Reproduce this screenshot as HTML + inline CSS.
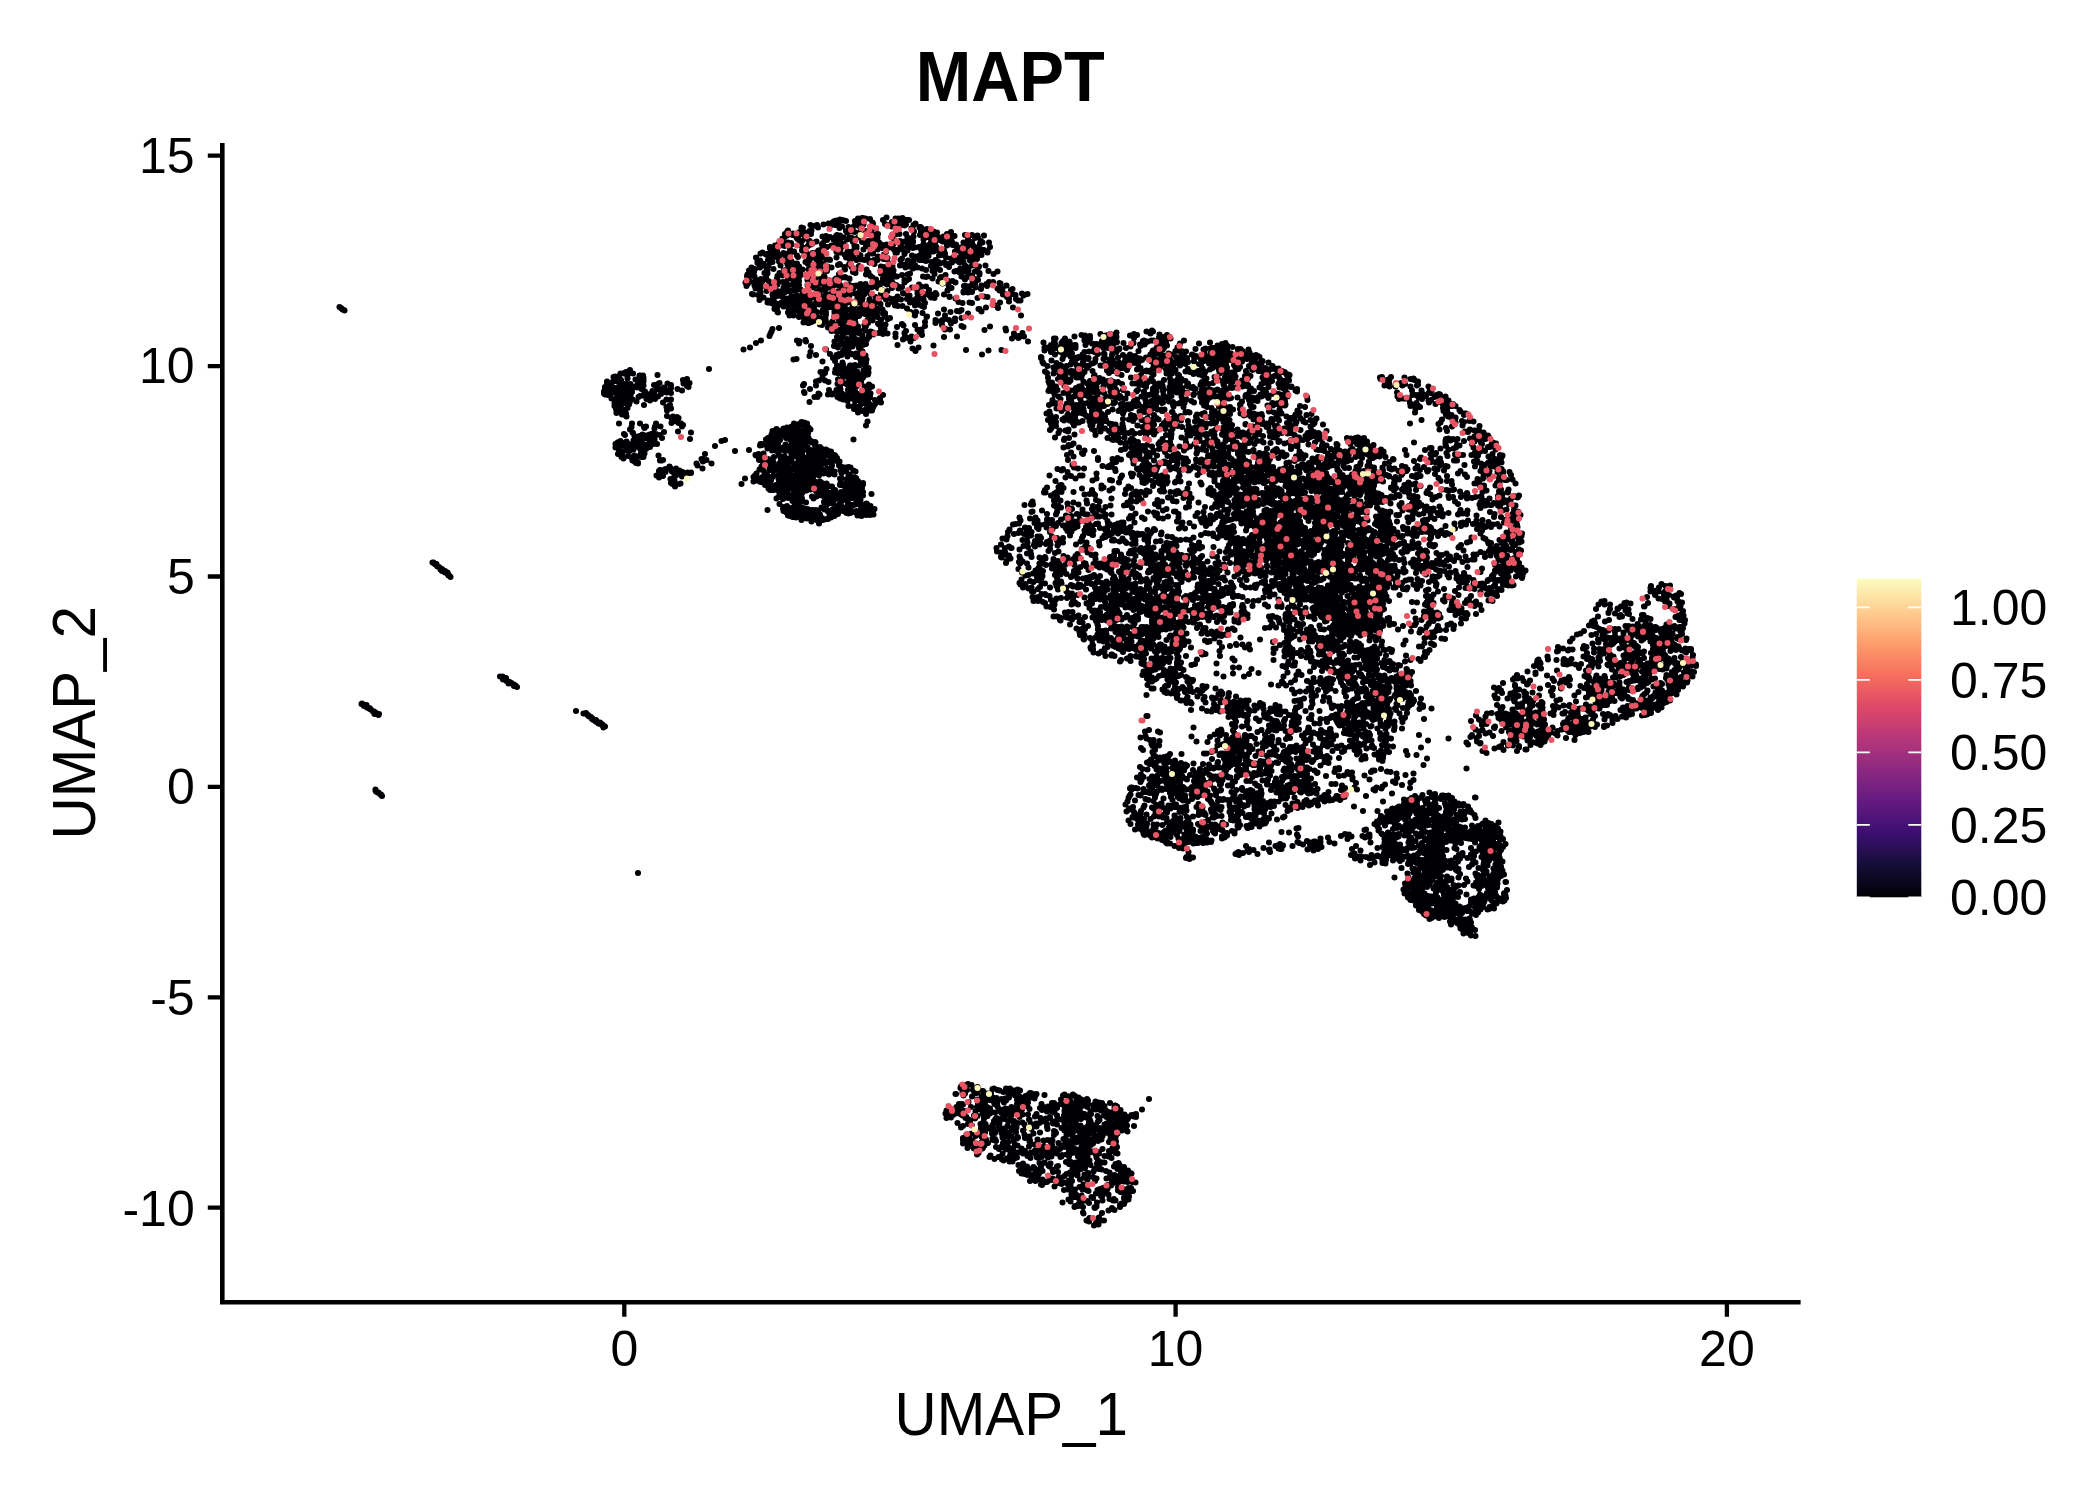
<!DOCTYPE html>
<html><head><meta charset="utf-8"><title>MAPT</title>
<style>
html,body{margin:0;padding:0;background:#fff}
body{width:2100px;height:1500px;overflow:hidden}
svg{display:block}
text{font-family:"Liberation Sans",sans-serif;fill:#000}
</style></head><body>
<svg width="2100" height="1500" viewBox="0 0 2100 1500">
<defs><linearGradient id="mg" x1="0" y1="1" x2="0" y2="0">
<stop offset="0" stop-color="#000004"/><stop offset=".1" stop-color="#140e36"/><stop offset=".2" stop-color="#3b0f70"/><stop offset=".3" stop-color="#641a80"/><stop offset=".4" stop-color="#8c2981"/><stop offset=".5" stop-color="#b73779"/><stop offset=".6" stop-color="#de4968"/><stop offset=".7" stop-color="#f7705c"/><stop offset=".8" stop-color="#fe9f6d"/><stop offset=".9" stop-color="#fecf92"/><stop offset="1" stop-color="#fcfdbf"/>
</linearGradient></defs>
<rect width="2100" height="1500" fill="#fff"/>
<text transform="translate(1010.2,101) scale(1,1.065)" font-size="66.67" font-weight="bold" text-anchor="middle">MAPT</text>
<g stroke="#000" stroke-width="4.6" fill="none">
<path d="M222.3 143V1304.6M220 1302.3H1800.6"/>
<path stroke-width="4.3" d="M207.8 155.7H222M207.8 366.1H222M207.8 576.5H222M207.8 786.9H222M207.8 997.3H222M207.8 1207.7H222"/>
<path stroke-width="4.3" d="M624.3 1302V1316.8M1175.6 1302V1316.8M1726.9 1302V1316.8"/>
</g>
<g font-size="50" text-anchor="end">
<text x="194.7" y="173">15</text><text x="194.7" y="383.4">10</text><text x="194.7" y="593.8">5</text><text x="194.7" y="804.2">0</text><text x="194.7" y="1014.6">-5</text><text x="194.7" y="1225.5">-10</text>
</g>
<g font-size="50" text-anchor="middle">
<text x="624.3" y="1366">0</text><text x="1175.6" y="1366">10</text><text x="1726.9" y="1366">20</text>
</g>
<text transform="translate(1011.3,1434.7) scale(1,1.06)" font-size="58.33" text-anchor="middle">UMAP_1</text>
<text transform="translate(95.3,722.7) rotate(-90) scale(1,1.06)" font-size="58.33" text-anchor="middle">UMAP_2</text>
<g fill="none" stroke-width="6.1" stroke-linecap="round">
<path d="M801.5 227.5h0m1.5 .5h0m7.5-3h0m2.5 1h0m4-1h0m1 2.5h0m5.5-3h0m5-1h0m2 1h0m0 1h0m1.5-1h0m1-2.5h0m1.5-1h0m.5 4h0m1.5-4.5h0m.5 4.5h0m1.5-2.5h0m0 1h0m1 4.5h0m.5-8.5h0m2 .5h0m0 6.5h0m2-6h0m0 0h0m2 .5h0m2.5 6h0m4.5 0h0m2-6h0m0 4h0m3-6.5h0m0 2.5h0m.5 .5h0m.5 4.5h0m1 1h0m1-1.5h0m1-7.5h0m1 0h0m.5 6.5h0m0-1.5h0m2-4.5h0m4.5 .5h0m2.5 3.5h0m.5 1h0m10-3.5h0m2 4h0m1.5-6.5h0m0 7.5h0m4.5-1h0m.5 1h0m.5-3h0m0 4.5h0m3-4h0m.5-4h0m2 9h0m.5-.5h0m.5-1.5h0m0-7h0m1 6.5h0m.5 .5h0m.5-1h0m.5-2.5h0m.5-3.5h0m1-.5h0m1 2h0m.5 2.5h0m.5 3h0m.5-.5h0m1-.5h0m0-4.5h0m1.5 0h0m1.5 0h0m3.5 8h0m1-3h0m2-1.5h0m4 4h0m.5-.5h0m.5 0h0m-138 11.5h0m1 .5h0m1.5-5h0m1 2h0m.5-2.5h0m.5-1.5h0m0 3.5h0m1-5h0m4.5 4.5h0m.5-1.5h0m3.5 4h0m.5-4h0m.5 5.5h0m1-6h0m0 3h0m0-1h0m1-3h0m2 .5h0m.5 1h0m0 .5h0m1.5-1.5h0m1.5 6h0m.5-2.5h0m.5-3h0m3 1h0m.5-3h0m1.5 3h0m.5-3.5h0m11 6h0m2.5 0h0m0 2h0m1-2.5h0m1 1.5h0m.5-.5h0m2.5 0h0m3.5 2.5h0m2-2.5h0m1 2.5h0m0-4h0m0 1.5h0m.5 2h0m0-4h0m.5 3.5h0m0 0h0m.5-2h0m2-1h0m0 1.5h0m3.5 .5h0m2.5-6.5h0m1 8.5h0m0-7h0m2.5 5h0m2.5 2.5h0m0-8.5h0m0 6.5h0m2.5-6h0m.5 8h0m.5-1h0m2.5-1.5h0m1.5-5h0m.5 1h0m0 1h0m1-6h0m5 2.5h0m1 1.5h0m.5 1.5h0m1-3.5h0m3-1.5h0m.5 5h0m1 5.5h0m0-2.5h0m.5 2.5h0m.5-5h0m2-6h0m1.5 9.5h0m.5-4h0m14 3.5h0m.5-3h0m3 0h0m1-1h0m0-4h0m3 4.5h0m6.5 0h0m1.5 4.5h0m0-1h0m1 1h0m.5 1h0m2.5-11h0m2 8h0m.5-5h0m6 3.5h0m1-2.5h0m0-1.5h0m.5-3h0m1 6.5h0m1 2h0m0 3h0m0-6.5h0m0-2.5h0m2 7h0m1-.5h0m.5-8h0m2.5 3h0m.5 5.5h0m.5-1h0m0-7h0m2 9.5h0m1-6h0m0-1.5h0m1.5 6.5h0m.5-4h0m1.5-1.5h0m1 4.5h0m1.5 3h0m4-3.5h0m1.5 2h0m2-4.5h0m.5 5h0m2 .5h0m1.5-1h0m0-6.5h0m.5 4.5h0m.5 1h0m2.5-1.5h0m10.5-1h0m3 3h0m4-3h0m3 3h0m2-.5h0m0-.5h0m.5-1.5h0m0 1.5h0m.5 .5h0m6-2h0m-214 13h0m0-1.5h0m4 1h0m1 3.5h0m0-6h0m.5 3.5h0m1.5 2h0m0-4h0m1.5-3h0m.5 2h0m2-2.5h0m2.5-1h0m1 3.5h0m1.5-3h0m2-.5h0m2 7h0m1-6.5h0m.5 1.5h0m.5 7.5h0m2-.5h0m6-9.5h0m1 3.5h0m1-4.5h0m0 9.5h0m.5-3h0m1.5 1.5h0m1.5 0h0m1-1.5h0m1-1h0m1-1h0m.5-5h0m0 3.5h0m2 .5h0m1-2h0m.5 1h0m4-2h0m2 9h0m1.5-.5h0m2-5.5h0m1-1.5h0m1.5 5.5h0m2.5-1.5h0m0-7h0m4.5 5.5h0m4-2.5h0m2.5 1.5h0m1 5.5h0m.5-7h0m0 1h0m.5-2.5h0m.5 7.5h0m.5-1.5h0m2.5-3.5h0m2 2h0m2 5.5h0m.5 0h0m5-9.5h0m1.5 4h0m0 3h0m1 .5h0m1 2.5h0m0-5.5h0m0 1.5h0m5.5-6h0m1.5 7.5h0m2.5-3.5h0m.5-.5h0m1-2.5h0m.5-2h0m1.5 3.5h0m.5-3.5h0m0 6.5h0m.5-2h0m2.5-4h0m3 .5h0m1.5 7.5h0m0-3h0m1-2.5h0m.5-1.5h0m1 1.5h0m1.5 .5h0m0 .5h0m.5 3h0m0-2h0m2.5-.5h0m.5 1.5h0m1.5-2.5h0m.5 2h0m2.5 1h0m4-3.5h0m.5 5.5h0m.5-8.5h0m.5 1h0m2 8h0m2-.5h0m1-8.5h0m.5 5h0m.5 0h0m1.5 3.5h0m1-7.5h0m1-.5h0m.5 7h0m1-.5h0m1.5 2.5h0m0-1h0m.5-4h0m2-4.5h0m.5 1.5h0m2 2h0m.5 3.5h0m0-6h0m0-1h0m.5 6.5h0m1.5 0h0m4-.5h0m1 0h0m0 1h0m1.5 2.5h0m2-6.5h0m1.5 3h0m.5 1h0m.5-2h0m2.5 1h0m0 2.5h0m1-5h0m.5 3h0m.5 4h0m0 0h0m0-1h0m.5-.5h0m0-8h0m1 9.5h0m1-10h0m.5 10h0m1.5-8h0m0-.5h0m1 3.5h0m1.5 3.5h0m5-8.5h0m1.5 9h0m1.5-8.5h0m1.5 3.5h0m2-5h0m3 1.5h0m.5 3h0m1 0h0m1.5 6.5h0m1-7h0m0 1.5h0m.5-.5h0m2 4.5h0m2 0h0m.5-2h0m1.5-1h0m.5 3.5h0m.5-8h0m2 8h0m1-2.5h0m.5 3h0m.5-10h0m0 10.5h0m0-5h0m4.5-4h0m0-.5h0m1 3.5h0m1 5.5h0m0-3.5h0m1-.5h0m2.5 2.5h0m2-.5h0m.5-5.5h0m1-2.5h0m.5 8.5h0m1-7h0m1.5 7.5h0m3.5 1h0m1.5-8.5h0m1 4.5h0m-234 10.5h0m1.5 4h0m0 1.5h0m2.5-2.5h0m0 2.5h0m.5-9.5h0m2-1h0m.5 11h0m3-9h0m.5-.5h0m1.5 6h0m0-6h0m1 1.5h0m2.5-2.5h0m0-.5h0m.5 5.5h0m.5 4h0m1.5-9h0m.5-1h0m3 5.5h0m.5-3.5h0m0 .5h0m1 2.5h0m0 4.5h0m1-1.5h0m3.5-7h0m1.5 .5h0m0 2h0m.5-1h0m.5 5.5h0m0 1.5h0m1.5 1.5h0m2.5-10.5h0m1.5 9h0m2.5 2h0m3 0h0m0-8h0m1 1.5h0m6.5-2h0m.5 0h0m.5 7h0m1-9h0m.5 1h0m1 10h0m.5-9h0m.5 3.5h0m.5 3.5h0m.5-7.5h0m0 4.5h0m.5-4.5h0m2-1.5h0m.5 2.5h0m.5 2h0m2.5-1.5h0m.5 3h0m.5-7h0m0 9h0m3-1.5h0m1-7h0m0 5.5h0m.5-2.5h0m.5 2h0m1-4h0m0 10h0m4-4h0m2.5 0h0m.5 .5h0m6.5-8h0m0 5.5h0m3.5-5h0m4.5 2h0m1.5 3h0m2.5-3.5h0m1.5 6h0m0-7.5h0m.5-.5h0m.5 1h0m1 1.5h0m1.5-1h0m0 4.5h0m3 2h0m2.5-5.5h0m0 5h0m1.5-1.5h0m0-2.5h0m1.5 4h0m2.5 .5h0m3-4h0m2 6.5h0m.5-1.5h0m.5-8.5h0m2.5 1h0m1 6.5h0m.5 4h0m0-3.5h0m3-.5h0m.5-3.5h0m5.5 2.5h0m.5-4.5h0m1.5 4h0m.5-6.5h0m1 7.5h0m.5-1.5h0m4.5 5.5h0m3.5-10.5h0m1.5-.5h0m3.5 7.5h0m1.5-1.5h0m2.5-4.5h0m3.5 6.5h0m4-5h0m1.5 5h0m2-4h0m4-1h0m0 4.5h0m1-5h0m1 3h0m.5 2h0m1.5-6.5h0m1 7h0m.5-3h0m1 3.5h0m.5-.5h0m1-7.5h0m1 3h0m3 6h0m4-1.5h0m0-.5h0m3 2h0m.5-6.5h0m1 8h0m.5-8.5h0m1 0h0m1-1h0m1.5 8.5h0m1-9h0m1 4h0m1.5 6.5h0m3.5-5.5h0m.5 1h0m.5 3h0m1.5-3h0m.5-1h0m.5-2.5h0m1 1.5h0m2 3.5h0m0-3h0m2 4.5h0m1.5-9.5h0m.5 7.5h0m.5-4.5h0m.5 4.5h0m1 1.5h0m1-9.5h0m2 3h0m.5 1h0m.5-1h0m1-1.5h0m1.5 0h0m0 6.5h0m1.5-7.5h0m0 5h0m.5-3.5h0m.5 3h0m1 6.5h0m0-5.5h0m.5 4.5h0m.5 1h0m2.5-5h0m.5-5.5h0m1.5 1.5h0m.5-.5h0m1.5 0h0m.5 .5h0m6-2.5h0m-240.5 23.5h0m.5-1.5h0m1.5-4h0m2.5 5h0m0-8h0m2 4.5h0m.5 0h0m1-3h0m5-1.5h0m2-2h0m2 0h0m.5 7.5h0m2-5.5h0m0 3.5h0m1 2.5h0m0-3.5h0m1-4.5h0m5 3.5h0m4 7h0m2-3h0m1-7.5h0m2 10h0m1.5-5h0m2-.5h0m1.5-5.5h0m.5 6.5h0m1-6.5h0m1 3h0m1 4.5h0m1 3h0m.5-8h0m0 8h0m0-6h0m.5-2.5h0m0 1h0m.5-1h0m0 6h0m0-5.5h0m2.5 2h0m1.5 2.5h0m.5 2h0m1-7h0m1.5 8.5h0m.5 0h0m1.5-5.5h0m6 0h0m2 4.5h0m.5-4.5h0m0-.5h0m0 .5h0m.5 2.5h0m0 2.5h0m0-1.5h0m1.5 0h0m1.5-2h0m.5 3.5h0m0-2.5h0m0-.5h0m.5-1h0m.5 1.5h0m.5-3.5h0m.5-4h0m.5 4.5h0m0 3h0m.5 3h0m.5-4h0m.5 4h0m1-1.5h0m1.5-9h0m.5 2h0m0 3.5h0m0 5h0m3-7h0m2 3h0m.5-4.5h0m4 1h0m6.5-2.5h0m1 9h0m.5-10h0m.5 12h0m0-11.5h0m0 10.5h0m4.5-5.5h0m0-2.5h0m.5 2.5h0m4-5h0m2.5 2.5h0m1.5 5h0m1.5-3.5h0m1 4.5h0m3.5-7h0m0 2h0m7 6.5h0m.5-5h0m2 3h0m12.5-4.5h0m0-1.5h0m0 7h0m.5-3h0m.5 3h0m1.5 1h0m.5-7.5h0m1 6h0m3-2h0m0 2h0m1-7h0m1 1.5h0m.5-3.5h0m1 2.5h0m0 8.5h0m1-8.5h0m.5 7h0m.5-3h0m.5 5h0m6-10h0m2 9.5h0m.5-10h0m2.5-.5h0m.5 3h0m1-3h0m.5 1.5h0m.5 8.5h0m2.5-8h0m0 7h0m0-9h0m3 4h0m.5-4.5h0m1.5 1h0m2.5 2.5h0m4.5 1h0m4 1.5h0m5-4h0m1.5 5h0m2-4.5h0m0 7.5h0m0-4h0m.5-3.5h0m1.5 0h0m3.5 3.5h0m5.5 5h0m.5-10h0m3 2h0m5.5 4.5h0m1.5-.5h0m3-1h0m.5 2.5h0m1-4h0m4-1h0m.5 4h0m0-6h0m3 2h0m.5 3h0m0 4h0m3.5 1h0m0-10h0m2-.5h0m1 6.5h0m2.5-2.5h0m1.5-2.5h0m.5 6.5h0m0 1.5h0m6-9h0m3 5.5h0m5 3h0m4-2.5h0m-252 11h0m1 3.5h0m.5-4.5h0m1 2h0m1-6.5h0m1 4.5h0m4.5 4h0m0-9h0m1 4h0m1-.5h0m.5 0h0m.5 4h0m0-2h0m.5 1h0m1 3.5h0m.5 1h0m.5-7.5h0m1-1h0m1 7h0m.5-5h0m3.5-4h0m.5 2h0m2.5 2.5h0m1.5 4.5h0m5-2h0m1.5-5.5h0m.5 6h0m.5-3.5h0m5 1h0m1 1h0m.5 2.5h0m.5 .5h0m0-4h0m1.5-.5h0m.5-5.5h0m.5 .5h0m1 8.5h0m3-6.5h0m1 6.5h0m1-3.5h0m1 5h0m1.5-7.5h0m1.5 3.5h0m.5 5h0m.5-6h0m.5 3.5h0m0-7.5h0m0 3.5h0m8.5-1h0m0 5h0m1 1.5h0m1.5-7h0m0 6h0m1-3h0m.5 4.5h0m.5-5h0m.5 1h0m.5 4.5h0m2-8h0m0 2h0m0 3.5h0m0 0h0m2.5 1h0m0-9.5h0m1 7h0m3-3h0m1.5 3h0m1-1.5h0m.5-5.5h0m1.5 7.5h0m0-3h0m1.5-.5h0m1 1h0m1 6h0m.5-1.5h0m2-3h0m1.5 2.5h0m1.5-6h0m1-1h0m2-.5h0m0 2h0m.5 5.5h0m.5-2.5h0m0-4h0m.5-2h0m1.5 9h0m1 2h0m0-1h0m0-9.5h0m3-.5h0m.5 .5h0m2 10h0m.5-2.5h0m.5 3h0m1-3h0m0-6h0m0-.5h0m.5 7h0m1.5 1h0m.5-.5h0m1.5 0h0m2.5-.5h0m3.5 2h0m1-2h0m0-1.5h0m1.5 4h0m1.5-1.5h0m1-1h0m1-1.5h0m.5 2.5h0m1.5 .5h0m3-11h0m.5 11.5h0m1.5-.5h0m0-9.5h0m3.5 2h0m0 5h0m1 1.5h0m1-1h0m0-2h0m1.5 4h0m3-5.5h0m.5-3h0m1 4.5h0m0-2h0m2-4h0m1 2.5h0m0 5h0m1-3h0m0 2.5h0m1-2h0m2.5-3.5h0m.5 3.5h0m.5 4h0m.5-2.5h0m2-7h0m1 8.5h0m1-8.5h0m1 10h0m4 .5h0m2.5-4.5h0m0-2.5h0m2 .5h0m2.5-1.5h0m3 8.5h0m7-3h0m2 2h0m2-10h0m3 10h0m0-9.5h0m1.5-.5h0m5 2h0m6 3h0m1.5-3.5h0m.5 3h0m.5-4h0m1.5 4.5h0m0 2h0m5-3h0m1 5h0m4-4.5h0m3 1.5h0m6-6h0m2.5 9.5h0m.5-7.5h0m.5-.5h0m0 1.5h0m1 6.5h0m1.5-9h0m1-.5h0m1.5 0h0m1 9h0m1.5-7h0m0 2h0m2.5-1.5h0m0 4.5h0m.5 4h0m2.5-7.5h0m3.5 5.5h0m5-1.5h0m.5 2h0m2-4h0m4 0h0m6.5 1h0m1 .5h0m6 2h0m-254.5 8.5h0m0 0h0m1 .5h0m2.5-6h0m2.5 6.5h0m1.5 5h0m.5-9.5h0m.5 2h0m3 5h0m3-6.5h0m.5-2.5h0m4 .5h0m1.5 11h0m0-5.5h0m.5 2.5h0m1.5-6h0m0 5h0m.5-3.5h0m.5 4h0m0-7.5h0m.5 4.5h0m1.5 2.5h0m.5-4h0m2-.5h0m0 3.5h0m2 1.5h0m1-3h0m.5-5.5h0m1 4.5h0m.5 6h0m2.5-10h0m0 10h0m2-7h0m.5 0h0m1 8.5h0m.5-3.5h0m.5 3h0m.5-9h0m2.5 9.5h0m0-10h0m0 1h0m0 6h0m1-1h0m1 3.5h0m0-4h0m.5-6h0m3 10.5h0m0-10.5h0m1 7.5h0m1 2.5h0m0-7h0m0 4h0m1 0h0m.5 2h0m1-5h0m1 5.5h0m1-3h0m0 2h0m.5-.5h0m3 1h0m.5-3.5h0m1 2h0m1-1h0m1 .5h0m.5-2h0m0 2.5h0m1.5-3.5h0m.5 6h0m0-6.5h0m.5-1h0m2.5 0h0m0 .5h0m1-2.5h0m0 8.5h0m.5-9h0m1.5 7h0m1 1.5h0m1-10h0m0 10.5h0m.5-8.5h0m1 4h0m0-5.5h0m3.5 7h0m1-1.5h0m1.5-6h0m1.5 11h0m2-7h0m1 2h0m1-2.5h0m0 4.5h0m.5 .5h0m0 .5h0m.5 0h0m2-5h0m1.5 2h0m0 4.5h0m.5-1.5h0m.5-7.5h0m0 3h0m.5 7h0m.5-1h0m.5-4.5h0m0 1h0m.5-3h0m1 8h0m0-10h0m1 5.5h0m0 1.5h0m1.5-.5h0m0-5h0m1 2h0m0 2h0m4-7.5h0m1.5 5.5h0m2.5 4.5h0m0-3h0m1.5-2.5h0m0 .5h0m1-5h0m1.5 7h0m1 3.5h0m0-3h0m1-3.5h0m.5 2.5h0m.5-.5h0m2.5-4h0m2.5 9.5h0m1-5.5h0m5 3h0m1 3h0m1-1h0m.5-11h0m3 6h0m.5-4.5h0m.5 7h0m.5 0h0m1-2h0m1.5 2h0m1 3h0m0 0h0m.5-7h0m1 5h0m0-6.5h0m2.5 7.5h0m2-10.5h0m2 11h0m3.5-2.5h0m1-8h0m2.5 11h0m2-6.5h0m.5 .5h0m3.5 5.5h0m1-3h0m1 .5h0m.5-1h0m4.5 4.5h0m2-1h0m.5 0h0m.5-9.5h0m.5-1h0m0 11.5h0m0-9.5h0m0 3h0m.5 3.5h0m0 2.5h0m1.5-11h0m1.5 3.5h0m.5 6.5h0m2 1h0m0-.5h0m2-5h0m3.5-4h0m.5 5.5h0m0-1.5h0m1.5 3.5h0m0-3h0m3.5 3.5h0m1-5h0m1 1.5h0m7.5 0h0m3.5-4h0m2 6h0m0 .5h0m2-9h0m4 10.5h0m8-6h0m0-1h0m3-3h0m1.5 4h0m1-4.5h0m3 4h0m5.5 6h0m3.5-9h0m3 7.5h0m3.5 .5h0m10-8.5h0m2 2h0m1.5-1h0m1.5-1h0m.5 6h0m0-1h0m1 0h0m3 3.5h0m2 1.5h0m2-8.5h0m1 4h0m.5-5h0m3 6h0m.5 4h0m6-5.5h0m1.5 2h0m4-1.5h0m-688 13h0m1.5 1h0m.5 .5h0m1 1h0m1.5 .5h0m.5 .5h0m423-8h0m.5-2h0m1 2h0m.5-.5h0m1.5 1h0m3 1.5h0m0-3h0m.5 7.5h0m2-5.5h0m0 .5h0m.5 5.5h0m.5 2.5h0m.5-6.5h0m3.5-3h0m2 4h0m2.5-5.5h0m1 2h0m1.5 2.5h0m0 2.5h0m.5 1.5h0m1-3h0m3-1.5h0m0 1h0m.5-6h0m0 5.5h0m1 4.5h0m0-7h0m0 6.5h0m.5-8h0m.5 4h0m1-4h0m1-1h0m0 0h0m.5-.5h0m.5 11h0m1-7.5h0m0-1h0m.5 8.5h0m.5-4h0m.5-2h0m3.5 1.5h0m.5 0h0m0 3.5h0m0-3h0m.5 2h0m.5-8h0m2 10.5h0m0-8h0m.5 3h0m.5 5h0m0-5.5h0m.5-4.5h0m.5 2.5h0m0 3h0m.5 4.5h0m.5-1h0m1-5h0m1.5 5.5h0m.5-4h0m.5 3h0m1-6.5h0m1 .5h0m.5 8h0m2-7.5h0m0-3h0m0 2.5h0m2 0h0m1.5 7.5h0m.5-7h0m0-1h0m0 6h0m2-8h0m1 5.5h0m1-4.5h0m1 5h0m1-6h0m1.5 .5h0m1 2h0m1 3.5h0m1.5-4.5h0m.5 8h0m0-1.5h0m2-5.5h0m0 5h0m0-6.5h0m.5-1h0m.5 4.5h0m0-4h0m.5 6.5h0m.5-.5h0m0-2h0m1-4h0m1 5h0m1 1h0m0 1h0m1 2h0m0-7h0m.5 5h0m0-6.5h0m.5 7h0m.5-1h0m0-3h0m.5-5.5h0m.5 .5h0m0 7.5h0m0-4.5h0m.5 0h0m.5 7.5h0m1.5-1h0m.5-7.5h0m1-1.5h0m1.5 9h0m.5-1h0m1.5 2h0m0-2.5h0m.5 1.5h0m0-4h0m.5-3h0m.5 8h0m.5-5.5h0m0 5.5h0m4-8.5h0m1 6.5h0m1.5 .5h0m.5-7.5h0m.5-1h0m0 1h0m.5 4.5h0m3 3h0m.5-1.5h0m1 3.5h0m1.5-8h0m.5 7h0m1-8.5h0m0 5.5h0m1.5 0h0m0 2h0m.5-2h0m0-5.5h0m.5 5h0m1 4.5h0m1-8h0m0 3.5h0m1.5-6.5h0m.5 8h0m2-7.5h0m2 3h0m1 5h0m1 .5h0m5.5-5h0m4.5-2.5h0m2.5 3.5h0m1-5h0m2 5.5h0m4.5 0h0m4.5 2.5h0m3-6h0m1.5-1h0m3.5 4h0m1 6.5h0m1.5-10.5h0m.5 2h0m2 1.5h0m2 1h0m2 1h0m1-4h0m19 6.5h0m6.5 2.5h0m6.5-1h0m1.5-9h0m1 9.5h0m2-1.5h0m1-7h0m7-.5h0m2.5 .5h0m6.5 6h0m1 0h0m2 2.5h0m4.5-4h0m8.5-2.5h0m3.5 3h0m2-5.5h0m9-1h0m4 6h0m5-7h0m2.5 0h0m-242.5 12h0m10 0h0m1.5 3h0m3-2.5h0m1 1.5h0m0 1h0m5.5 1.5h0m.5-4h0m3 3h0m1 6.5h0m.5-4.5h0m0-3.5h0m.5 7.5h0m.5-8.5h0m0 5.5h0m0-6.5h0m0-.5h0m.5 8.5h0m1-.5h0m1-3.5h0m0-1h0m.5 7.5h0m1 0h0m.5-8.5h0m0 2.5h0m0 5.5h0m.5-3.5h0m0 .5h0m.5 .5h0m0-5.5h0m1 7.5h0m0-5h0m.5 3.5h0m.5-6h0m0 4h0m1 2.5h0m.5-5.5h0m1.5 4h0m0-.5h0m0 1h0m0-8h0m1 1h0m1 5h0m.5 1.5h0m0-1.5h0m2 0h0m2-5.5h0m0 6.5h0m1.5 1.5h0m0 .5h0m2-3.5h0m0 2h0m.5-5h0m0 7.5h0m0-9.5h0m5.5 10.5h0m.5-1h0m.5-.5h0m1.5-4.5h0m.5-4h0m1 3.5h0m1 .5h0m0-3h0m2-1h0m.5 7.5h0m.5-2.5h0m.5 5.5h0m1-2.5h0m1-8.5h0m1.5 2h0m1.5-.5h0m0 3h0m0 3.5h0m.5-3.5h0m1.5-1.5h0m1.5 1h0m1 1.5h0m.5 3.5h0m2-9.5h0m1.5 2.5h0m0 3.5h0m.5-3h0m1-.5h0m0 4.5h0m0-5.5h0m.5 9.5h0m0-9.5h0m.5-1.5h0m3 4h0m.5-1h0m0-1.5h0m5.5 .5h0m0 9.5h0m2.5-3.5h0m.5 3h0m0-8h0m1 5.5h0m.5-6.5h0m.5 6h0m2.5 .5h0m1-4.5h0m1-1h0m2.5-2h0m.5 4h0m.5 6.5h0m3-3.5h0m2-6.5h0m1.5 3h0m.5-3.5h0m0 2h0m2.5 3.5h0m.5 .5h0m2-1h0m12 6h0m8.5-12h0m3 2h0m1.5 1.5h0m7.5-2.5h0m2.5 9h0m1.5-5h0m.5-.5h0m8.5 6.5h0m0-3h0m2.5-6.5h0m3 7.5h0m1.5-.5h0m0-.5h0m2-1h0m.5-3.5h0m4 4.5h0m2 3.5h0m4-5h0m0 2.5h0m6.5-3h0m6.5-4.5h0m53 2h0m-250.5 18h0m1-2h0m1-2.5h0m6.5-1h0m41-3.5h0m2 .5h0m6 2.5h0m0-.5h0m1-1h0m2.5 5h0m.5-6h0m.5 0h0m3 0h0m0 6h0m2.5 1h0m1-2h0m2 1h0m1.5-2.5h0m1-4h0m1.5 8.5h0m0-2.5h0m.5-3.5h0m1.5 1.5h0m0 4h0m2-5.5h0m1 5h0m1.5 2h0m1.5-3h0m1-4.5h0m1.5 6h0m2.5-6h0m0 4h0m.5 2.5h0m1 .5h0m0-2.5h0m3 4.5h0m2-10.5h0m0 4h0m1 1.5h0m0 0h0m.5-4.5h0m3 9.5h0m1-2.5h0m.5-1.5h0m2.5 1h0m.5 2h0m5-1.5h0m.5-8.5h0m2 4h0m1-3h0m1 8.5h0m1.5-5.5h0m1-4h0m.5 8.5h0m1.5 .5h0m8 0h0m1.5-6.5h0m6.5-1.5h0m1 7.5h0m.5 3h0m1-5h0m9-6h0m2.5 4.5h0m2 2.5h0m2 0h0m0-2.5h0m.5 5.5h0m3-9h0m17-1h0m3 4.5h0m0-1h0m5 1h0m11.5-3.5h0m2 1h0m21 3h0m5.5-3.5h0m15.5 2h0m.5 2h0m8 3h0m8.5-.5h0m59 2h0m3.5 .5h0m15.5-1.5h0m5 1.5h0m2.5-.5h0m2.5-1h0m1 1h0m.5 0h0m3 .5h0m1.5-3h0m13.5 3h0m4 0h0m0-1.5h0m3 1h0m9.5-3.5h0m4 2h0m1.5-3h0m1 1h0m6.5 3h0m7.5 .5h0m-417 12.5h0m6-4.5h0m5-2.5h0m8.5-4.5h0m27.5 4.5h0m2 .5h0m0 2.5h0m.5-2h0m6-1.5h0m.5 1.5h0m5 4.5h0m23 0h0m.5-4.5h0m2.5-4.5h0m1 10.5h0m.5-2h0m.5-6h0m1 5h0m1-4h0m1 2.5h0m.5-6.5h0m0 0h0m1 7.5h0m1.5 2.5h0m2-7.5h0m1.5 5h0m.5 3.5h0m1.5-8.5h0m1.5 4.5h0m0 1.5h0m.5 1.5h0m.5-7h0m.5-2.5h0m1 7h0m2-4.5h0m.5 2h0m1 2h0m2-2h0m.5 6h0m.5-4h0m.5-4h0m1-3h0m.5 8.5h0m.5-3h0m.5-.5h0m2 2.5h0m1-4.5h0m2-2.5h0m26.5 0h0m2 8h0m5.5-5.5h0m.5-.5h0m4.5-1h0m2.5 3.5h0m1-5h0m2.5 1.5h0m4.5 9.5h0m15-2h0m10.5-8.5h0m13-.5h0m55 2h0m2-2h0m4.5-.5h0m0 2h0m1.5-1.5h0m4 0h0m4 5h0m15.5 1h0m1 5h0m3 0h0m3.5-2.5h0m.5 1.5h0m1-1h0m1.5-3.5h0m0-3.5h0m1 5h0m.5-5h0m.5 9.5h0m.5-.5h0m4.5-1.5h0m.5-3h0m1.5-2h0m1 1h0m0 5h0m1-8.5h0m3.5 7.5h0m1-4.5h0m0 .5h0m0 0h0m2 5.5h0m3-11h0m0 8.5h0m1 3h0m0-3h0m0 2h0m9-7.5h0m0 .5h0m0 .5h0m1 4.5h0m1-2.5h0m.5-1.5h0m.5-4h0m2.5 1.5h0m0-2.5h0m2 7.5h0m3 .5h0m1 3.5h0m1-3.5h0m.5 1h0m1 0h0m1.5 .5h0m2-4.5h0m1-1h0m2 3.5h0m.5-3.5h0m0 1.5h0m1 4.5h0m.5-3.5h0m.5 5h0m0-7h0m1.5-1h0m1 6.5h0m.5 .5h0m.5-3h0m1.5-4h0m0-2.5h0m.5 7.5h0m3.5-7.5h0m0 5.5h0m.5-.5h0m6.5 1h0m7 3.5h0m3-3.5h0m.5-5h0m6 6.5h0m.5 1.5h0m2.5-5h0m1-.5h0m.5 4h0m1-1.5h0m2.5-1.5h0m3.5-1h0m2 0h0m5.5-3h0m.5 6h0m1.5-4h0m1.5 2h0m.5 2.5h0m.5-7h0m2.5 5.5h0m1 3h0m1-8.5h0m1 0h0m1.5 1.5h0m7 9h0m2-2.5h0m.5-1.5h0m4-3h0m15 3h0m11-1h0m2.5 5.5h0m5-2.5h0m3.5 .5h0m1-2h0m3 3.5h0m.5-4.5h0m2 3h0m5 1h0m-489 2.5h0m50 10h0m3-.5h0m13-3h0m1-4h0m5.5 3h0m10-5.5h0m4 4.5h0m3 4h0m3.5-3h0m1.5 1.5h0m1-2.5h0m2.5 1h0m1.5-3.5h0m.5 1h0m0 0h0m.5-3h0m1 2h0m0-3h0m2.5 8h0m1-7.5h0m2 4.5h0m2.5 1h0m3 2.5h0m0-3.5h0m1.5 2h0m1-1h0m.5-6.5h0m1 5h0m1.5 6h0m.5-5h0m.5-2.5h0m2 4h0m1 0h0m1 4h0m46-11h0m3 2.5h0m50.5-1h0m16 4.5h0m6.5-4h0m13-.5h0m39.5 8h0m0-1h0m.5 .5h0m3-7h0m.5-1h0m5.5 0h0m.5 0h0m0 2.5h0m1-.5h0m.5-3.5h0m0 2.5h0m2.5 4h0m5-3h0m.5 .5h0m.5-1.5h0m.5 1h0m1 7.5h0m0-9.5h0m1 6.5h0m.5-5h0m1 3.5h0m1-2h0m0 0h0m2-4.5h0m2.5 4h0m0 4.5h0m1-1h0m.5-2h0m1.5 6h0m3.5-2h0m0 1h0m1.5-1.5h0m3 .5h0m1-3h0m2-2.5h0m.5 5.5h0m3 1.5h0m.5-1h0m.5-6.5h0m4 0h0m1.5-2.5h0m0 3h0m1 7h0m.5-8h0m1.5 3h0m.5 0h0m5.5-6h0m0 0h0m0 11h0m.5-5.5h0m.5 .5h0m0 2h0m3-8h0m2 11.5h0m2.5-4.5h0m.5-3h0m0 8h0m0-11h0m0 2.5h0m2.5-1h0m1-1h0m.5 2.5h0m1-2h0m.5 7.5h0m1-8h0m.5-1h0m3.5 6.5h0m2.5 3h0m.5-10h0m2.5 8.5h0m1.5-2h0m2 5h0m3-3.5h0m2.5 2h0m1-7h0m1.5 7.5h0m2 1.5h0m4-2.5h0m4-1.5h0m.5-1.5h0m2-2.5h0m0-.5h0m.5-1h0m.5 7h0m.5-2h0m0 3h0m1.5-5.5h0m1-5h0m0 2.5h0m.5 2.5h0m1-4h0m1 5h0m1.5 6h0m0-5h0m1.5-6.5h0m.5 1.5h0m.5 6h0m1-8h0m0 8h0m2.5 4h0m0-2h0m0-.5h0m1-.5h0m.5 1.5h0m0 1.5h0m.5-6.5h0m1.5 6h0m1.5-5h0m4-3.5h0m.5 6h0m3-6h0m2 0h0m0 7h0m.5-7h0m0 4.5h0m.5-3.5h0m2 4h0m.5-3.5h0m1.5-1h0m1 6.5h0m5-3.5h0m2 2.5h0m.5-1.5h0m1-6.5h0m2 7.5h0m3 2h0m3-9h0m.5 9.5h0m.5-4h0m0 3h0m0-6h0m1-3.5h0m2 9h0m3-3h0m0-6h0m.5 4h0m0 6.5h0m1.5 .5h0m1-11.5h0m2 5.5h0m0-1.5h0m0-3h0m.5 6.5h0m1 2.5h0m1.5-2h0m.5 3.5h0m.5-5h0m.5-5h0m.5-.5h0m2 0h0m.5 9.5h0m.5-5h0m2 1h0m0 0h0m1 4.5h0m.5-9.5h0m3.5 4h0m0 3h0m.5-3h0m.5 5.5h0m0-1.5h0m1 2.5h0m.5 0h0m1.5-3h0m2.5 1.5h0m0 1h0m1-8h0m0-2.5h0m2.5 0h0m0 5.5h0m.5 2.5h0m1.5 1h0m0-7h0m.5 1.5h0m3 5.5h0m.5-2h0m.5 3h0m.5-5.5h0m1-4h0m1 3h0m2.5 3h0m.5 4.5h0m2-4h0m.5 3.5h0m1-4.5h0m.5 2h0m1.5-1h0m1.5 1h0m-630 13.5h0m.5-.5h0m79-1h0m113.5-7.5h0m1.5 10.5h0m2.5-3h0m8.5-8h0m.5 8.5h0m1.5-4h0m1.5 1h0m2 5h0m.5-2h0m1.5-7h0m.5 2h0m1 4h0m.5 3h0m.5-2.5h0m2-.5h0m1.5 1.5h0m1-3h0m.5-1.5h0m1 0h0m1.5 1h0m1.5 4.5h0m.5-3.5h0m.5-2.5h0m2 6.5h0m2.5-6h0m1-5.5h0m.5 1.5h0m.5 2h0m1-1h0m1 8h0m2-3.5h0m.5-4h0m2.5 5.5h0m0-.5h0m174-6h0m1 1.5h0m1.5 8h0m2.5-5.5h0m4-5.5h0m2 7h0m1 2.5h0m2-7h0m.5 1.5h0m1.5 2.5h0m1-1.5h0m1-.5h0m1.5 7h0m1.5-4h0m1.5 0h0m0-1.5h0m1.5-.5h0m.5 5.5h0m3.5-7h0m.5 6.5h0m1 0h0m0-9.5h0m3-1h0m1.5 4.5h0m1 3.5h0m2 1.5h0m1-3h0m.5-1.5h0m2-3.5h0m2 3.5h0m2 2.5h0m2-2.5h0m3-2h0m.5 7.5h0m1-8h0m1.5-1h0m5.5 3.5h0m2.5 0h0m3-1.5h0m1 6.5h0m.5 0h0m.5 .5h0m1-2.5h0m.5-5h0m.5 4.5h0m1 2h0m1-9h0m1 4h0m0 6h0m1-7h0m.5-1h0m3 3.5h0m.5-.5h0m1-3.5h0m.5 4h0m.5 2h0m1.5-4.5h0m2 4h0m1.5-7h0m1.5 2.5h0m.5 6.5h0m1-2.5h0m.5-6h0m.5 1.5h0m4 0h0m3-.5h0m.5 .5h0m.5 6.5h0m1.5-2.5h0m0-4.5h0m2 5.5h0m2 3.5h0m4-1h0m.5 1h0m3.5-1h0m1-9h0m1.5 7h0m.5-4.5h0m2 2.5h0m0 1.5h0m1-5.5h0m.5 7h0m0-9.5h0m3 7.5h0m0-4.5h0m.5-1h0m.5 2h0m0 .5h0m1.5-.5h0m2.5-3.5h0m.5 1.5h0m0 2.5h0m0-.5h0m0 .5h0m.5 4.5h0m0-5h0m.5 7h0m.5-1.5h0m.5-.5h0m1.5 1.5h0m1-5h0m0 1.5h0m.5-4.5h0m.5 3h0m0-1h0m0 4h0m.5-4.5h0m.5-2h0m.5 9h0m1-3h0m0-5h0m0 6.5h0m2 .5h0m1.5-7h0m.5-3h0m2.5 5.5h0m2-3h0m2-.5h0m0-1.5h0m1.5 11h0m0-7.5h0m2 6.5h0m.5-1.5h0m0-7h0m1 9.5h0m2-.5h0m3-9.5h0m0-.5h0m1 10h0m3.5 0h0m.5-7h0m2 1h0m1 4h0m.5-.5h0m1.5-7.5h0m1.5 10.5h0m3.5-10.5h0m0 2.5h0m1 6h0m2-4.5h0m.5 3h0m1.5-2.5h0m1.5-3h0m1 4h0m.5 0h0m.5-3h0m1-1h0m0 4h0m.5 3.5h0m1.5-6.5h0m0 2h0m.5-2.5h0m1 8.5h0m1.5-4.5h0m1 1h0m1.5-5.5h0m0 2.5h0m1 2.5h0m1 4.5h0m3-12h0m3 0h0m0 5h0m.5 7h0m.5-5.5h0m1-4.5h0m0 6h0m.5-4h0m1 1.5h0m.5-4.5h0m.5 8h0m1-5h0m.5-3h0m0 6h0m2-5.5h0m4 9.5h0m3-5h0m2.5-2.5h0m.5 5.5h0m.5 .5h0m0 .5h0m1.5-2.5h0m1.5-4h0m1 0h0m0 5.5h0m.5-1h0m.5 .5h0m1 2.5h0m1-4h0m1.5-5h0m.5 1.5h0m.5 8h0m.5-10.5h0m1 9h0m2-2h0m1 3.5h0m.5-1h0m1.5-8h0m0 8.5h0m2-2h0m1 0h0m1-3h0m1.5 2h0m1 1h0m3.5-.5h0m3.5 2.5h0m2.5 1h0m-677.5 9.5h0m0 1.5h0m6-1.5h0m.5-4.5h0m1.5-.5h0m.5 4.5h0m.5-1.5h0m.5 .5h0m1.5 1.5h0m1-.5h0m0-5h0m1 5h0m.5-7.5h0m.5 6.5h0m2 3.5h0m1-10.5h0m0 .5h0m1.5 .5h0m.5-2h0m1.5 6.5h0m0-3.5h0m.5-1h0m5-.5h0m2.5 6h0m2.5 4.5h0m1.5-8.5h0m0 3.5h0m.5-3h0m.5 3h0m0-3.5h0m.5 5h0m1.5-4h0m.5-1h0m.5 2h0m0 4h0m0-1.5h0m14-5h0m2 8h0m8 .5h0m15.5-3.5h0m.5 3.5h0m3.5-2h0m0-2.5h0m2.5 4h0m114.5 1h0m12-2.5h0m3-1h0m1.5-8.5h0m2 2.5h0m0 3h0m2.5 3h0m0-7.5h0m3.5 9h0m6.5-9.5h0m3 7h0m.5-6h0m.5 9.5h0m0-11h0m2.5 .5h0m1.5 4.5h0m.5 6h0m0-6h0m1-3h0m.5 0h0m.5-1.5h0m2 4.5h0m1-3.5h0m0 8.5h0m.5 .5h0m.5-5h0m1.5-1.5h0m0 3.5h0m1 1h0m0 1h0m.5-6h0m.5 .5h0m1.5 6h0m.5 0h0m2.5-8.5h0m0 4.5h0m2 0h0m0-2.5h0m.5-.5h0m1 7h0m.5-2.5h0m0-5h0m1.5 3h0m.5-1h0m1.5-1.5h0m3-.5h0m.5-2h0m178.5 .5h0m1 4.5h0m.5 4h0m1 2.5h0m0-1.5h0m2.5 0h0m1.5-9h0m4.5 5.5h0m1.5-5h0m.5-1.5h0m.5 8h0m2.5-8.5h0m0 4.5h0m1 3.5h0m1.5 2h0m0-6h0m1.5 5.5h0m.5-9.5h0m1.5 10h0m.5-2h0m1 .5h0m1-7.5h0m1 2.5h0m3-3h0m0 1.5h0m1 3.5h0m1 0h0m1-.5h0m0-2h0m1 0h0m1 2.5h0m1-1h0m1-2.5h0m1 7.5h0m.5-9.5h0m.5 0h0m3 11.5h0m2.5-2.5h0m.5 1h0m2.5 1h0m1-7h0m.5-1h0m2 4.5h0m1 1h0m1 1.5h0m.5-2.5h0m.5-1.5h0m3.5 3.5h0m0-2h0m5 1.5h0m.5 3h0m.5-1.5h0m0-9.5h0m2 7.5h0m2.5 1.5h0m.5 0h0m1 2h0m2.5-10.5h0m.5 8.5h0m3.5-7h0m.5 9h0m9-6.5h0m1.5 6h0m3 0h0m1-6.5h0m3 4.5h0m0-1h0m.5 .5h0m1-6h0m5.5 6.5h0m0-.5h0m1 .5h0m0 1h0m4-9.5h0m0 7h0m0-1.5h0m1.5 3h0m.5-7h0m5 9h0m2 0h0m3.5-3.5h0m2.5-6.5h0m2 0h0m1.5 5h0m.5 4h0m0-9.5h0m1.5 .5h0m0 7.5h0m5.5-1.5h0m.5-5h0m1 1h0m1 8h0m1.5-4.5h0m4 2h0m2.5 2.5h0m2-11.5h0m3.5 2h0m0-1h0m4-1h0m1.5 2.5h0m3 7.5h0m1-6h0m.5 8h0m.5-8h0m0 .5h0m.5-3h0m.5 5.5h0m1.5-.5h0m2 5.5h0m4.5-1h0m1.5-6h0m1 1h0m2.5 1h0m1.5-5.5h0m2.5 7.5h0m3-9h0m0 5h0m0 5h0m1.5-8.5h0m1 3h0m.5 3h0m1-6h0m1 3.5h0m.5 2.5h0m0 2.5h0m1-4h0m0 4.5h0m.5-10h0m3.5 4h0m.5 5h0m6-1h0m3-4.5h0m0 5h0m.5-2.5h0m1 4.5h0m.5-9.5h0m.5 2h0m.5 3h0m0-.5h0m2.5-2h0m12 1.5h0m1 5.5h0m0-4h0m1-4.5h0m.5 4.5h0m1 2h0m1.5-2h0m.5-5.5h0m4 3.5h0m0 4h0m2.5-5h0m3-1.5h0m0-1h0m1 10h0m0-7.5h0m.5 1h0m.5 1.5h0m1 1h0m2.5-7.5h0m0 0h0m2 .5h0m.5 8h0m1-6h0m1 6.5h0m1-3h0m0-3.5h0m.5 6h0m.5-5.5h0m90.5 2.5h0m.5 1.5h0m0 0h0m1.5-2h0m5 3h0m0 0h0m2 2.5h0m.5-3.5h0m1.5-2h0m8.5 7h0m1.5-1h0m3.5-5.5h0m0 5h0m.5 1.5h0m5.5-5h0m2.5 .5h0m.5-1h0m1 1.5h0m3.5 1.5h0m-814 12h0m0-2h0m1-3h0m0 6h0m0-7.5h0m0 3h0m1.5-1h0m1 3h0m0-7.5h0m.5 10.5h0m0-2h0m0-8h0m1 5.5h0m2 2.5h0m0 1h0m.5-1.5h0m0-7h0m1 5.5h0m1-1h0m.5 1h0m1 1h0m.5-4h0m1.5 2h0m.5 .5h0m0 2h0m.5 3.5h0m1-7h0m.5-3.5h0m.5 3h0m1 4.5h0m.5-3.5h0m0 3h0m1 0h0m1.5 1h0m0-9.5h0m0 9h0m.5-4h0m1-4h0m.5 5h0m.5-6h0m1.5 9.5h0m0 .5h0m.5-3.5h0m1.5-.5h0m.5-6h0m0 3h0m0 8.5h0m.5-5h0m1-1.5h0m0 3h0m1.5-5h0m1.5-.5h0m2 1h0m1.5-3h0m1 2h0m.5-1.5h0m0 2h0m0 9h0m1-9h0m.5 2h0m1.5-4h0m.5 .5h0m0 10h0m.5-4.5h0m.5 1h0m.5-.5h0m.5 2h0m4.5 .5h0m0 2h0m2.5-5h0m1.5-6h0m0 8.5h0m3-4h0m1-2h0m0-3.5h0m3 10h0m1.5-4.5h0m0 1h0m1.5-3h0m1 1.5h0m1 1h0m.5 2.5h0m4.5-7.5h0m0 8h0m0-5h0m6.5 1h0m4.5 1.5h0m5-4.5h0m1.5 1h0m114.5-1.5h0m1 6.5h0m.5 1h0m5.5-4h0m6-3.5h0m2.5 8h0m1 1h0m8.5 0h0m1-4.5h0m3 4.5h0m.5-1h0m4-3.5h0m1-6h0m.5 8h0m2-4.5h0m.5 7h0m0-5h0m1.5 4h0m3 2h0m.5 .5h0m1.5-11.5h0m1 5.5h0m.5-5h0m0 7.5h0m2 0h0m0-8.5h0m.5 1h0m0 2h0m2 0h0m0 6h0m1 1h0m.5-8.5h0m.5-1h0m0 6.5h0m0 .5h0m2-5.5h0m2 9.5h0m0-1.5h0m2 2h0m3.5-9.5h0m.5 5.5h0m1.5 0h0m1.5 .5h0m.5-7h0m.5-1h0m.5 9h0m.5-6h0m.5 6h0m1.5-7h0m11 8.5h0m165.5-4h0m1-2h0m0 0h0m.5 .5h0m1.5 1.5h0m.5-1.5h0m.5-4h0m1 .5h0m1 8.5h0m1-6.5h0m.5-1.5h0m1.5 3.5h0m6 3h0m1-7h0m2 5h0m1-1.5h0m1 6h0m2-5h0m4-.5h0m1.5 4h0m0-6h0m1.5 6h0m0-2h0m1.5-5.5h0m1.5 9h0m1-9.5h0m0 7h0m0 1h0m.5 .5h0m0-6h0m0 1.5h0m1.5 1.5h0m1.5 3.5h0m1-.5h0m.5-4h0m2.5 3.5h0m0-6.5h0m.5 .5h0m0 7.5h0m.5-3h0m0-2h0m2.5-4h0m.5 4h0m0-1h0m0 1.5h0m2 1.5h0m1.5-5.5h0m3 5h0m4-5.5h0m.5 6.5h0m6-6h0m.5 4.5h0m.5-5h0m0 1.5h0m1 7.5h0m2.5-8.5h0m0 2h0m0 1.5h0m0 .5h0m1.5-1.5h0m1 2h0m3 4.5h0m3-6h0m4.5 3.5h0m9-2h0m0-.5h0m1.5-1h0m1.5-5h0m3.5 0h0m.5 11h0m.5-4.5h0m0 1h0m2-5.5h0m0-1.5h0m2.5 9.5h0m2-.5h0m2.5-4h0m0-2h0m.5 5.5h0m.5 1.5h0m0-6h0m1-3h0m1.5 5h0m3.5-5h0m2.5 1h0m0-2h0m.5 5.5h0m0-3h0m.5 2h0m0 5h0m6-8h0m0 2.5h0m.5 3h0m4.5-5.5h0m.5-3h0m0 7h0m1-.5h0m.5-2.5h0m.5 4.5h0m1-4h0m4-.5h0m.5 4h0m.5 0h0m4 .5h0m0-6.5h0m.5 7.5h0m1-7.5h0m2.5 1.5h0m1 .5h0m1-1h0m.5 8h0m.5-1h0m1.5-5h0m4.5 4.5h0m.5-8.5h0m.5-1h0m.5 9.5h0m.5-4h0m3 4.5h0m.5-4.5h0m3 2.5h0m0 4h0m1.5-6.5h0m0 4h0m1 0h0m2.5-3h0m0 2.5h0m4-3.5h0m.5 .5h0m2.5 4.5h0m.5-3h0m0 2h0m2-1.5h0m0-1.5h0m.5-6h0m.5 5h0m.5-2.5h0m.5 7.5h0m2-5.5h0m3.5-1.5h0m.5-1.5h0m1 2h0m4-.5h0m6.5-1h0m1.5-.5h0m0-.5h0m2 9.5h0m2-8.5h0m0-1.5h0m1.5 7h0m1.5-2.5h0m0-1h0m3 2.5h0m5.5-3.5h0m1 7h0m1-10.5h0m1.5 5.5h0m2 3.5h0m.5 1h0m.5-2h0m1 4h0m1.5-11.5h0m0 2.5h0m.5 8.5h0m4.5-1.5h0m1-1h0m.5 0h0m4 1h0m.5-6.5h0m1-.5h0m1 8h0m.5-10h0m0-1h0m1.5 4.5h0m2 3h0m0 3.5h0m.5-9h0m1 7h0m1.5-6.5h0m2.5 .5h0m.5-.5h0m4 4h0m1.5 1h0m0-2.5h0m87.5-3.5h0m5-1h0m0 2h0m6 0h0m1.5 6h0m5-8h0m.5 1h0m8 1h0m1.5 4h0m.5 4.5h0m3.5 0h0m1-9.5h0m1-1h0m0 0h0m.5 10.5h0m3-4.5h0m1.5 3.5h0m1.5 1.5h0m0-.5h0m4-8.5h0m.5 6h0m1-2h0m.5 2.5h0m1-2h0m5 4h0m2.5-1h0m1 .5h0m-828.5 4h0m3 5h0m0 2.5h0m.5-6h0m1.5 2.5h0m.5-5.5h0m0 8.5h0m.5-2.5h0m0-7h0m1 3.5h0m.5 5.5h0m1 2h0m.5-5h0m.5 6h0m.5-4h0m.5-8h0m.5 6.5h0m.5 1h0m1-5.5h0m.5 5h0m0-7h0m.5 4.5h0m1-3.5h0m1.5-1h0m1.5 8.5h0m.5-1.5h0m0-2.5h0m3-1h0m4 2h0m2-4.5h0m5.5 8h0m2.5-6h0m0 0h0m3.5 1.5h0m5-1.5h0m3-2.5h0m5 6h0m3.5 4.5h0m0-7.5h0m3.5 5.5h0m1-5.5h0m138.5 2.5h0m5-5h0m3 0h0m20 0h0m2.5 1.5h0m3 1h0m1.5-1h0m1 1h0m0-3h0m1.5 .5h0m.5 4h0m1 5h0m2.5-8h0m1 .5h0m1 8h0m1-.5h0m1-5h0m.5-4.5h0m.5 10h0m1 1h0m1-7.5h0m0-1.5h0m1.5 8.5h0m1.5-3h0m1-2h0m.5-1.5h0m0-3.5h0m3 6.5h0m1-7.5h0m.5 3.5h0m1 0h0m0 1.5h0m.5-2.5h0m0-2h0m1 7.5h0m.5-7h0m0 .5h0m3 10h0m.5-1.5h0m.5-.5h0m1-5.5h0m.5 3.5h0m4.5-5.5h0m0 1h0m0 2h0m1 1.5h0m168 2.5h0m3-2h0m.5 .5h0m0-3.5h0m1 2.5h0m2 .5h0m2.5 2h0m.5 2h0m0-10.5h0m2 2.5h0m5.5 7h0m1-2.5h0m0 .5h0m.5 3h0m1.5-8.5h0m1 4.5h0m.5 1h0m.5-3h0m0 3.5h0m0-5.5h0m.5 3.5h0m2 4.5h0m0-1.5h0m.5-9h0m2.5 8.5h0m2.5-8.5h0m1 2h0m0 0h0m.5 0h0m.5 4h0m0 .5h0m.5 1.5h0m.5 2h0m1.5-3h0m.5 .5h0m3.5-1h0m1-6h0m1.5 9.5h0m1-4h0m.5 1.5h0m0 1h0m1-3h0m.5-3.5h0m0 6.5h0m0-3h0m3 1h0m0-1.5h0m1.5-5h0m0 10.5h0m2-5h0m0 2h0m.5 3.5h0m2.5-8h0m.5 4h0m1 2.5h0m0-3.5h0m1.5-2h0m0 2.5h0m1-6.5h0m1 7.5h0m0-2.5h0m1-3h0m2 4h0m3 1h0m.5-6.5h0m1 5.5h0m1-5h0m2 0h0m1.5 .5h0m.5-1.5h0m1 7.5h0m.5 3.5h0m1-2.5h0m0-1.5h0m2-5h0m1 0h0m1 7h0m1.5-1h0m.5 1h0m3-1.5h0m0 4h0m2.5-4h0m0-3h0m1-.5h0m1 5.5h0m.5 0h0m.5-6.5h0m.5 4h0m1 .5h0m3-7.5h0m.5 10.5h0m3.5-7h0m.5 3.5h0m5.5-2.5h0m0 1.5h0m3 1.5h0m0-4.5h0m1.5 6.5h0m.5-3.5h0m0-5.5h0m.5 0h0m0 3h0m0 1h0m.5-1.5h0m2-.5h0m2.5 4h0m1-.5h0m0-5h0m0 0h0m3.5 0h0m1.5 .5h0m1 3.5h0m.5-5h0m2-.5h0m1.5 6h0m0 2h0m0 .5h0m.5 2h0m5-3h0m1.5-.5h0m1.5-6.5h0m.5 4.5h0m1.5 6h0m1-4h0m0-.5h0m.5-2.5h0m1.5-.5h0m5 1.5h0m2.5 1.5h0m6.5-5.5h0m1.5 2.5h0m0 3h0m.5-6.5h0m1.5 9.5h0m1.5-1.5h0m0 .5h0m.5-5h0m0 4.5h0m1-3.5h0m0 6.5h0m2-9h0m2.5 10h0m.5-11.5h0m3.5 0h0m2.5 3h0m.5 1h0m.5 6h0m.5 .5h0m2.5-4h0m0-6.5h0m1 5.5h0m1 5.5h0m.5-1.5h0m.5-9.5h0m.5 10.5h0m1.5-9.5h0m1-.5h0m.5 1.5h0m1 0h0m.5 8.5h0m1-9h0m6.5-.5h0m2.5 7h0m.5 0h0m1.5-3h0m3.5-5h0m0 0h0m0-.5h0m3.5 1h0m0 3h0m1-1h0m0 5h0m1 2h0m0-6.5h0m1.5-2h0m1 9.5h0m0-6.5h0m3.5-1.5h0m.5 2h0m.5-4h0m3.5-.5h0m6 9h0m1-7.5h0m3 6.5h0m1-1.5h0m.5 2.5h0m2.5-1.5h0m2 0h0m.5-1.5h0m.5-6.5h0m.5 3h0m1.5-1h0m0 5h0m0-1h0m1 3.5h0m.5-6h0m.5 1.5h0m.5-3.5h0m2 4.5h0m0-.5h0m0 4h0m.5-1h0m2-8h0m12.5 9.5h0m5 1h0m2-10h0m.5 3h0m90-3.5h0m1.5 2.5h0m1.5-1h0m2.5 .5h0m2.5 0h0m1.5-.5h0m2 1.5h0m1 3.5h0m.5 3h0m2-1.5h0m2 1.5h0m2-3h0m1.5 2.5h0m.5-8h0m1.5 9.5h0m2-8h0m4-3h0m2.5 4.5h0m.5 2h0m2-2.5h0m3.5-3h0m1 7h0m4.5-6h0m0 4h0m1-1h0m1-2h0m0-1.5h0m.5 .5h0m0 1h0m.5 5.5h0m0-3h0m1.5 3.5h0m1-8.5h0m0 2h0m1.5 5h0m1.5-3h0m0 1h0m2 4.5h0m2 0h0m.5-2h0m2.5 2h0m-839.5 3h0m.5 4h0m0-.5h0m2-1h0m1-3h0m.5 3h0m.5 0h0m0-2h0m1.5 5h0m.5-5h0m1 1.5h0m1.5 4h0m1-1.5h0m.5 3h0m1-8.5h0m39.5 2.5h0m0 5.5h0m4-7.5h0m.5 10h0m1.5-2h0m4 .5h0m1.5 1h0m175.5-9h0m1-1h0m3 4.5h0m1.5-2.5h0m0 1h0m3 0h0m3.5 3h0m0-5h0m.5 .5h0m3-1h0m0 2h0m0-1.5h0m1.5 1h0m1 .5h0m174.5 3h0m1.5 6.5h0m1.5-8.5h0m.5 4h0m.5-.5h0m1 3.5h0m1.5 1h0m3-2.5h0m.5-8.5h0m5 2.5h0m1 8.5h0m2-1.5h0m1-9.5h0m2 .5h0m0 10h0m0-4h0m.5-.5h0m.5 2.5h0m2 0h0m2.5-2h0m1-6.5h0m0 4h0m1 4h0m0 1.5h0m1-6.5h0m2 1.5h0m0-3h0m1.5 0h0m2.5 2.5h0m.5 1h0m1-4.5h0m.5 3h0m2 3.5h0m.5 .5h0m1 1h0m3-1h0m1.5 3h0m0-10h0m0 4h0m0-1.5h0m.5 .5h0m0 6.5h0m1 .5h0m3-1h0m0-.5h0m1-6h0m0 1.5h0m1.5 6h0m0-8.5h0m.5 1h0m0 1.5h0m1 1h0m1.5 0h0m1 2.5h0m2 0h0m3-4.5h0m4.5-2.5h0m6 1.5h0m.5-.5h0m2-2h0m2 10.5h0m0-5.5h0m1-2.5h0m5 8.5h0m0-10.5h0m2 6h0m.5 2.5h0m2.5-1.5h0m1 2h0m4.5-6.5h0m1 2.5h0m2.5 6h0m2-8h0m1.5-3.5h0m1-.5h0m0 10h0m2-5.5h0m0-4h0m0-.5h0m2.5 1h0m1.5 10h0m.5-4h0m2.5 3h0m1-8.5h0m1 10h0m3-10h0m.5 1.5h0m1 0h0m1.5-1.5h0m6 9.5h0m1.5-7h0m.5 0h0m2 7h0m0-3.5h0m1.5 1.5h0m4.5-1h0m5-3.5h0m0-.5h0m2.5 0h0m1.5 .5h0m6.5 4h0m1-2h0m0 4.5h0m5-5h0m1 1h0m1.5-2h0m1.5 4h0m4 0h0m2 1.5h0m0-6h0m1-.5h0m0 4h0m1.5-5h0m.5 2.5h0m3 3.5h0m1 1.5h0m0-1.5h0m.5-4h0m3.5 5h0m1.5-2.5h0m.5 0h0m.5 2h0m1.5 2h0m.5-9.5h0m2 10h0m0-11h0m.5 .5h0m0 4.5h0m1.5-4.5h0m1.5 0h0m7-.5h0m.5 4.5h0m2 .5h0m0-.5h0m1.5 2h0m3-1h0m2.5 0h0m0-3h0m1.5 5h0m.5-2h0m2 5h0m0-6h0m1.5 1h0m.5 2h0m1 .5h0m0-2.5h0m1.5 2.5h0m2-2.5h0m0 5h0m1.5-5.5h0m.5 2h0m7-4.5h0m.5-1h0m2 8.5h0m1.5 .5h0m1-7h0m2 5.5h0m.5 .5h0m1.5 .5h0m1-5h0m.5-4.5h0m.5 1.5h0m1.5 2.5h0m5 3h0m4 1.5h0m1 0h0m2.5 1h0m1-3h0m.5-1.5h0m2-4h0m2 2h0m1 5.5h0m6-3h0m5-1h0m4 5.5h0m1-1h0m98.5-6h0m.5-3.5h0m26.5 10.5h0m1-11.5h0m.5 3h0m1.5-1.5h0m.5 3.5h0m.5-4h0m0 6h0m.5-2.5h0m.5-4h0m0 2h0m1 4.5h0m0 1.5h0m0-3h0m3 4h0m.5-2.5h0m4 2.5h0m0 .5h0m4-8h0m1 1.5h0m3.5 3.5h0m.5-1.5h0m1.5 0h0m-847 10h0m11 6h0m1.5-2.5h0m.5-3.5h0m8 0h0m4 3.5h0m.5 1h0m1.5-1.5h0m8.5 2h0m.5-2h0m1-3h0m4.5 3h0m3.5 5.5h0m7.5-9h0m5-1.5h0m1.5 10h0m.5-8.5h0m2.5 .5h0m1 3h0m.5-1.5h0m.5 0h0m89.5 6h0m4-2h0m.5 .5h0m.5 .5h0m3 2h0m2-1.5h0m1-2h0m3.5-1h0m2 1.5h0m2.5-2.5h0m1 3h0m1 .5h0m.5-6.5h0m.5 5.5h0m.5-4.5h0m0 3.5h0m2.5 4h0m.5-.5h0m.5-5h0m.5-2.5h0m2.5-2h0m.5 9h0m.5-8.5h0m.5 2.5h0m.5-2h0m.5-.5h0m.5 7.5h0m.5 1h0m.5-3.5h0m1-3h0m0 .5h0m.5-1.5h0m1 7.5h0m0-4h0m1 1h0m1.5 1.5h0m55.5-4h0m1.5-4h0m182.5 8.5h0m1-6.5h0m.5 4.5h0m3-5.5h0m1.5-.5h0m0 4h0m3.5 4.5h0m4.5-10h0m1.5 10h0m2.5 1h0m.5-2h0m1-9h0m1.5 .5h0m2 2h0m1 2.5h0m2-2.5h0m0-2h0m3 1.5h0m3.5-1.5h0m7 .5h0m1 4h0m0-1.5h0m1.5 0h0m0 5h0m.5-4h0m2 5.5h0m.5-9.5h0m4.5 6h0m0-5.5h0m.5 3.5h0m.5 6.5h0m.5-7h0m1-2.5h0m2-1.5h0m1 8h0m.5-7.5h0m.5-1h0m3 11h0m.5-7.5h0m2.5 4h0m0-3.5h0m0 0h0m.5 .5h0m.5 .5h0m.5 2.5h0m0 0h0m1 0h0m1 2h0m0-5h0m.5 6.5h0m2.5-2.5h0m4-4.5h0m0 5.5h0m.5-3h0m.5 2.5h0m8.5 2h0m1-10h0m4.5 4.5h0m4-5.5h0m1 7h0m1 .5h0m.5 2.5h0m1.5-5.5h0m1-3h0m0 .5h0m2.5 1h0m0 4.5h0m1 0h0m0 .5h0m.5 1h0m2-2h0m.5-5.5h0m.5 3.5h0m.5-.5h0m2.5 6.5h0m3.5-2h0m2-3.5h0m1.5-1h0m.5-1.5h0m0 2.5h0m1.5 3.5h0m1-8.5h0m2.5 4h0m1 0h0m1 7h0m1.5-2.5h0m2.5-8h0m2.5 5h0m3.5-5.5h0m1 6.5h0m5 3.5h0m1-9.5h0m.5 4.5h0m.5 3h0m2 3h0m1.5 .5h0m.5-3.5h0m2-7h0m.5 6h0m3 2.5h0m.5 1.5h0m0-5h0m1-5h0m0 4.5h0m2-4h0m.5 6h0m2-2.5h0m1 2h0m1-3.5h0m0-.5h0m4.5 0h0m.5 8h0m1-9.5h0m0 1h0m.5 0h0m2 .5h0m0 6.5h0m1-8h0m1.5 6h0m5.5 2h0m.5-8h0m0 5.5h0m.5 0h0m3.5-1h0m1-4.5h0m1 5h0m0 1.5h0m2.5 1.5h0m0-5h0m5.5 4.5h0m.5 2h0m7.5-7.5h0m0 .5h0m4.5 6.5h0m1.5-2h0m1.5-2.5h0m2 2.5h0m2.5-3.5h0m.5-3.5h0m0-2h0m1.5 10.5h0m2.5-8.5h0m0-1.5h0m.5 3.5h0m4-.5h0m0 3.5h0m2-.5h0m1 5h0m1-9h0m2-1.5h0m2.5 9.5h0m0-4.5h0m2 0h0m.5 6h0m.5-5h0m1-6.5h0m5 8h0m2.5 .5h0m.5-6h0m.5 8h0m.5-1.5h0m1-5h0m0 4.5h0m.5-7.5h0m2 6.5h0m1-2h0m3-2h0m1-2h0m4 8h0m2.5-10h0m.5 1.5h0m2 1h0m5-2.5h0m0 6.5h0m0 5.5h0m1-1.5h0m1.5-6h0m1 7.5h0m0-11.5h0m.5 2.5h0m8.5 1.5h0m3.5 6.5h0m83.5-7.5h0m11.5-3.5h0m17 4h0m1 5.5h0m1-7h0m5.5 5.5h0m1 3h0m5-4.5h0m3.5-4h0m6.5-1.5h0m.5 4.5h0m1.5-3.5h0m1 9.5h0m3 .5h0m1.5-11h0m0 9h0m.5-10h0m0 9.5h0m3.5-8h0m1 9h0m.5 0h0m2 1h0m2-1.5h0m.5-4h0m-864 18h0m1.5-1h0m1.5-1h0m2-1h0m2 2h0m1.5-9h0m1 1h0m1.5 6.5h0m.5 2.5h0m.5-.5h0m1 .5h0m4-11.5h0m.5 .5h0m.5 7.5h0m1-4.5h0m1 4.5h0m.5 2.5h0m.5-.5h0m0-3h0m1 2.5h0m1-2.5h0m1-3.5h0m.5 2h0m.5 3h0m0 1h0m0-5.5h0m1.5 4h0m.5-6h0m3.5 1h0m.5 1.5h0m.5 1.5h0m2 5.5h0m.5-9.5h0m.5 7h0m0 .5h0m1.5-2.5h0m.5 2.5h0m0-5h0m.5-3.5h0m.5 7h0m.5 3.5h0m0-1.5h0m1-6h0m0 3h0m1.5 4h0m0-9.5h0m1 10h0m2.5-9h0m2.5 3h0m28 1h0m1-6.5h0m30.5 8.5h0m3.5-1h0m41-.5h0m1.5-1h0m.5-.5h0m1 3h0m.5 1h0m0 .5h0m1-2.5h0m.5-1h0m.5-4.5h0m.5 2h0m0 4.5h0m.5-6.5h0m.5 .5h0m.5 7h0m.5 1h0m.5-3.5h0m0-6.5h0m.5 3.5h0m0-3.5h0m3 10.5h0m2-3.5h0m0-3.5h0m1.5-2h0m3 .5h0m1.5-2h0m0 5h0m1.5-1h0m0 1.5h0m1-1.5h0m2 3h0m0-7.5h0m.5 1h0m0-1h0m.5 8.5h0m.5-5h0m1.5 1.5h0m.5-2h0m1 5.5h0m.5 2h0m.5-5.5h0m2 0h0m0 5h0m.5-6h0m.5 6.5h0m.5-3.5h0m.5 3.5h0m1.5 0h0m0-7h0m1 6.5h0m.5 0h0m0 1h0m.5-2.5h0m1.5 2.5h0m0-2.5h0m0-7.5h0m.5 3h0m1 .5h0m0 4.5h0m0-2.5h0m0 1h0m1-.5h0m.5-6h0m.5 4.5h0m1 3h0m1.5 0h0m1 1.5h0m3-.5h0m.5 .5h0m38-3h0m201.5-2h0m3.5-4.5h0m5.5 7h0m.5-1.5h0m4.5-.5h0m4.5 5.5h0m1-9h0m21 .5h0m12 3h0m3.5-5h0m1 6.5h0m1 .5h0m1-3.5h0m0 1h0m1.5-1h0m2 3.5h0m.5-6h0m.5 4h0m2 4.5h0m2.5-10h0m1.5 5h0m1.5-4.5h0m0 10h0m3-10h0m1.5 7h0m.5 2.5h0m1-3.5h0m0-.5h0m2 2h0m.5-7h0m0 0h0m3.5 8.5h0m2-9h0m5.5 .5h0m.5 3h0m2.5-4h0m5.5 2h0m.5-1.5h0m5.5 9h0m.5 .5h0m2-3.5h0m3.5-4h0m0 8h0m4-1h0m.5-5.5h0m.5 0h0m0 1.5h0m.5-4h0m10 3.5h0m4 1.5h0m.5 3.5h0m0 .5h0m1.5-8.5h0m3-1.5h0m0 2.5h0m3-2.5h0m1 11h0m1.5-10.5h0m.5-1.5h0m0 7h0m2.5-4h0m.5 6h0m0-2.5h0m4.5 4.5h0m.5-8.5h0m2-.5h0m0 2h0m1 4.5h0m1.5-6.5h0m.5 10h0m.5-2h0m1.5-8.5h0m2 5.5h0m1-4h0m0 6h0m.5-1.5h0m.5 0h0m2 2h0m4.5-7h0m2-1.5h0m0 2.5h0m1.5 5.5h0m0-7h0m.5 2h0m0 3h0m0-7h0m1 5h0m.5-2.5h0m.5 4.5h0m1 0h0m3-5.5h0m1 9.5h0m0-4h0m3.5 3.5h0m1.5-10h0m0 3.5h0m2.5-3.5h0m1.5 4.5h0m1-4.5h0m1 6h0m1 4h0m1.5-6h0m1.5-3.5h0m1 10h0m0-9.5h0m2 5.5h0m3.5 5h0m.5-10h0m.5 2.5h0m0-2h0m1.5 6.5h0m1-7h0m1 0h0m2.5 7h0m1.5-5h0m.5 6.5h0m6.5-6h0m.5 0h0m0-3.5h0m0 2h0m0 8h0m1.5-10h0m0 4h0m3 .5h0m1-4.5h0m0 3.5h0m1.5-1.5h0m1 7h0m1-1h0m2.5-8h0m2.5 10.5h0m3-10h0m1 9h0m2.5-2.5h0m0-7h0m3.5 2h0m2 9h0m.5-2.5h0m1-4h0m1 0h0m1 2.5h0m3 0h0m2.5-4h0m.5 3h0m1.5 0h0m0-5.5h0m.5-.5h0m0 5h0m2.5-1h0m1-3h0m2 2h0m1.5 6.5h0m1.5-6h0m1 3h0m1-6.5h0m.5 .5h0m.5 3.5h0m2 1h0m1 5.5h0m7-4.5h0m7 5h0m10.5-6h0m.5 2h0m3 4h0m.5-5.5h0m.5 1.5h0m.5 0h0m0 1.5h0m1-.5h0m2-.5h0m.5-2.5h0m1.5 6h0m.5-6.5h0m.5 .5h0m0-.5h0m1.5 4h0m1.5 1.5h0m1.5-4.5h0m1.5-.5h0m1 5h0m2-1.5h0m47 1h0m31.5 1h0m0-2.5h0m.5-2h0m2.5-.5h0m.5 .5h0m1.5 1.5h0m2.5-1.5h0m3 1h0m1.5-1h0m6.5 2h0m6-2.5h0m2 5.5h0m1-5h0m1.5 2.5h0m0-5h0m2-4h0m0 5h0m.5-.5h0m.5 2h0m1-6.5h0m2.5 10h0m1 1.5h0m1-5.5h0m.5-6h0m.5 1.5h0m1.5 5h0m2.5-3.5h0m1 2h0m3 6h0m1-1h0m.5 1.5h0m2.5-.5h0m-880.5 4h0m2-2h0m.5 8.5h0m1-9h0m0 5h0m0 .5h0m.5-3h0m1 4.5h0m.5-8h0m1 10h0m.5-9.5h0m1.5 1h0m1 5h0m2-6h0m1 11.5h0m1.5-5h0m0-3h0m.5-2h0m0 1.5h0m2.5-2.5h0m.5 3h0m0-1.5h0m.5 3h0m1 6h0m3-9h0m2.5 2h0m1-3.5h0m0 7.5h0m.5-5.5h0m1 1h0m1-3.5h0m1 9h0m0-8h0m1.5 3.5h0m1-4.5h0m.5 3h0m0-2.5h0m.5 2h0m2 0h0m8.5 8.5h0m46.5-1.5h0m10-8h0m20 5h0m14-1h0m6.5 5h0m.5 .5h0m2.5-1.5h0m1.5-8.5h0m.5-1.5h0m1.5 1h0m0-1h0m1.5 9.5h0m0 1h0m3-9.5h0m1 3.5h0m0 0h0m4-3.5h0m.5 5.5h0m1.5-.5h0m.5-5.5h0m.5 2.5h0m1.5 1h0m.5 3h0m.5-5.5h0m1 2h0m1 7.5h0m1.5-5h0m1.5-.5h0m1-2h0m0 0h0m0 1h0m1 1.5h0m.5 .5h0m1-1h0m0-5h0m.5 4h0m1.5 2h0m0-4h0m1.5 3.5h0m1.5-4h0m.5 4h0m.5 4.5h0m1-4h0m0 1h0m1 4h0m.5-10h0m.5 5h0m.5-3.5h0m.5 .5h0m.5 1.5h0m.5-2.5h0m0 5h0m.5 2.5h0m0-10h0m0 9h0m1 1h0m.5-5h0m.5 1.5h0m.5 2.5h0m1-7.5h0m.5 6h0m.5-6h0m0 2.5h0m.5 5.5h0m.5 2h0m0-8h0m.5 2h0m0-2.5h0m.5-2h0m.5 3.5h0m.5-1h0m0-.5h0m.5-3h0m0 4h0m0 1.5h0m2.5-2.5h0m1.5 6.5h0m1-3.5h0m2 .5h0m3 4h0m0-9h0m0 9.5h0m2-6.5h0m0 4h0m.5 1h0m1-4.5h0m1 1h0m.5-1.5h0m0-1.5h0m1 2.5h0m1-.5h0m0 3.5h0m1 1.5h0m.5-3.5h0m1.5 .5h0m0 .5h0m1-2h0m0 .5h0m.5 2.5h0m1-2h0m0 2.5h0m.5 2h0m.5-1.5h0m1.5 2.5h0m.5-2.5h0m.5-2h0m3.5 3.5h0m1 1h0m228-8.5h0m3.5 7.5h0m1-8.5h0m.5-1.5h0m2.5 7.5h0m.5-7.5h0m7.5 2.5h0m3 5.5h0m1 1h0m1.5-3.5h0m9.5 .5h0m27-1h0m4-1h0m.5-2.5h0m3.5 8.5h0m2-2h0m0-5.5h0m.5 7h0m1.5-7h0m1 5h0m.5-3h0m0 3h0m0 1h0m1.5 0h0m0-1h0m.5-7h0m0 5h0m0 2h0m1.5-6h0m1 1h0m0 3h0m0 0h0m.5 4h0m1-7.5h0m0 1h0m2-2h0m.5 1.5h0m.5 2.5h0m.5-1h0m1-1.5h0m1 4h0m0 .5h0m.5 0h0m.5-7h0m1 7.5h0m.5 2.5h0m3.5-8.5h0m.5 6h0m1-2h0m3.5 5h0m1.5-11.5h0m.5 5h0m2-.5h0m4 3.5h0m1.5-6.5h0m1 10.5h0m0-8h0m1 .5h0m1.5 1h0m1.5-3.5h0m2 9h0m3.5-1.5h0m1 1h0m1.5-8h0m4.5 4h0m2.5-2.5h0m3.5-1.5h0m6.5 7h0m.5-1.5h0m0-4h0m5 1.5h0m1-1.5h0m.5-1.5h0m2.5 4h0m3 5h0m.5-10h0m0 10h0m1-10h0m2 3.5h0m.5 3.5h0m2.5 3.5h0m1.5-2h0m.5-8.5h0m0 7h0m.5 2h0m.5-2.5h0m0-5.5h0m.5 9.5h0m0-11h0m1.5 1h0m0 5h0m1 .5h0m.5-4.5h0m1-2.5h0m.5 7.5h0m1 3h0m.5-8h0m3 6h0m1-5.5h0m1 1h0m2-2h0m.5-.5h0m.5 3h0m.5-3h0m4.5 6h0m0 2h0m2-8.5h0m.5 3h0m1 4h0m3-5h0m.5-3h0m.5 7h0m3 .5h0m4-1h0m1-1h0m1.5 4.5h0m4.5-.5h0m0-1h0m5 .5h0m2.5 1h0m0-6h0m6 7h0m0 0h0m0-4h0m2 1h0m0-2.5h0m1.5-1h0m.5 1h0m3.5 2.5h0m2 0h0m0 2.5h0m4 0h0m4.5-6h0m0-2.5h0m5-.5h0m1.5 .5h0m0-2h0m1.5 10.5h0m.5-3.5h0m2 2.5h0m3.5 1.5h0m.5 0h0m3-11h0m8 5h0m2 .5h0m3 0h0m.5-4h0m1 4h0m.5-1h0m.5-2.5h0m.5 4.5h0m2-5.5h0m1.5 9h0m0-.5h0m1.5 1.5h0m1.5-6.5h0m3.5 3h0m2.5-4h0m.5-3h0m1 11h0m1-5.5h0m3 2h0m.5-.5h0m2-.5h0m1 1.5h0m3 1h0m1.5-4h0m2-1h0m4 4h0m1.5-2h0m1.5 5h0m.5-7h0m2-4h0m1 2h0m0 6.5h0m4-6.5h0m.5 7.5h0m0-9.5h0m1 1.5h0m2 5.5h0m.5-4h0m2 7.5h0m0-9h0m.5-1.5h0m0 5.5h0m1.5 4h0m3-3h0m1.5 .5h0m1.5-2.5h0m2 4.5h0m.5-.5h0m0-2h0m21.5-1.5h0m1.5 5h0m18.5-5h0m5-2h0m.5 6h0m1-6h0m1 5h0m0 1h0m2.5 .5h0m1-1.5h0m4.5-4.5h0m5-4.5h0m.5 2h0m.5 7h0m2-3.5h0m5-1h0m1.5 6h0m1-7h0m.5 8h0m.5-10.5h0m2.5 .5h0m.5 9.5h0m3 0h0m8.5 0h0m2-7.5h0m1.5 5h0m2-3h0m1 6h0m.5-3.5h0m1.5-2h0m.5-2.5h0m0 4h0m4-1h0m.5 .5h0m0 0h0m3-4h0m2 0h0m1.5-2.5h0m1 9.5h0m3-4.5h0m4.5 5.5h0m2.5 .5h0m-881 1.5h0m1 0h0m1 1.5h0m8.5 0h0m.5-1.5h0m0 3.5h0m2 1h0m1.5 1.5h0m2-6.5h0m0 6h0m0 1h0m3.5-6.5h0m2 0h0m16.5 3.5h0m0-.5h0m2 .5h0m1-.5h0m6.5 6.5h0m.5 1h0m26.5-4h0m1 2h0m4-6.5h0m1.5 2.5h0m1.5-1.5h0m2 0h0m5 3.5h0m47.5-3.5h0m0-.5h0m.5-2.5h0m1.5 .5h0m0 10.5h0m.5-1.5h0m1-6.5h0m.5 2.5h0m.5-6h0m2.5 6h0m0-2h0m2-.5h0m0-1h0m.5 5.5h0m1.5-2h0m.5 1.5h0m0 2.5h0m.5-2.5h0m.5-2h0m.5 3.5h0m1.5-8h0m0 5h0m.5-5.5h0m1 11h0m2.5-1.5h0m1 .5h0m0 .5h0m1-1.5h0m0-2.5h0m0 0h0m1-6h0m0 4.5h0m1 6h0m0-10.5h0m.5 8.5h0m0-5h0m.5 3h0m0-1h0m.5 .5h0m0 .5h0m1.5-8h0m.5 6h0m2-1h0m.5 4h0m0-2.5h0m.5 1.5h0m1.5-5.5h0m1 3h0m1-1h0m2-4h0m.5 9.5h0m1.5-2h0m.5 0h0m2.5-3.5h0m0-3.5h0m.5 1.5h0m0 7h0m.5-1.5h0m0 1h0m2-2h0m.5 3h0m0-1h0m1-6.5h0m0 6h0m2 2.5h0m0-3.5h0m1-5.5h0m.5 5.5h0m.5 1.5h0m1-2h0m.5 2.5h0m0-3.5h0m.5 1h0m0-5.5h0m1 10h0m0-9h0m.5 6.5h0m0-4h0m.5 5.5h0m1.5-1h0m0-4.5h0m.5 7h0m.5-3.5h0m0-4h0m0 2h0m0 2h0m.5-8h0m0 9h0m0-.5h0m1-4.5h0m2 .5h0m0 .5h0m1 0h0m.5 6h0m0-2h0m.5-.5h0m0-6.5h0m.5 2h0m.5-1.5h0m0-1h0m0 1h0m.5 0h0m0 9h0m.5-5.5h0m1-6h0m1.5 2h0m.5-1.5h0m0 5.5h0m1 1h0m.5 0h0m.5-2h0m.5 1h0m1.5-.5h0m2-1.5h0m1-2h0m1-1.5h0m0 8.5h0m1-5.5h0m.5 1h0m.5-1.5h0m3 1.5h0m0-3h0m1.5 4h0m.5 3.5h0m.5-4h0m1.5 5h0m3 1h0m2 0h0m2.5-.5h0m2 .5h0m217.5-7.5h0m4.5 5h0m1-8.5h0m.5 11h0m24-9.5h0m0 2h0m4.5 6h0m5 1h0m1.5-1h0m1 1h0m2-3h0m.5-5h0m3.5 3h0m1.5-4h0m3.5 1.5h0m11.5-1.5h0m.5 1.5h0m.5 4h0m1.5-7h0m1.5 1.5h0m2.5 .5h0m2.5 8.5h0m1-1.5h0m0-6h0m1 5h0m2.5 2h0m0-5h0m.5-4.5h0m.5 6.5h0m2 1.5h0m.5-8.5h0m4.5 4h0m0 7h0m4.5-2.5h0m1.5-2h0m4-1.5h0m0 1.5h0m3 .5h0m0-1h0m2 1h0m.5 4h0m2.5-7.5h0m.5-4h0m1.5 11.5h0m0-8.5h0m.5 1h0m.5-2h0m1.5 8.5h0m0-10.5h0m.5 9h0m0-7h0m.5 4h0m1-4.5h0m2.5 0h0m2.5 6.5h0m.5-3.5h0m0-2h0m1.5 3h0m.5-3h0m1 9h0m1-6h0m5.5 5h0m2.5-7h0m0 8h0m.5-6h0m4 1h0m1-3h0m3 1h0m0 6h0m3.5-10.5h0m1 10.5h0m0-3h0m2-7h0m1.5 6h0m.5 2h0m0-8h0m.5 4.5h0m.5-1.5h0m0 2h0m0 5h0m2.5-6.5h0m0-2h0m2.5-1.5h0m.5 9h0m1-7.5h0m0 3.5h0m1-2h0m.5 4.5h0m0-4h0m.5-.5h0m1-2.5h0m.5 .5h0m0 4h0m.5 3h0m3 1h0m.5-1h0m1-7.5h0m1 1.5h0m.5 7h0m1-6.5h0m2 2h0m0 1.5h0m2 4h0m1-4h0m.5-1h0m0 5.5h0m1 .5h0m1.5-9.5h0m.5 4h0m0-5h0m.5 6h0m0 5h0m2.5-11h0m1 8.5h0m1.5-4.5h0m0-.5h0m.5 1.5h0m3 3h0m0-3h0m2 5h0m4-10.5h0m1 10.5h0m1 1h0m1-5h0m.5 2h0m0-4h0m.5-4.5h0m.5 10h0m0 1h0m0-1.5h0m1 .5h0m1-5h0m.5 3.5h0m.5 0h0m.5 0h0m1 0h0m.5-.5h0m0 2.5h0m.5-4h0m0-6h0m1 1h0m0 5.5h0m1 4.5h0m1.5-6h0m0 3.5h0m1.5-6.5h0m3 8h0m5.5-9h0m6-1.5h0m1.5 11.5h0m.5-5h0m2.5-.5h0m2.5 5h0m3-6.5h0m0-.5h0m1.5-4h0m1 2.5h0m1 7.5h0m1.5-8h0m.5 9h0m2-3h0m1-6h0m.5 6h0m0 1.5h0m5.5 0h0m0-3h0m1.5-.5h0m1 4.5h0m1-8.5h0m.5 3h0m2.5 .5h0m2.5-5h0m0 .5h0m.5 6h0m.5 3.5h0m.5-8h0m1-.5h0m1 8h0m3-2.5h0m1.5-1.5h0m.5-3.5h0m.5 1.5h0m1 2h0m0 4.5h0m0-2h0m0 1h0m1-3.5h0m0 2.5h0m.5-7h0m1.5 7.5h0m.5-5.5h0m2-3.5h0m1.5 9h0m1-2h0m1.5 .5h0m1-5h0m1.5 2h0m3.5 .5h0m0 4.5h0m1.5-8h0m2 3.5h0m0-1h0m0 .5h0m0 0h0m1-5h0m.5 0h0m2.5 4h0m4.5-3h0m1 10h0m2 1h0m1.5-3h0m.5-2h0m1.5-5h0m5.5 8h0m1.5-3.5h0m0-1h0m1-5h0m.5 10h0m1-9h0m.5-.5h0m1 1h0m1 9.5h0m1.5-11h0m4 0h0m3 11h0m2.5-4h0m.5-6.5h0m4 5h0m0 5.5h0m3.5-8.5h0m.5 .5h0m8.5 6.5h0m1 1.5h0m2.5-.5h0m8.5-6h0m3.5 5h0m2.5-7h0m1-1.5h0m3 9.5h0m7-5h0m0-3h0m.5 1.5h0m0 .5h0m0 .5h0m4 1h0m3-2.5h0m.5 3.5h0m1-5h0m0 7h0m1-3h0m4.5 3.5h0m2 .5h0m0 0h0m0-10.5h0m6.5 4.5h0m2.5 0h0m.5 0h0m7.5 4.5h0m9.5-3.5h0m1 5h0m1.5-9.5h0m.5 3.5h0m0 1.5h0m4 1.5h0m1 4h0m2.5-2.5h0m3-1.5h0m0 0h0m1-7h0m0 6h0m2 0h0m0-1.5h0m0 0h0m.5 5.5h0m.5-4h0m.5 1.5h0m1.5-.5h0m0-2.5h0m.5-1.5h0m.5 4h0m0 2h0m.5-2h0m0-4.5h0m.5 8h0m0-5.5h0m2-.5h0m.5 2.5h0m2-7.5h0m1.5 1.5h0m0 5h0m-845 13h0m2.5-2h0m0-2.5h0m0 6.5h0m.5-3h0m.5-4.5h0m.5 0h0m2.5 6h0m.5-6h0m.5 .5h0m1.5-1.5h0m0 3h0m5 7h0m.5-9.5h0m1 2h0m1.5 8h0m1-10h0m0 6h0m1.5 0h0m0-7h0m.5 5.5h0m3-3.5h0m1 2.5h0m1.5 3.5h0m.5-4.5h0m5 .5h0m0 1h0m3.5-.5h0m0-.5h0m11.5-4h0m42.5 10h0m8.5-1.5h0m1 .5h0m.5-2h0m1.5 4h0m0-6h0m.5 4h0m2.5-8h0m2-1.5h0m1 9h0m.5-7h0m0 7.5h0m1.5-5h0m.5 7h0m1-2.5h0m0 2.5h0m1-.5h0m0-4.5h0m2.5-5.5h0m1 1h0m2 7h0m0-.5h0m.5-.5h0m0-6.5h0m.5 1.5h0m3.5-1.5h0m.5-1h0m1 6.5h0m0 4h0m.5-3.5h0m1 .5h0m0-1h0m0-4.5h0m1 3h0m.5-2.5h0m2 8.5h0m0-9.5h0m.5-1h0m0 1h0m0 .5h0m0 9.5h0m1.5-10.5h0m.5 7h0m.5-4.5h0m0 2h0m1 3.5h0m1-9.5h0m1.5 9h0m0-.5h0m0-3.5h0m.5-3h0m3.5-.5h0m.5 6h0m.5-6h0m1 6.5h0m.5-7.5h0m.5 3.5h0m.5-1h0m1 8.5h0m.5-8.5h0m0 6.5h0m.5-7h0m1.5 2h0m1 5.5h0m.5-5.5h0m0 7h0m.5-5.5h0m0 2h0m.5-3h0m.5 4h0m1-7.5h0m.5 0h0m0 1h0m.5 5h0m.5-3h0m1 3h0m.5-3.5h0m1 6h0m1 1.5h0m.5-2.5h0m0-6h0m0 4.5h0m.5 4h0m0-1.5h0m0 1.5h0m.5-9h0m.5 9h0m0-3h0m1 1h0m0-3.5h0m0 0h0m1-3.5h0m0 1h0m.5 3h0m2-1.5h0m.5-2h0m.5-1.5h0m1.5 6h0m.5-5.5h0m.5 2h0m1 .5h0m0-4.5h0m2.5 5.5h0m0 0h0m2-1.5h0m.5 1h0m.5-2.5h0m.5-2h0m0 2h0m2 4h0m.5-3.5h0m.5-2.5h0m.5 1h0m.5 0h0m0-.5h0m2 4h0m0 0h0m1 0h0m.5-1.5h0m0 3h0m5.5 4h0m.5-8.5h0m1 8h0m0-5h0m1-1h0m2-2h0m1.5 1h0m.5 8.5h0m2-1h0m0-2.5h0m0-.5h0m1-1h0m2.5 2.5h0m1.5-6.5h0m1 7h0m1-6h0m.5 6.5h0m193.5-2.5h0m8-6.5h0m4 1.5h0m1.5-1.5h0m2.5 8.5h0m2-5.5h0m3.5 4h0m4.5 2.5h0m2.5-10h0m2 7h0m2.5 0h0m1.5-7h0m12.5 10h0m0-5h0m13.5 6.5h0m5-11h0m.5 2h0m5 7h0m1.5-2.5h0m9-2h0m1 3h0m1-2.5h0m4-5.5h0m1.5 1.5h0m1 5h0m1-6h0m1.5 9.5h0m1.5-1h0m1-7h0m.5 7h0m1 1h0m0-6h0m1-2.5h0m0 9h0m1.5-10h0m0 6h0m0 .5h0m.5-4.5h0m.5-1.5h0m.5 2.5h0m2 2h0m2.5 1h0m.5-2h0m.5 3h0m.5-5.5h0m.5 6h0m.5-8.5h0m.5 8h0m1 .5h0m3.5-1h0m1 2.5h0m0-2.5h0m4 1.5h0m3-7.5h0m5.5-1h0m3 9h0m.5-7h0m.5 5h0m3-6h0m5.5 1h0m1 0h0m1.5-1.5h0m7 6h0m1-6.5h0m1.5 4h0m7-3.5h0m2.5 5.5h0m2.5-2h0m.5 3h0m1-1.5h0m1 4.5h0m2.5-5.5h0m2 1.5h0m.5-6h0m1 5h0m2.5 1h0m.5-.5h0m1-1.5h0m.5 3h0m1.5-1h0m.5 4h0m0-2h0m1-3.5h0m0-4h0m0 4.5h0m1-2.5h0m1.5 3h0m3 5.5h0m2-9h0m.5 4.5h0m.5-2h0m0 2.5h0m.5 2h0m0-4.5h0m.5 1.5h0m2 2h0m2-1.5h0m0 1.5h0m.5 .5h0m0-6.5h0m1 .5h0m1 7.5h0m0 1h0m.5-10.5h0m.5 9.5h0m0-10.5h0m1.5 1.5h0m0 2h0m0-1h0m.5 9h0m.5-10h0m0-.5h0m0 8h0m.5-5h0m.5-2h0m.5 5.5h0m1.5-6.5h0m0 2.5h0m0 0h0m0 3h0m.5 5h0m.5-7h0m.5 .5h0m.5 5h0m.5-1.5h0m0-4h0m3 6h0m0-1.5h0m0-2.5h0m.5 0h0m1.5-1h0m1.5-5.5h0m0 8.5h0m1.5 2h0m.5-7.5h0m0-1h0m1 5.5h0m0-6h0m1.5 9.5h0m3-3.5h0m0-5h0m1.5 1.5h0m0 1.5h0m1.5-4h0m0 .5h0m.5-1.5h0m.5 4h0m1 3.5h0m1.5-2.5h0m0-3h0m2 2h0m2 4.5h0m.5-5.5h0m.5 3.5h0m.5 3h0m.5 1h0m0-6h0m.5-3.5h0m1 10.5h0m.5-9h0m1 3h0m.5-4h0m1 1h0m0-2.5h0m.5 0h0m.5 6.5h0m0 2h0m1-3h0m.5-3h0m1 4h0m2.5 5h0m.5-11h0m1 1.5h0m.5 7h0m.5-6h0m0 4.5h0m.5-4.5h0m2 6.5h0m.5-3.5h0m1.5-3h0m.5 0h0m0 1.5h0m.5 6.5h0m1.5-6.5h0m0-4h0m.5 10h0m3-.5h0m2.5-9.5h0m0 10.5h0m1-9h0m2.5 5h0m.5-6.5h0m1 6.5h0m0 1.5h0m.5-2h0m1.5 4.5h0m.5-1.5h0m1-8h0m.5 2.5h0m.5 5.5h0m.5-7h0m1.5 5.5h0m.5-6.5h0m.5 7.5h0m0-1.5h0m.5 3h0m0-3h0m1.5-3h0m0-3h0m0 7h0m0-.5h0m1.5-2h0m.5-6.5h0m0 10.5h0m0-8h0m2 4h0m.5-6.5h0m1 8.5h0m0 1h0m0-2.5h0m.5-2h0m1 3h0m2 3.5h0m.5-1h0m2 1.5h0m5.5-3h0m.5-8h0m0 1h0m2 2h0m1 6.5h0m1 .5h0m1-4h0m2 2.5h0m.5-9.5h0m0 10h0m3.5-.5h0m.5-9.5h0m3 6.5h0m.5 1h0m.5 4h0m1.5-2.5h0m0 2.5h0m0-3.5h0m1-5h0m.5 3h0m0 3.5h0m.5-2.5h0m0 0h0m1 0h0m1 1.5h0m0-8h0m0 6.5h0m1.5-1.5h0m0 2h0m0 1.5h0m.5 2h0m.5-1.5h0m0 1h0m1.5-4h0m0 5.5h0m0-3.5h0m.5-.5h0m.5 2h0m0 1.5h0m.5-8.5h0m1.5 7.5h0m0-4h0m.5 1h0m.5-3h0m0 7h0m1.5-6.5h0m.5 3h0m0 4h0m0-3h0m0 1.5h0m.5 1.5h0m0-1.5h0m0-5h0m.5 2.5h0m.5 3h0m.5 1h0m2.5-.5h0m1-8h0m.5 2h0m.5-2h0m.5 2.5h0m1 4h0m1.5-5h0m1.5 1.5h0m1-.5h0m0 0h0m.5-2h0m1 3h0m.5 1h0m.5-5.5h0m3.5 4.5h0m2.5 1.5h0m0-.5h0m.5-7.5h0m2 1h0m2.5 9h0m.5-10h0m1 8.5h0m0 0h0m3-6h0m.5 8.5h0m2.5-4.5h0m1-1.5h0m.5-1h0m.5-3.5h0m0 2h0m3 0h0m1-1.5h0m4.5 6.5h0m2 .5h0m1.5-8h0m1 6.5h0m0 2.5h0m3.5-7.5h0m.5 6h0m6.5-5.5h0m.5 1h0m1-1.5h0m6-1.5h0m.5 5.5h0m2.5-4.5h0m1 8.5h0m5.5-7.5h0m3 5.5h0m11-2.5h0m2.5-2.5h0m4.5 3.5h0m2 2.5h0m10.5 2h0m3-8h0m2.5 7.5h0m.5-2.5h0m2.5-4h0m0-2h0m3.5 5h0m0-4h0m0 7.5h0m.5 .5h0m7.5-7h0m1.5 8h0m0-2.5h0m.5 1.5h0m0-.5h0m1.5-8.5h0m.5 8.5h0m0-9.5h0m1.5 4h0m0-2h0m2 9h0m2 0h0m2.5-8h0m1.5 3h0m1.5 4.5h0m-841.5 3.5h0m1.5 1h0m0-1.5h0m.5 .5h0m1-1.5h0m.5-1h0m.5 6h0m4.5-2.5h0m1-.5h0m61 .5h0m12-2.5h0m4.5-1h0m.5 .5h0m2 1h0m1.5-.5h0m1 1h0m2 2.5h0m0-.5h0m2-3h0m1 4h0m.5 3h0m0-7.5h0m0 4h0m.5-3h0m.5 5h0m.5 3h0m.5-9h0m.5-.5h0m1.5 9.5h0m.5-4h0m1 4h0m1-.5h0m0-2h0m1-2.5h0m0 .5h0m.5 2h0m2.5-7h0m0 11h0m1-11h0m.5 5.5h0m1.5 5h0m.5 0h0m.5 .5h0m.5-2h0m.5-9h0m0 5.5h0m0 1h0m.5-2.5h0m0 7h0m1.5-7.5h0m1-1.5h0m.5 5.5h0m.5 2h0m1.5-8h0m.5 6h0m3.5-8h0m0 1h0m0 4h0m.5-2h0m0 8.5h0m1-7h0m0 7h0m0-3.5h0m1-3.5h0m.5 .5h0m.5 2.5h0m0 4h0m0-7.5h0m1-2.5h0m0 4.5h0m1 5h0m.5-2.5h0m0-4h0m1-1h0m0 5h0m0-.5h0m1.5 1h0m0-2.5h0m0-1.5h0m0 2h0m.5 2.5h0m1 1h0m1-7.5h0m0 3.5h0m0 2.5h0m.5-8.5h0m1 4h0m0-2.5h0m.5 8.5h0m.5-5h0m2-4h0m1.5 8h0m.5-8h0m0 4.5h0m2.5-2h0m0 1h0m.5 3h0m.5 1h0m.5 0h0m1-7h0m0 0h0m0 4.5h0m0 4.5h0m.5-3h0m0 3.5h0m1 0h0m1-4.5h0m0 .5h0m.5-2.5h0m0 2.5h0m1-6h0m1 4.5h0m1-3h0m0 7h0m.5 .5h0m0 0h0m1-1.5h0m.5 2.5h0m1-4h0m0-3h0m1.5 6.5h0m0-7.5h0m0 8h0m.5 0h0m1.5-5.5h0m3.5 .5h0m1 5h0m1 .5h0m1-2h0m5-5h0m.5-2h0m.5 1h0m0 0h0m0-1h0m1.5 1h0m.5 1.5h0m2.5 4.5h0m2-7.5h0m0 3h0m1-2.5h0m.5 1h0m.5 3.5h0m.5 1.5h0m0 2h0m1-5.5h0m.5-3h0m0 3.5h0m0-6h0m.5 .5h0m.5 4.5h0m.5-4h0m1.5 2h0m0 2.5h0m0 4.5h0m.5-6.5h0m0 7.5h0m0-7.5h0m.5 1h0m0 6.5h0m0-3.5h0m.5 0h0m0-5h0m1 4.5h0m1-6h0m0 8h0m1-2h0m.5 .5h0m1 4.5h0m0-2.5h0m.5-5h0m.5 5h0m0-3h0m.5 1.5h0m1-5h0m0 1.5h0m0 0h0m182 5.5h0m2-2.5h0m8.5-6.5h0m3 6h0m1.5-1.5h0m.5-.5h0m1 0h0m2 3h0m10 4h0m8.5-3.5h0m10 1.5h0m.5-9.5h0m9 8h0m0-3h0m2 2h0m6 3h0m2.5-10h0m.5 8h0m6.5-6h0m7 7h0m2.5-3h0m2.5 1.5h0m5 3.5h0m4.5 .5h0m.5 0h0m1.5-9.5h0m2 .5h0m1.5-1h0m.5 8.5h0m3 1h0m2.5-10.5h0m1 5h0m1.5-3.5h0m4-.5h0m.5-1.5h0m.5 3h0m.5 7h0m1 1h0m0-7.5h0m1 7h0m0-8.5h0m1 4.5h0m0 1.5h0m1 3h0m1-11.5h0m1.5 3.5h0m1-2h0m7.5 1h0m1 9h0m0-10h0m2 9.5h0m2.5-9.5h0m7 7h0m1.5-5h0m11.5-1h0m1 2h0m7 5.5h0m2-2h0m3 3h0m1-9.5h0m3.5 4h0m2.5 2h0m1-1h0m1.5 2.5h0m0-8h0m0 6.5h0m0-4h0m.5-3.5h0m1.5 5h0m1 4h0m1-6h0m.5 2h0m0-1.5h0m0 8h0m.5-10h0m0 5h0m0-.5h0m1-.5h0m.5 3h0m.5-4h0m.5 6.5h0m1 0h0m1-6.5h0m1-1h0m1 2.5h0m1 6h0m.5-10.5h0m1 7h0m1.5-8h0m1.5-.5h0m1 1h0m.5-.5h0m1 2h0m.5 5h0m1.5-4h0m1 8h0m.5-11h0m2 3.5h0m.5 1.5h0m0-2h0m0 6.5h0m1 .5h0m.5 .5h0m0-10.5h0m3 8.5h0m1.5-6.5h0m.5 6.5h0m1 0h0m.5-8h0m0 8.5h0m2.5-8h0m1.5-1h0m3 0h0m0 2.5h0m1.5-2h0m.5 1h0m1.5 6h0m1.5 1h0m2-8h0m1 10h0m.5-7h0m.5 6h0m1.5-3h0m0-6.5h0m1.5 .5h0m2.5 7.5h0m2 1h0m1.5 1.5h0m3.5-10h0m.5 5h0m1-2.5h0m1 .5h0m1 4h0m0-2.5h0m1-1.5h0m1-2h0m0-2h0m.5 7.5h0m0 0h0m2-.5h0m1-6.5h0m.5 10h0m1.5-6.5h0m1.5 2h0m0 3.5h0m1-4.5h0m0 4.5h0m1-8.5h0m.5 4.5h0m.5 5h0m.5-5h0m0 5.5h0m0-1.5h0m1 2.5h0m2.5-5.5h0m1.5-5.5h0m.5 1.5h0m1.5 4.5h0m.5-6h0m3 10h0m0-7h0m.5 3h0m1 2h0m.5-5h0m1.5-3.5h0m1.5 6h0m1.5 1h0m1.5-5.5h0m0 6h0m1 3.5h0m.5-1h0m0-3h0m.5 .5h0m1-1.5h0m1-1h0m0 2h0m1-6h0m.5 9.5h0m1-7.5h0m.5-.5h0m1.5 5h0m.5-5.5h0m1.5-2h0m0 8h0m1 2h0m2-8h0m2.5 6.5h0m0-1.5h0m0-2.5h0m1 3.5h0m1.5 0h0m.5-6h0m.5 8.5h0m0-3.5h0m.5 3h0m0-7.5h0m1 3h0m.5-1h0m0-3.5h0m.5 6.5h0m.5-5h0m0 0h0m0 2h0m1 2.5h0m1-5.5h0m1 2h0m1.5-2.5h0m1-.5h0m0 2.5h0m1 2.5h0m1.5 2.5h0m.5-6.5h0m1 5.5h0m.5-4.5h0m3 1h0m0 7.5h0m1-5.5h0m0 5h0m.5-3.5h0m.5-4h0m2 8h0m0-7h0m0 1.5h0m.5 1h0m0-1h0m2-.5h0m0 3h0m0 1.5h0m.5-7.5h0m1 1.5h0m1.5 5h0m0-2h0m.5-5.5h0m1 6h0m.5 3.5h0m.5-7h0m1.5 3h0m.5-5.5h0m.5-1h0m0 5.5h0m.5-5.5h0m0 2h0m1-1h0m.5-1.5h0m.5 11h0m.5-1h0m1-3.5h0m0 4.5h0m.5-6.5h0m0 1h0m.5-3.5h0m0 0h0m2-1h0m2.5-.5h0m4 1h0m8 6h0m0 .5h0m1.5-.5h0m0 1h0m1.5 2h0m0-7.5h0m.5 .5h0m1.5 4.5h0m6 1.5h0m1.5-1.5h0m1 3.5h0m0-6.5h0m3.5 1.5h0m.5-4h0m.5 7.5h0m2.5-5.5h0m4-1h0m.5 6.5h0m.5-3.5h0m4-.5h0m7 5h0m2.5-3.5h0m10.5-6.5h0m1.5 8.5h0m4.5 .5h0m.5-9h0m2 9.5h0m2.5-9.5h0m.5 3.5h0m1 5.5h0m1-.5h0m6 2h0m14.5-8h0m5-2.5h0m0 4h0m1 1h0m.5 0h0m2 4h0m1-4.5h0m2.5 5h0m9-5h0m.5 0h0m1 0h0m0-2.5h0m2 8.5h0m.5-8.5h0m1.5 6.5h0m6.5 2.5h0m1-2.5h0m7-6h0m-739 15h0m1.5-1h0m1.5-3.5h0m0 10h0m1-9.5h0m2 2h0m.5 2.5h0m1-6.5h0m3.5 .5h0m.5 5h0m.5-3.5h0m1 3h0m2 .5h0m0-.5h0m1 2.5h0m0 1h0m.5-6h0m.5 3h0m1-2h0m0 3h0m.5 4.5h0m0-4h0m1-1h0m0 4h0m0-7.5h0m0-1h0m0 3h0m0 2.5h0m.5-3.5h0m.5 4.5h0m1 .5h0m0-.5h0m.5 2h0m0-2h0m.5 3h0m0-5h0m1-5.5h0m.5 4h0m.5 1h0m.5-1h0m.5 4.5h0m0-9.5h0m0 6.5h0m.5-6h0m3.5 10h0m6-6h0m1.5 2h0m3-2h0m4.5-4h0m0 1h0m.5 2h0m0-3h0m2.5 9.5h0m1-4h0m0-1.5h0m1 3.5h0m.5-5.5h0m1.5-1h0m1 5h0m1-5.5h0m0 10h0m.5-.5h0m1.5-7.5h0m.5 8.5h0m.5 0h0m.5-5.5h0m0-6h0m2 7h0m1-5h0m0 3h0m.5-.5h0m0-1h0m.5-.5h0m.5-.5h0m1.5 3h0m0 6.5h0m1-10h0m.5-2h0m0 3.5h0m0 6.5h0m.5-8.5h0m0 6.5h0m.5 1h0m.5-7.5h0m.5 4h0m.5-1.5h0m1-3.5h0m.5 5h0m1.5 1h0m0-5h0m1-1h0m0 8.5h0m0-3h0m0-3.5h0m1 1h0m1.5-2h0m1.5-.5h0m.5 5h0m1-5h0m0 3h0m1-1.5h0m.5-1h0m.5 2.5h0m1 4h0m0-5h0m1 1.5h0m.5-1.5h0m.5 2.5h0m1 4.5h0m.5-8.5h0m.5 7.5h0m.5-.5h0m0-.5h0m2-7h0m.5-1h0m0 3.5h0m3.5 8h0m5-9.5h0m160 9h0m1-1.5h0m11.5-9h0m1.5 0h0m5.5 3h0m3 5h0m.5-7h0m.5 7.5h0m.5-8h0m1.5 3.5h0m0-4.5h0m3.5 8.5h0m1-8.5h0m6 11.5h0m6-1h0m11-8h0m2 6h0m.5 3h0m0-.5h0m2.5-9h0m3.5-1h0m0 .5h0m2 1.5h0m1 5h0m3.5 1.5h0m12-3h0m13.5-4.5h0m2.5 8.5h0m2 .5h0m1.5-1h0m0-2.5h0m.5-4.5h0m1-1h0m4-2h0m0 9.5h0m.5-5.5h0m2 1h0m2.5 3h0m4-5h0m9.5 9h0m2-1h0m.5-3h0m4.5 1.5h0m6-4h0m2.5-5.5h0m1 6h0m1.5 3h0m3-7h0m.5 7.5h0m3.5-8.5h0m3.5 5h0m2-5.5h0m1.5-.5h0m2 10.5h0m0-5h0m.5-4h0m2 4.5h0m7 4.5h0m10-9h0m2 0h0m1-1h0m.5 2.5h0m2-1.5h0m1.5 10.5h0m.5-6.5h0m1 1.5h0m1 3.5h0m.5-2.5h0m0-5h0m0 1h0m2 4h0m0-5.5h0m0 7.5h0m.5-9h0m.5 10h0m.5-6.5h0m.5 2.5h0m0-1h0m1.5 3.5h0m1-1.5h0m0-6h0m1 4.5h0m.5 1h0m.5-5.5h0m1 8h0m1-8h0m.5 1h0m1-2h0m4 7h0m.5-7h0m0 8h0m1.5 3h0m0-4.5h0m0-3h0m3-2h0m1.5 .5h0m0 7h0m0-6.5h0m0 3.5h0m1.5-4h0m.5 4.5h0m.5 4.5h0m1-3h0m0-3.5h0m1 1h0m.5 4h0m2-7.5h0m0-1.5h0m1.5 5.5h0m0 2h0m.5-8h0m0 10.5h0m.5-8.5h0m0 6h0m0 .5h0m0-2.5h0m2-7h0m1.5 5.5h0m0 3.5h0m.5 0h0m1 1.5h0m0-3.5h0m1-6.5h0m0 11h0m1-10h0m1 6.5h0m3.5-7h0m1.5 10.5h0m0-7.5h0m1 3h0m0 1h0m0-6.5h0m.5-.5h0m.5 6h0m.5 2h0m1-3.5h0m0 2h0m.5 3h0m.5-7.5h0m0 7.5h0m.5-5.5h0m1-.5h0m0 3.5h0m.5 2h0m1-5.5h0m0 7h0m.5-8.5h0m.5-2h0m0 6h0m1 3.5h0m1.5-6.5h0m.5 7h0m.5 .5h0m1-10h0m.5-1.5h0m.5 12h0m2-1h0m1-6.5h0m1.5-2.5h0m1 5h0m1.5 .5h0m.5-3h0m0 3.5h0m0-4.5h0m0 2h0m1 1h0m.5 0h0m.5-1h0m.5 2.5h0m1-4.5h0m.5-3h0m.5 8h0m1 3h0m1.5-10.5h0m.5 10.5h0m2.5-10h0m0 7.5h0m1.5 3h0m1.5-9h0m0 2.5h0m.5 6h0m0-5.5h0m1 5h0m.5-2h0m.5-1.5h0m1 4h0m0-3.5h0m0 1h0m0-8.5h0m.5-.5h0m.5 1h0m0 .5h0m2.5-1h0m.5 10h0m2-4.5h0m1 5h0m1.5-3h0m1-2h0m2 1h0m2 2.5h0m1.5-4h0m.5-4.5h0m.5 9.5h0m1-4h0m1.5 .5h0m1 5h0m1-5.5h0m0 5h0m0-1h0m1-5h0m.5 2.5h0m.5-7h0m.5 9.5h0m1-8.5h0m0 10h0m1-6.5h0m.5-2.5h0m.5 5.5h0m.5 2.5h0m.5-9.5h0m.5 8h0m2 1h0m1-7.5h0m0 4.5h0m1.5-.5h0m0 4.5h0m1-6.5h0m1-5h0m0 11.5h0m1 .5h0m.5-1h0m.5-2.5h0m0-1.5h0m0-6h0m3.5 7.5h0m0 2h0m1-10.5h0m1 10.5h0m.5-2.5h0m.5 3h0m2-5h0m1 5.5h0m0-8h0m.5 7h0m1-8.5h0m.5 6.5h0m.5-6.5h0m1.5-2h0m2 2h0m1 6.5h0m.5-1.5h0m1.5 5h0m1-3.5h0m.5-6.5h0m2.5 1h0m.5 6.5h0m.5 2.5h0m0-11.5h0m6 10.5h0m0-5h0m.5-3.5h0m0 3.5h0m1 2.5h0m0 0h0m.5-.5h0m.5-4h0m.5 5.5h0m1-3.5h0m2-2.5h0m.5 2.5h0m0-4h0m1 2.5h0m.5 5h0m0 1h0m.5-9.5h0m1 2h0m.5 5.5h0m0 0h0m1.5-7h0m.5 8.5h0m.5-6.5h0m.5 2.5h0m1-1.5h0m0-1h0m.5-.5h0m1 7h0m0-.5h0m1-1h0m1 0h0m1-2.5h0m.5 2.5h0m.5-2.5h0m2 .5h0m2 5h0m.5-7h0m1 1h0m2.5 0h0m2-2.5h0m2.5 0h0m.5 1h0m2 7h0m7.5-9h0m.5 3h0m2.5 6.5h0m1-6.5h0m0 3h0m1-4h0m0 0h0m3.5 1h0m.5 5h0m1 .5h0m7.5-9.5h0m4 1.5h0m2 5h0m3.5-2.5h0m3.5-1.5h0m9 .5h0m.5 2h0m4-1h0m2 4.5h0m6-4.5h0m4-2h0m2-2h0m0 5.5h0m.5-4h0m4.5 3.5h0m3.5-1h0m5-.5h0m0 5.5h0m1-5h0m1-5h0m2.5 9h0m2 1h0m2.5-3.5h0m4.5 4.5h0m4-7h0m0 2h0m1.5-4h0m0 8h0m0-5h0m1 2.5h0m0 4.5h0m1.5-7h0m.5-3h0m1 8.5h0m1-1h0m0-1.5h0m0 .5h0m3.5-8h0m.5 8h0m.5 3.5h0m0-.5h0m1.5-3h0m.5-2h0m3-2.5h0m1.5 1h0m2 .5h0m.5-.5h0m1-1.5h0m-751.5 14.5h0m15.5-1.5h0m.5 2.5h0m.5-4h0m.5 3.5h0m.5-1h0m1.5 3h0m0-3h0m.5-3.5h0m.5 7.5h0m.5 2h0m1.5-5.5h0m.5 6h0m.5-6.5h0m.5 1h0m1 0h0m.5 4.5h0m0-7.5h0m0 0h0m.5 .5h0m.5 4h0m0 2h0m1-5h0m0 2h0m.5-6h0m1 3h0m0 3.5h0m1.5-2.5h0m0-3h0m0 5h0m.5-4h0m.5 6h0m.5-.5h0m0 2h0m1-5.5h0m1 7h0m.5-8.5h0m1 8.5h0m.5-1.5h0m0-4.5h0m1-1.5h0m0 7h0m0 0h0m0-4.5h0m0 4.5h0m.5-2h0m0-2.5h0m1.5 4.5h0m0-3h0m1-.5h0m.5-3h0m0 4.5h0m1.5-1h0m.5-2h0m1-.5h0m1 5.5h0m0-2h0m1.5 1.5h0m0-5h0m3 0h0m1 5h0m1.5-4.5h0m1.5 4h0m1.5-7h0m3 2h0m2.5 .5h0m0-5.5h0m1 7h0m1.5 2h0m2 1h0m.5-2.5h0m.5-2.5h0m.5 5.5h0m1.5-.5h0m0 .5h0m.5 0h0m.5-3.5h0m1.5-5h0m.5 5.5h0m.5 2h0m.5-7h0m.5-2.5h0m.5 6h0m1-.5h0m.5-4.5h0m.5 5h0m1.5 .5h0m0-2h0m0 1.5h0m.5-3h0m.5 2h0m0 1h0m.5 .5h0m1.5 1.5h0m.5-5.5h0m0 6h0m.5-.5h0m1-8h0m.5 1h0m0 8h0m1-6.5h0m1-2.5h0m0 4.5h0m0-.5h0m0 4.5h0m0-2.5h0m0-.5h0m2.5-4.5h0m1.5 6.5h0m1-7.5h0m1 8.5h0m0-2h0m1 4.5h0m2.5-3.5h0m0 2.5h0m.5-9.5h0m.5 2h0m0 8.5h0m1-8h0m.5 4.5h0m0-3h0m0 0h0m1 6h0m0-4h0m0 3h0m1-9h0m.5 5.5h0m.5 3h0m0-3h0m0 2h0m.5-2.5h0m.5 5h0m.5-11h0m.5 3h0m.5-1h0m0 2h0m1 6.5h0m1 .5h0m.5-9h0m0 3h0m1 3.5h0m.5-2.5h0m1 1h0m.5 3.5h0m1-5.5h0m150-4h0m6.5-.5h0m.5 7.5h0m1-.5h0m.5-7h0m9 6h0m5 3.5h0m7-8.5h0m2 9h0m.5-7.5h0m.5 5h0m.5-5.5h0m1-.5h0m2.5 1.5h0m5 8h0m2-8h0m2.5 2.5h0m1-1.5h0m0 7.5h0m.5-7h0m5 5h0m1.5-9.5h0m.5 10h0m3.5-5h0m2 4.5h0m3 .5h0m4.5-5.5h0m1-3h0m0 5h0m1.5-4h0m1.5 7h0m2.5-7.5h0m.5 3h0m4 1.5h0m2 4h0m.5-.5h0m0-7.5h0m5-1.5h0m1 9h0m12.5-9h0m3.5-.5h0m3 11h0m1.5-8h0m3.5 5.5h0m12.5-2h0m6 1h0m1.5 3h0m1.5-2h0m1.5-7h0m4.5 4h0m3.5-1.5h0m7.5 2.5h0m1.5 0h0m3 2.5h0m7.5-6.5h0m3-1h0m6.5 9.5h0m2-3h0m6-1h0m1.5-5h0m5.5 8.5h0m1.5-7.5h0m3-2.5h0m2 0h0m0 8.5h0m.5-7h0m.5-2.5h0m2 9h0m.5-1h0m1.5-7.5h0m2.5 4.5h0m3 4.5h0m.5-3.5h0m.5-1h0m3-4h0m2.5 8.5h0m1-6h0m.5 5.5h0m0 1h0m0-9.5h0m2 6h0m.5-1.5h0m0 4h0m1.5-7.5h0m0-1.5h0m.5 1h0m1 7.5h0m1-9h0m.5 11h0m.5-9h0m1.5 7.5h0m1.5 0h0m.5-2h0m1-7h0m2 8h0m0-8.5h0m0 4.5h0m0-1h0m.5 4.5h0m.5-2.5h0m1 1.5h0m1-4h0m.5 4.5h0m.5-4.5h0m0 8.5h0m1-9.5h0m3.5-.5h0m3.5 10.5h0m1.5-12h0m1.5 8h0m0-1.5h0m1 3.5h0m.5 1h0m0-2.5h0m.5-3h0m4 1.5h0m1 1.5h0m.5-.5h0m.5-7.5h0m1 8h0m.5-2h0m1.5 0h0m1 3.5h0m0-8.5h0m0 1.5h0m.5 7.5h0m1-3.5h0m.5-3h0m.5 4h0m1 0h0m0 2.5h0m1-6.5h0m.5 5.5h0m.5-6.5h0m.5 5.5h0m0-5.5h0m.5 3h0m0-.5h0m0-.5h0m1 4.5h0m0-3h0m1-5.5h0m.5-.5h0m2 5.5h0m0 5.5h0m.5-5.5h0m0-5.5h0m3 9h0m.5-7.5h0m0-1h0m0 11h0m.5-7h0m0-1h0m1-.5h0m0 8h0m3-9h0m.5 9h0m1.5-9.5h0m.5 1h0m0 3.5h0m.5-5.5h0m1 5.5h0m1 .5h0m2.5-7h0m.5 6.5h0m0 0h0m1 1.5h0m0-6.5h0m0 6h0m.5 3h0m2-10h0m.5 7h0m.5-4h0m2-.5h0m0-2h0m.5 8h0m.5 1h0m.5-7h0m0 3.5h0m3.5 4.5h0m1.5-4h0m0-3h0m.5-2h0m1.5 1.5h0m0-1.5h0m.5 1.5h0m0 3h0m0-3.5h0m1 3.5h0m0-3h0m0 1h0m.5 4.5h0m1-6.5h0m1-1.5h0m.5 3.5h0m0 6.5h0m.5 0h0m0-8h0m.5 5h0m0-8h0m1 3h0m0 7.5h0m2-1.5h0m.5 1h0m1.5-8h0m0-1h0m1.5 7.5h0m0-6.5h0m1 10h0m1-2h0m0-8.5h0m1 9h0m0-6.5h0m3.5 4.5h0m.5-8.5h0m1.5 6.5h0m0-2h0m2-4h0m.5 4h0m1.5-3h0m0 6h0m0 3.5h0m1-4.5h0m1.5-4h0m.5-.5h0m0 7h0m.5-3.5h0m0 0h0m2 6.5h0m1.5-1h0m.5 .5h0m.5-6.5h0m1-2.5h0m2 2.5h0m0-4h0m.5 0h0m1 5.5h0m1 4.5h0m1-8.5h0m1 2h0m2.5 3.5h0m1-4h0m2.5 .5h0m1.5 5h0m3.5-8h0m7 2h0m.5 .5h0m2 8h0m.5-5.5h0m2 0h0m.5 .5h0m0 4h0m2.5-3.5h0m3.5 2h0m1.5-2h0m.5 .5h0m6 3h0m2.5 0h0m.5-10h0m1 1.5h0m2 4h0m6-1h0m0-2h0m.5-1.5h0m2 4h0m1.5 5.5h0m.5-7.5h0m0 0h0m2 4.5h0m1.5-4.5h0m.5-3h0m2 9.5h0m.5-8.5h0m2-1h0m2 8.5h0m1.5-4h0m1.5-3h0m1 3.5h0m3 3.5h0m.5-4.5h0m2 1.5h0m.5-2h0m4 4.5h0m1 2h0m1-8.5h0m1.5 3h0m2 4.5h0m5.5-1h0m9.5 1.5h0m0-10.5h0m1.5 9h0m1-3h0m0 0h0m2 3.5h0m4.5 .5h0m.5-3.5h0m9 5h0m3-11h0m0 0h0m1 3.5h0m3-2.5h0m2 0h0m4.5 6.5h0m0-7h0m1.5 0h0m3 9h0m3.5-8.5h0m2.5 3h0m2 2h0m4-1h0m6 4.5h0m1-8.5h0m0 9h0m.5 .5h0m0-5h0m1.5-4.5h0m1.5 7h0m.5-1h0m1 .5h0m2 3h0m-728 2h0m3.5 .5h0m2.5-1.5h0m3 4h0m1.5-3.5h0m.5 .5h0m.5 1h0m3 .5h0m.5-2h0m1 0h0m1.5 .5h0m0 1.5h0m1.5 3h0m.5-1h0m0-4h0m0 0h0m5 2h0m0 1h0m.5 1h0m1.5 3h0m3-5.5h0m1 2h0m1.5-.5h0m2-.5h0m1.5 0h0m1-1.5h0m2 0h0m3-1.5h0m.5 0h0m27 0h0m151.5 8.5h0m2.5-.5h0m3.5-.5h0m.5-6h0m1 3h0m4.5 7h0m5-9h0m4.5 4.5h0m.5-.5h0m0-3h0m.5-2h0m1.5 10h0m.5-7h0m0 1.5h0m2.5 3h0m4.5-.5h0m2 3h0m.5-4.5h0m0-3.5h0m1 0h0m1 1.5h0m1 2h0m2-3h0m2 4.5h0m2 1.5h0m2-3h0m3-3.5h0m2 6h0m1 0h0m1.5-8h0m2 10h0m.5-3h0m.5-4.5h0m1 5h0m.5-7h0m0 8.5h0m1-5.5h0m.5-5h0m1 10.5h0m1-1h0m1-4h0m0 6.5h0m3-1.5h0m1-4.5h0m1-2.5h0m6.5 7.5h0m0-5.5h0m2.5-1.5h0m1.5 5h0m.5 3h0m1.5-1.5h0m1-9.5h0m3 7h0m1-7.5h0m1 7h0m1.5-7h0m.5 11.5h0m5-11h0m2.5 4h0m.5 3h0m1.5 0h0m0 1.5h0m5-.5h0m.5 1.5h0m1 .5h0m.5-1.5h0m1.5-2h0m3 3.5h0m.5-4.5h0m1.5 2.5h0m.5-2.5h0m0 .5h0m5.5-4.5h0m1-1h0m.5 9.5h0m2-9.5h0m0-.5h0m2 5.5h0m7.5-5h0m2.5 1.5h0m14-1h0m4.5 .5h0m5-2h0m9 5h0m1.5-4h0m3 7.5h0m1-2.5h0m7 .5h0m4.5 3.5h0m6.5-7.5h0m1 2.5h0m.5 1h0m2-5.5h0m1 4h0m0-2h0m1 7h0m1.5-4.5h0m2-1.5h0m.5 3.5h0m1-5h0m2-1.5h0m0 2.5h0m2.5-2h0m.5-1h0m4.5 10.5h0m1-10.5h0m.5 7.5h0m.5-2h0m.5 0h0m.5-3.5h0m1.5-1h0m.5 3.5h0m.5 6.5h0m.5-10h0m.5 1.5h0m2 1h0m1 7.5h0m1.5-8h0m1.5 6.5h0m.5 1h0m2-9.5h0m.5 1h0m1-1h0m3 1.5h0m1.5 4.5h0m0-1.5h0m1-5h0m1 5.5h0m.5-3h0m1-.5h0m1.5-2h0m0 6h0m0 1h0m.5 3h0m0-7h0m1.5 2.5h0m.5-6h0m1 7.5h0m.5-6h0m0 2h0m.5 5h0m0-2h0m3.5 4h0m.5-4h0m2-3h0m.5-1.5h0m0 2.5h0m0-.5h0m0 6.5h0m.5-3.5h0m1-1.5h0m.5 0h0m2 5.5h0m1-6.5h0m0 3h0m.5 0h0m.5-2h0m.5 .5h0m0 3.5h0m1-1.5h0m.5-6h0m1 6h0m0-2h0m0 5h0m1.5-2.5h0m.5-3.5h0m.5-3h0m1.5 7h0m1-5h0m.5-.5h0m0 8h0m0-12h0m.5 2.5h0m1 3h0m.5 .5h0m.5-4.5h0m.5 6.5h0m5.5-1.5h0m1 1h0m1-3.5h0m0 1h0m.5-4h0m.5 4.5h0m0-5h0m.5 3h0m0-.5h0m0 0h0m1 2h0m1-1.5h0m0 6.5h0m.5-.5h0m.5-1.5h0m3-7.5h0m1.5 3.5h0m0-1h0m1 6.5h0m0-3h0m.5-3h0m0 4h0m0 3h0m1.5-7.5h0m.5-1h0m1.5 6.5h0m0 3h0m1-8.5h0m.5 0h0m1 7h0m.5-10h0m.5 5.5h0m.5 3.5h0m1 1h0m4.5-9h0m2.5 1.5h0m0 2.5h0m.5-4h0m.5 .5h0m5.5 .5h0m0 5h0m0 4.5h0m1.5-9h0m0 9.5h0m.5-2.5h0m.5-1.5h0m.5-2.5h0m.5 .5h0m.5-4h0m0 1h0m0-.5h0m.5 1h0m.5 5.5h0m0 1h0m.5-4.5h0m.5 1h0m.5-5h0m.5 1.5h0m0 1h0m0 1h0m.5 2.5h0m0-1h0m.5-1.5h0m1-3h0m.5 6.5h0m1.5-5.5h0m.5 0h0m0 5.5h0m0-3h0m2 0h0m.5-2.5h0m0-2.5h0m1 4h0m1.5 2.5h0m1-2.5h0m2 2.5h0m.5-1.5h0m.5 .5h0m.5 3h0m.5-2h0m1 4.5h0m0-11h0m3 5.5h0m1 .5h0m0-4h0m.5 5.5h0m1-3.5h0m.5-2h0m0 7.5h0m.5-8.5h0m0 5h0m0-6h0m.5 1h0m0 3h0m1 2.5h0m0-1h0m.5 3.5h0m1.5-3h0m0 1h0m0-5h0m.5 0h0m2.5-2h0m0 0h0m.5 4h0m2 4h0m0-2.5h0m0-3.5h0m.5 4h0m.5-4h0m4-1.5h0m.5 4.5h0m2.5-2h0m.5 3.5h0m1-2h0m.5 5.5h0m0-7h0m4.5 1h0m7.5 3.5h0m1-7.5h0m.5 5h0m.5 2.5h0m0-3.5h0m.5 5h0m1-.5h0m0 1h0m1.5-5h0m0 4h0m.5-3h0m.5-2.5h0m0-2h0m2.5 8h0m.5-5h0m1 2.5h0m.5 0h0m0 5h0m0-4h0m.5-1.5h0m0-1.5h0m1-3h0m.5 7.5h0m.5 1.5h0m0-5.5h0m0 1.5h0m0-7h0m.5 4.5h0m.5 3.5h0m0 2h0m0-4.5h0m1 3h0m7-3h0m6 5.5h0m4.5-9.5h0m1 4.5h0m4-3h0m6.5 8.5h0m4-7h0m.5 2h0m.5 2.5h0m1-5h0m.5 6.5h0m1-1.5h0m1-5.5h0m2.5 7.5h0m1-10h0m0 11h0m3.5-9h0m8-2.5h0m3 9.5h0m9-2.5h0m6.5-.5h0m0 3h0m2-3.5h0m2.5 1h0m.5 1h0m2-4h0m5 3.5h0m3.5-3.5h0m1.5 4h0m2.5 1h0m2-.5h0m0-5h0m0 6h0m3 1h0m2.5-1.5h0m.5-2h0m0-1.5h0m2.5 5h0m2-2.5h0m1-7.5h0m3.5 7h0m2 2.5h0m1.5-9.5h0m3 5.5h0m1-2.5h0m4 0h0m1-3.5h0m1 5h0m0 6h0m0-1.5h0m.5 1.5h0m2-7.5h0m2 1h0m.5-2.5h0m1 6h0m.5 2.5h0m.5-8h0m-515.5 19.5h0m4 1h0m0-1.5h0m1-2h0m.5-4h0m1.5-2.5h0m4.5 4.5h0m4.5-1h0m1-1h0m.5-1.5h0m2.5 9.5h0m1.5-6h0m2.5-3h0m0-.5h0m1 6.5h0m1.5-9h0m.5 5h0m1.5 2.5h0m.5-3.5h0m6 4.5h0m1-7.5h0m1.5 7.5h0m1 1.5h0m9-6h0m2 4.5h0m.5-7.5h0m4.5 9h0m6 0h0m3-9.5h0m1.5 2.5h0m2.5 4.5h0m1.5-4h0m10.5 6.5h0m1-2h0m1.5-5.5h0m.5 0h0m0 1.5h0m1.5-2.5h0m.5 2h0m0-.5h0m1.5 2h0m3.5 1h0m.5 1h0m.5 0h0m.5-4.5h0m9 7.5h0m2-2.5h0m.5-6h0m0 5.5h0m.5-6.5h0m0 8.5h0m1.5-7.5h0m.5 1h0m2 4.5h0m1.5-2h0m1 .5h0m1.5 6h0m.5-10.5h0m2 1h0m1.5-2h0m.5 5.5h0m1-1.5h0m.5-1.5h0m1 0h0m.5-1h0m.5 1.5h0m1 7.5h0m3.5-6h0m1-4h0m2.5 4h0m2 1.5h0m.5-1.5h0m.5 5.5h0m.5-5h0m2 5.5h0m0 1h0m2.5-6h0m.5 1.5h0m3-1h0m.5 .5h0m1-.5h0m2 5.5h0m0-4h0m3-5.5h0m1 7.5h0m1.5-3.5h0m1.5-2h0m2.5-3h0m1 1h0m6 4.5h0m.5-2h0m6 4h0m4.5 .5h0m3.5 2.5h0m3.5-11h0m1.5 11.5h0m4.5-11.5h0m1 11h0m4 .5h0m3.5-2.5h0m7.5-2.5h0m4.5-2h0m3 .5h0m4.5 0h0m.5 2.5h0m4 2h0m1-8.5h0m1 6.5h0m.5-4.5h0m0-2h0m1.5 6h0m.5-3.5h0m2-1h0m.5 0h0m0 4h0m1-6.5h0m1 9h0m.5-3h0m1-4.5h0m1.5 0h0m.5 7.5h0m.5-9.5h0m0 9h0m.5-2.5h0m0 0h0m.5 2h0m0 1.5h0m2.5-6h0m1 6.5h0m2.5 .5h0m.5-1h0m5 1h0m3-8.5h0m3.5 7.5h0m2.5-3h0m1.5 4h0m2.5-4h0m.5-2h0m3 5h0m2-2.5h0m0-4h0m.5 3h0m0-2.5h0m0 1.5h0m1-4.5h0m0 4h0m0-.5h0m1 2.5h0m1-.5h0m1 2h0m1 2.5h0m0-6h0m.5-1.5h0m1.5 7h0m0-4h0m3.5-2.5h0m.5 2.5h0m0 0h0m.5-2.5h0m.5-2h0m1 8h0m0-7h0m1.5-1h0m.5 8.5h0m0-10h0m2 7h0m.5 1.5h0m0-4.5h0m.5 1.5h0m.5 5h0m0-6.5h0m0-3.5h0m.5 9.5h0m0-.5h0m2.5-4.5h0m.5 1.5h0m0-5.5h0m0 2.5h0m.5 1h0m0-1.5h0m.5 4.5h0m0-5h0m.5 5h0m0 0h0m.5 2.5h0m0 1.5h0m0-5h0m.5-.5h0m0-4h0m1 2.5h0m.5-4.5h0m0 4.5h0m.5-1.5h0m.5 6h0m.5-5.5h0m0 7.5h0m1.5-11.5h0m1 6h0m.5-5.5h0m0 3h0m.5 1h0m0 2.5h0m2.5 4h0m0-6h0m.5 3h0m.5 2h0m0-4h0m0 1h0m1-1h0m0 3.5h0m.5-4.5h0m0 3.5h0m0 2.5h0m2.5-10.5h0m.5 2h0m0 1h0m2 3h0m.5-5h0m1.5-1.5h0m2 10h0m0-6h0m.5 0h0m.5 .5h0m0 3.5h0m.5 4h0m1.5-8h0m0 7h0m1-2h0m0-6h0m3 2.5h0m0-3h0m0 3h0m.5 1h0m1-6.5h0m2 8h0m1-5.5h0m1.5 4h0m1.5-3.5h0m.5 5h0m1-3h0m0 2.5h0m1-5.5h0m0 9h0m1-.5h0m1-7h0m.5-2h0m4.5 7h0m0 2h0m1-6.5h0m0 4.5h0m1-.5h0m.5-5h0m.5 6.5h0m1-3.5h0m0 .5h0m0-1.5h0m.5-1.5h0m.5 7.5h0m0-6.5h0m2.5 7h0m1.5 .5h0m1.5-7.5h0m.5 4h0m0 1.5h0m1-1h0m.5-3h0m1 1h0m.5-3h0m1-1h0m.5-2h0m.5-1h0m2 2h0m0 6h0m0-2h0m1.5-4.5h0m.5-1h0m.5 6.5h0m1-1h0m0-2h0m0-3.5h0m0 9.5h0m.5 .5h0m.5-2h0m0-7h0m3 6h0m0-.5h0m0 0h0m2.5 4.5h0m0-9.5h0m2 2h0m0 7.5h0m.5-5.5h0m.5-3.5h0m1.5 8h0m.5-5h0m.5 5h0m3 1.5h0m0-9.5h0m1-2.5h0m3 2.5h0m.5 7h0m.5-1h0m1-2h0m1-2.5h0m0 7.5h0m4.5-6h0m.5 3h0m1 0h0m.5-6.5h0m0 2h0m.5 7h0m1.5-7.5h0m.5 2.5h0m.5 3h0m1-.5h0m1-3.5h0m0 5h0m.5-2.5h0m0 .5h0m.5-.5h0m0-5h0m.5-2h0m1.5 9h0m0-7.5h0m1.5 3h0m.5-5h0m.5 5.5h0m.5-2h0m1 8h0m.5-10.5h0m2 8.5h0m2-5h0m3 4.5h0m2-1h0m1-7h0m4-.5h0m0 5h0m.5-1.5h0m.5 0h0m1.5 .5h0m2 2h0m1-1h0m.5 2.5h0m0-3.5h0m.5-4h0m0 2.5h0m1 2.5h0m0-1h0m1 2.5h0m.5 1h0m1-2.5h0m4.5-1.5h0m3.5-.5h0m2.5 .5h0m1.5-2h0m.5 9h0m1-2h0m0-1.5h0m0 2h0m.5-6h0m0-1h0m2.5 1h0m3 2h0m1 2.5h0m2-4.5h0m1.5-1h0m.5 2.5h0m3 2h0m1.5-2h0m3.5 1h0m5-5.5h0m16.5 9h0m5.5-8.5h0m3.5 4.5h0m1.5-3h0m1.5 7.5h0m2 1h0m21-3.5h0m0-3h0m1.5 7h0m.5-5h0m.5 1h0m1.5-1h0m.5-4h0m.5 1.5h0m0 1.5h0m1.5-3h0m1 .5h0m.5-1h0m.5 6.5h0m1.5-5.5h0m.5 4.5h0m.5 1h0m.5 1h0m1.5-4h0m0 .5h0m.5 5h0m1-3h0m.5 0h0m.5-2.5h0m-525.5 14.5h0m.5 3.5h0m4-7h0m4 3.5h0m0 4h0m4-5.5h0m2 1.5h0m.5 0h0m8 1.5h0m4-3.5h0m3.5-5h0m.5 1.5h0m.5 4.5h0m2.5 4.5h0m3.5-6.5h0m.5-1.5h0m.5 3h0m0-5.5h0m2 .5h0m2.5 3h0m1-1.5h0m5.5 1h0m1-2h0m1.5 9h0m1.5-10.5h0m0 8.5h0m.5-4.5h0m6.5-4h0m.5 5h0m1-1.5h0m0 7.5h0m0-11.5h0m4.5 2.5h0m13 2h0m4.5-3h0m1-.5h0m.5 8h0m1 .5h0m2-3h0m1.5-4h0m1 6.5h0m1-1.5h0m10.5-5.5h0m.5 3.5h0m12.5-5h0m2.5 0h0m0 10.5h0m2.5 0h0m2.5-9.5h0m4-1h0m1.5 1h0m1.5 1.5h0m4 8h0m1.5-7h0m1.5 6h0m2-6h0m0-3.5h0m0 9.5h0m4.5-1h0m.5 3h0m.5-4h0m4 1h0m1.5 1h0m0-2h0m1.5-5h0m0-2h0m.5 6.5h0m.5 1h0m1.5 2h0m3-3h0m2.5-6h0m4.5-.5h0m1 10h0m0 1h0m1-1.5h0m1.5-4h0m0 1h0m2.5-4.5h0m.5 3h0m1 5.5h0m.5 .5h0m.5-8.5h0m.5 7h0m.5-2.5h0m0-.5h0m2.5 3.5h0m0-7.5h0m.5 6.5h0m2-6.5h0m.5-2h0m.5 10.5h0m0-7.5h0m.5 1.5h0m13.5 4h0m2-5h0m2 6h0m0-4h0m.5 3h0m1.5-4h0m1.5 1.5h0m1.5-5h0m.5 6h0m2.5-1.5h0m11.5 0h0m6 4.5h0m6.5 .5h0m1.5-3.5h0m1 1h0m.5-4.5h0m1.5-2.5h0m.5 9.5h0m2.5-9h0m2 7.5h0m.5-3h0m0-3.5h0m1.5 1h0m1.5 3.5h0m0-3h0m.5-2.5h0m.5 3h0m1.5 4.5h0m0-9.5h0m.5 2.5h0m3 8h0m.5-8.5h0m1-.5h0m.5-2h0m1.5 6h0m1 3h0m0 2.5h0m.5-11h0m0 9.5h0m1 0h0m.5-8.5h0m0 7.5h0m0-1h0m1-4.5h0m0-3h0m.5 5.5h0m.5-2.5h0m0 .5h0m.5-2.5h0m1 3.5h0m0-1h0m2.5 6.5h0m0-6h0m1 5.5h0m1 1.5h0m0-9.5h0m2.5 9.5h0m.5-3.5h0m.5-1.5h0m1 5h0m1.5-4.5h0m.5-2.5h0m.5 2h0m0 3h0m1-9h0m3 .5h0m0 5.5h0m1-4.5h0m0 4.5h0m1.5-5.5h0m1.5 9h0m.5-2h0m0-.5h0m.5 .5h0m.5-3h0m0 5h0m.5-9h0m.5 6.5h0m.5 3.5h0m0-8.5h0m1.5 5.5h0m0 2.5h0m.5-8.5h0m.5 5h0m0-1.5h0m0-4.5h0m.5 7.5h0m0-.5h0m0-2h0m1-5h0m0 6.5h0m0-2.5h0m1.5-1.5h0m0-.5h0m2.5-2.5h0m1 11h0m.5-3.5h0m0-3.5h0m0-2h0m.5 2.5h0m.5 2.5h0m0 0h0m1.5-6h0m.5 6h0m0 2h0m.5 1.5h0m.5-3.5h0m1.5-7.5h0m.5 3.5h0m.5 .5h0m0 5.5h0m1-6h0m1 6.5h0m.5-5.5h0m1.5-1.5h0m1 .5h0m.5-1h0m2.5 8h0m.5-8h0m1.5-2.5h0m.5 6.5h0m0-2h0m1 .5h0m.5 0h0m0-4.5h0m.5 2h0m0 4.5h0m1.5-3.5h0m0 0h0m.5 .5h0m.5 .5h0m.5-2.5h0m0 9h0m0-7.5h0m0-3h0m1 10.5h0m0-.5h0m.5-4.5h0m0-1.5h0m1.5 6.5h0m0-1h0m.5 1.5h0m0-9.5h0m3.5 3h0m0-4.5h0m.5 1h0m0 5h0m1-2.5h0m.5 5.5h0m1-8.5h0m0 0h0m1 6h0m1-4.5h0m3.5 7h0m1 2h0m0-11.5h0m.5 0h0m2.5 7h0m.5-5h0m2 .5h0m0 8h0m.5-1h0m.5-8h0m.5 0h0m.5 5.5h0m2 1.5h0m.5-7h0m.5-1.5h0m1 5h0m.5-1h0m.5 7h0m.5-7h0m0 5h0m1.5 0h0m1.5-5h0m0 1.5h0m1.5-5.5h0m5 8.5h0m0-6h0m0 8h0m1.5-4.5h0m2.5 3.5h0m2-4h0m0-3.5h0m.5 1.5h0m.5 3.5h0m1-7.5h0m0 4h0m0-3h0m.5 6.5h0m.5 0h0m0 .5h0m1.5 3h0m.5-9h0m.5 6h0m.5-4.5h0m0 6h0m.5-4h0m.5-2.5h0m1.5-1h0m1 4.5h0m0-4.5h0m1 10h0m0-8.5h0m0-2.5h0m1.5 2.5h0m.5 1h0m.5 1.5h0m.5-.5h0m1-5h0m1 4h0m0 6.5h0m1.5-5h0m.5-4h0m.5 4.5h0m2.5 2.5h0m.5-4h0m0 3h0m1.5 2h0m1-1.5h0m1.5 .5h0m.5-1h0m0-2.5h0m1 0h0m1 4h0m0 2.5h0m.5-.5h0m1.5-11.5h0m1.5 6.5h0m1 .5h0m.5 1h0m1-5.5h0m1 8.5h0m1-9.5h0m0 1h0m2 1h0m0-2.5h0m.5 2.5h0m.5-3h0m.5 7.5h0m2-.5h0m2.5-2.5h0m2-1h0m1-.5h0m1 8.5h0m2.5-10h0m.5 7h0m1-3.5h0m1.5 6h0m2-2.5h0m1-3h0m2.5-4.5h0m.5 6.5h0m0-4h0m.5 3h0m0-2h0m.5-.5h0m.5 2.5h0m4-3.5h0m0 4.5h0m1.5 1h0m5.5 1.5h0m.5 .5h0m3.5-6.5h0m.5 1h0m1-1h0m2.5 2h0m1.5-1.5h0m23.5 2.5h0m.5-.5h0m2-2h0m2.5 5.5h0m3.5-8h0m3-1h0m10.5 10.5h0m7.5-10h0m.5 1.5h0m.5 7.5h0m1.5-3h0m0 0h0m.5-5h0m.5 9h0m4-4h0m1-2h0m1.5 3h0m.5 3h0m1-12h0m1 .5h0m1 2.5h0m1.5 6h0m.5 3h0m0-2.5h0m0-6.5h0m0 5.5h0m0-2.5h0m.5 3.5h0m0-2.5h0m0-3h0m0-2h0m1 8.5h0m0-2h0m1-3h0m0 1.5h0m4.5 3h0m1.5-7h0m0 5h0m.5-6.5h0m2.5 3.5h0m3.5-2.5h0m.5 7h0m.5-7h0m1.5 8h0m.5-9h0m-1089 21h0m1 0h0m.5 1h0m567-6.5h0m0-.5h0m.5-3.5h0m0-.5h0m0 5h0m4.5 5.5h0m.5-2h0m0-6h0m2.5 .5h0m1.5 3h0m8.5 3.5h0m.5-5.5h0m.5 7h0m0-3h0m.5-1.5h0m1 3h0m1-.5h0m4.5-8h0m0 10h0m4-9.5h0m.5 3h0m8 6.5h0m0-6h0m3 4h0m2.5-4.5h0m.5 1.5h0m8 3h0m0-2.5h0m1.5-6h0m.5 10.5h0m1.5-2h0m1 1.5h0m0-2h0m1 2h0m4.5-7h0m.5 2h0m2.5 1.5h0m1-2h0m1.5 3.5h0m4 2h0m.5-1h0m0 1h0m0-4h0m.5 2h0m1.5-5h0m1.5 2h0m0 .5h0m.5-4.5h0m2 3.5h0m4.5 5.5h0m1.5 .5h0m2-11h0m4 2.5h0m4 6.5h0m0-2.5h0m0-4.5h0m5 9h0m2 0h0m4-2.5h0m3.5 2.5h0m0-6.5h0m1.5 2.5h0m2-2.5h0m0-1.5h0m0 8h0m.5-8.5h0m0 1.5h0m1 5.5h0m3.5-1h0m1-.5h0m0-1h0m1.5-5h0m0 2h0m1.5 5.5h0m2 1.5h0m0-3h0m0-2h0m1.5 5.5h0m2-4h0m1-6.5h0m1 0h0m3-1h0m.5 .5h0m.5 7.5h0m1.5-4.5h0m7.5 6.5h0m.5-9h0m.5 .5h0m1-2h0m.5 0h0m0 7h0m.5-6h0m0 8.5h0m.5 1.5h0m1.5-4.5h0m.5 2h0m.5 1h0m2-6.5h0m0-2.5h0m1 9h0m1.5-2h0m1.5 0h0m.5-5h0m0 0h0m4 3h0m2-4h0m0 0h0m1.5 8.5h0m0 1.5h0m1-5h0m4.5-1h0m0-.5h0m.5-4h0m.5 4h0m1 1.5h0m.5-4.5h0m.5 0h0m2 8.5h0m1.5-1h0m.5-5.5h0m1.5 8h0m.5-10h0m1 6h0m.5-1.5h0m.5 4.5h0m0-.5h0m1-5.5h0m1-1h0m0-1h0m.5 .5h0m3 4h0m1-3.5h0m.5 2.5h0m.5-.5h0m0-2h0m1.5 7.5h0m3-.5h0m.5-9.5h0m.5 8.5h0m1-4.5h0m2 2h0m1.5 1h0m2 .5h0m1 3h0m.5-6.5h0m1.5-1.5h0m5.5 5.5h0m5-5.5h0m3 7.5h0m1.5-6.5h0m1.5 5h0m6.5-3.5h0m2.5-.5h0m2.5 5h0m1-9.5h0m.5 1h0m4-2h0m.5 0h0m0 11h0m1-3h0m0-3h0m.5 .5h0m0-4.5h0m1.5 4h0m.5 6h0m0-4h0m.5-.5h0m0 4h0m.5-1h0m1-8.5h0m0 7h0m1.5 1.5h0m0-6h0m1 3h0m.5-2h0m1.5 3h0m0-.5h0m1-4.5h0m0 8.5h0m2.5-10.5h0m1 10h0m0-1h0m.5-6h0m1.5 7.5h0m2-8h0m0 1.5h0m1 3h0m0 4h0m2-7h0m6.5 .5h0m1-2h0m.5-2h0m.5 7h0m0-2h0m0-4h0m3-1.5h0m.5 .5h0m1 1h0m0 1.5h0m0-2.5h0m.5 4.5h0m1-2h0m.5-4h0m.5 8.5h0m0 3h0m1-4.5h0m2.5-2.5h0m1-1h0m0 8.5h0m1-7h0m.5 4h0m.5-4h0m0-4.5h0m1 2h0m0 8.5h0m1-7.5h0m0 0h0m1-1h0m2 7h0m1-2.5h0m0-6h0m.5 3h0m0-1h0m.5 .5h0m.5 7h0m.5-1.5h0m0-8.5h0m1 .5h0m0 3.5h0m.5 2h0m.5 3h0m1-6h0m.5 1h0m0 5h0m.5 2.5h0m1-.5h0m.5-9.5h0m.5 0h0m0-2h0m1 8.5h0m.5-4h0m1.5 4.5h0m.5-5.5h0m0 4.5h0m1.5-7h0m0 11h0m.5-9.5h0m0-2h0m0 0h0m.5 2h0m0 8.5h0m.5-8h0m1.5 9h0m.5-1.5h0m.5-5.5h0m0 5h0m0 .5h0m0-1.5h0m.5-4h0m1 1h0m1 5.5h0m.5-2.5h0m0-6.5h0m0 6.5h0m.5-3.5h0m0 4h0m1-1.5h0m1.5 1.5h0m.5 .5h0m1-9.5h0m1 2.5h0m0 6.5h0m1-6h0m1.5 8h0m.5-9.5h0m2 9h0m.5 0h0m1.5 1h0m.5-2h0m4 2h0m1.5-3h0m0-6.5h0m.5 4h0m.5-5.5h0m0 3h0m0 3h0m3-6h0m0 .5h0m.5-1h0m.5 10.5h0m0-4.5h0m.5 1h0m0 3.5h0m.5-.5h0m.5-9h0m1 7.5h0m.5-2h0m.5-2h0m.5 3h0m0 2.5h0m.5-5h0m1-.5h0m.5-4h0m1 9h0m1 .5h0m0-9.5h0m0 4.5h0m1 3.5h0m1-4.5h0m0 3.5h0m0-2h0m.5-2.5h0m0 0h0m0 5h0m1-5.5h0m.5 8h0m.5-6.5h0m1-3h0m3 2h0m1 .5h0m.5-.5h0m.5 1h0m.5 2.5h0m0 4h0m0-1.5h0m.5 2h0m.5-4h0m0-5.5h0m0 1h0m.5 3h0m1-4h0m.5 5h0m.5-5.5h0m1 1h0m.5 1.5h0m.5 .5h0m3-3.5h0m2 7h0m.5-.5h0m.5 4.5h0m.5-7.5h0m0 7.5h0m1-3.5h0m1-7h0m0 7h0m.5-8h0m.5 10.5h0m.5 .5h0m0-9.5h0m.5 3h0m.5 5.5h0m0-5.5h0m2.5 3h0m.5-1h0m.5 .5h0m.5 4h0m1-1.5h0m.5 1h0m.5-3.5h0m.5-5h0m0 7.5h0m0-6.5h0m.5-.5h0m1.5-1h0m0 9h0m2-9.5h0m1.5 3h0m1.5-4h0m1 4h0m0-2.5h0m.5 3h0m0 5h0m1.5-1h0m.5 1h0m1.5-8h0m1.5-1.5h0m.5 .5h0m.5 10h0m1-10.5h0m1 1h0m.5 6.5h0m.5-1h0m1.5-6h0m0 1.5h0m.5 1.5h0m1 2.5h0m1.5-4.5h0m1.5 5h0m.5-2h0m4 3h0m3.5-7h0m1 6h0m1 4h0m6.5 0h0m2.5-3.5h0m2.5 3.5h0m2-9.5h0m.5 6.5h0m1.5-4.5h0m0 2.5h0m0-5.5h0m1.5 6h0m2.5-1h0m0-1h0m2 5.5h0m.5-2.5h0m.5-2h0m0-5.5h0m5 11h0m4.5-10h0m.5 7.5h0m1 2h0m1-3h0m0-4.5h0m.5 9h0m2.5-9h0m0 7.5h0m4.5-9h0m0 7h0m2-2.5h0m1 1h0m.5-2.5h0m3 3.5h0m1 1h0m2.5-5.5h0m2.5 2h0m3.5 4.5h0m3-5.5h0m2 4h0m5-1h0m1-5h0m1 5h0m2-5h0m8-1h0m.5 3.5h0m5.5-1.5h0m5.5-3h0m1 3.5h0m1.5 4h0m4 1h0m1-8.5h0m0 11h0m1-5h0m2 .5h0m.5-3.5h0m4 3.5h0m1 4.5h0m1.5-1h0m1-4.5h0m1-6h0m.5 .5h0m1 6h0m2 4.5h0m.5-8.5h0m-1084.5 9.5h0m.5 .5h0m1-.5h0m.5 2h0m.5 .5h0m1 .5h0m.5 0h0m1 1h0m.5 1.5h0m1.5-.5h0m0 2h0m.5-.5h0m2.5 .5h0m0 1.5h0m.5-1h0m0 1h0m2 1.5h0m0-1.5h0m1 2h0m0 1h0m570-6.5h0m3.5 3.5h0m3.5 3h0m3-8h0m0 7.5h0m4.5-1.5h0m2.5-3h0m3-2.5h0m0 6.5h0m1.5-5.5h0m1-5h0m.5 7h0m1 .5h0m0 4.5h0m.5-5h0m3-6h0m5.5-.5h0m.5 4h0m.5-3h0m2 2.5h0m.5 7h0m1-2h0m.5-1.5h0m1.5-2h0m0 .5h0m.5 3h0m0-1h0m.5-8h0m1.5 10.5h0m.5-7h0m0 4h0m1-5.5h0m2 4h0m1-5h0m1.5 9h0m6.5 1h0m1-4h0m.5-6h0m0 6h0m2.5 0h0m.5-2h0m0 2h0m0 1.5h0m1 0h0m2-5.5h0m5.5-1.5h0m.5 1h0m2 3.5h0m5-6h0m.5 11h0m.5-10h0m1-1h0m1.5 2h0m2.5 1.5h0m.5 8.5h0m1.5-9.5h0m3 1.5h0m0-1.5h0m2.5 3h0m0-3.5h0m2.5 3.5h0m.5 0h0m.5 2.5h0m1-4h0m0 5h0m7.5-1.5h0m1 1h0m.5-1.5h0m.5 1.5h0m1.5-3h0m.5-2h0m.5 1.5h0m0 5.5h0m2-8h0m2 1.5h0m0-2.5h0m.5 2h0m3 6.5h0m1-1h0m1-8h0m.5 6h0m2.5-5h0m0 7.5h0m1.5 2.5h0m1.5-.5h0m1-8h0m8 5h0m1-2h0m.5 1.5h0m.5-1.5h0m1-4.5h0m.5-2h0m.5 6.5h0m1-2.5h0m.5 .5h0m.5-3.5h0m.5 6h0m.5-1.5h0m1 6h0m0-7.5h0m0-2h0m.5 2.5h0m1 0h0m0 5h0m1.5-3.5h0m0-5.5h0m.5 8.5h0m.5-6h0m0 7.5h0m1.5 1h0m0-9h0m1-1h0m1 4.5h0m.5-5.5h0m0 5h0m0 1h0m1-6h0m.5 8h0m.5 3h0m1-8.5h0m1 6h0m.5 2.5h0m1-6h0m1-2h0m1 1h0m.5-3.5h0m0 7h0m.5-6h0m.5 2h0m1 5h0m1 0h0m4-5h0m0 7.5h0m.5-7h0m.5 3h0m.5 2h0m0-2.5h0m.5 4.5h0m4.5-10.5h0m0 7h0m.5-7.5h0m0 1.5h0m0 8.5h0m6.5-.5h0m0-8h0m.5 7h0m1-4h0m0-4.5h0m2.5 5.5h0m1-.5h0m1 2.5h0m2.5 1h0m1-5.5h0m.5 1h0m0-4.5h0m1 11.5h0m0-8.5h0m.5 9h0m1.5-6h0m3.5 4h0m1.5-6h0m.5 3h0m2 4h0m1.5-6h0m2 .5h0m1 3.5h0m1.5-8.5h0m.5 6h0m4.5-3h0m0-3h0m1 3.5h0m2.5 4.5h0m8.5-3.5h0m2 5h0m0-2h0m3.5-.5h0m1.5-5h0m1.5 5h0m3.5 0h0m.5-7h0m0 9.5h0m1-8h0m.5 0h0m.5 6.5h0m2-1h0m1 1.5h0m1-4.5h0m0 4.5h0m.5 .5h0m3-7.5h0m.5 3.5h0m.5 2h0m2-4h0m2.5 5.5h0m.5-.5h0m0 0h0m3-6h0m0 5h0m0-6h0m4.5 7h0m1.5-5h0m0-1h0m1.5 6h0m3 1h0m.5-2.5h0m0-6.5h0m.5 9.5h0m.5-6.5h0m2 3.5h0m1 4h0m0-1h0m1.5 1h0m1.5-8.5h0m0 .5h0m.5 7h0m0-6.5h0m0 3h0m.5-4.5h0m.5-.5h0m1.5 2h0m.5-1h0m2.5 3h0m1.5 6h0m0-3.5h0m0 .5h0m.5-6h0m.5 6.5h0m0-.5h0m0 3h0m1.5-9h0m0-1h0m.5 6h0m.5-5h0m.5 3h0m0-2h0m.5 2h0m.5 .5h0m1 1.5h0m1 1h0m0 0h0m.5-6h0m1-1.5h0m.5 .5h0m0 10.5h0m0-4h0m1-7.5h0m0 10h0m1.5-4.5h0m0-1.5h0m.5 4h0m3-1h0m1 2.5h0m.5 1h0m2-4h0m0-1.5h0m0-3h0m1-.5h0m.5 1h0m.5 4.5h0m0-1.5h0m1-3h0m1-2h0m2.5-.5h0m0 0h0m.5 1h0m0 3.5h0m0 1.5h0m.5 1.5h0m1-2.5h0m2 2h0m.5-3.5h0m.5 3.5h0m.5-5h0m0 5h0m2-5.5h0m1 9h0m0-10.5h0m0 4.5h0m2.5-1h0m1.5-1.5h0m1 4.5h0m.5-.5h0m1 1h0m1-5h0m.5-2h0m0 2.5h0m1.5-2h0m.5 1.5h0m0 4.5h0m.5-7h0m0 2.5h0m0 7h0m0-6.5h0m.5 8.5h0m0 0h0m1-3.5h0m1-4h0m0-1h0m0 .5h0m.5 1h0m.5 0h0m1.5 4h0m.5-2.5h0m0-6h0m.5 3.5h0m.5 2h0m0-3.5h0m1 7h0m0-4h0m.5 3.5h0m.5-4h0m0-3h0m1 4h0m.5 .5h0m0-4h0m.5-2h0m.5 8h0m0-5.5h0m2 .5h0m1-.5h0m.5 5h0m1 4.5h0m.5-4h0m.5 0h0m.5 2.5h0m0-3h0m.5-2.5h0m0 4h0m1-1h0m2.5-4h0m.5-.5h0m1.5 2h0m.5-3h0m0 9h0m.5-5.5h0m1.5-.5h0m1-2.5h0m3 2h0m2 3.5h0m0-5h0m0 1h0m.5-3h0m2 3.5h0m0 5.5h0m1.5-4h0m1.5 .5h0m0-5h0m1 4.5h0m0-1h0m.5-2h0m0 2h0m.5 1.5h0m1 1h0m0 1.5h0m.5-6.5h0m.5 1.5h0m0 6.5h0m.5-9.5h0m0 9h0m.5-5h0m0-5h0m.5 2h0m1 4.5h0m0 4.5h0m.5-1.5h0m1.5-7h0m.5-.5h0m0 3h0m1 1h0m.5-4.5h0m0 6.5h0m0-7.5h0m1 9.5h0m1-10h0m1 10h0m0-4.5h0m1-3.5h0m0 7.5h0m.5-5h0m.5 2h0m1.5-5h0m1.5 5.5h0m1-4.5h0m1.5-1.5h0m.5 3.5h0m2 2.5h0m1.5 .5h0m5-3.5h0m.5 4h0m1.5-1h0m8-5h0m0-2.5h0m.5 .5h0m2 8.5h0m.5-4h0m.5 0h0m.5-1.5h0m2.5-2h0m.5 3h0m.5-1.5h0m1.5 4.5h0m0-5.5h0m2 2.5h0m.5 0h0m1 6h0m0-7h0m0 7h0m1.5-7.5h0m1.5-1h0m3.5 1h0m.5-3h0m1 1h0m2 4.5h0m3.5 6h0m0-1.5h0m.5-3.5h0m4-5.5h0m.5 6h0m3 4h0m1-1h0m.5-7.5h0m1 6.5h0m.5-.5h0m5-1.5h0m1 3.5h0m7.5-1.5h0m3.5-6h0m13 5h0m1.5-3.5h0m10 7.5h0m1.5-1.5h0m1.5-9.5h0m0 5.5h0m1.5 1h0m1-5.5h0m3.5 3h0m0 4.5h0m1.5 1h0m.5-9.5h0m.5 9h0m1-.5h0m2-5h0m1 4.5h0m1-3.5h0m0-3.5h0m.5-1h0m1 2h0m.5 3.5h0m3-5.5h0m0 3h0m0-1.5h0m3 2h0m0 1.5h0m1.5 1.5h0m1-3.5h0m1 7h0m1-3.5h0m.5-4h0m2 5h0m2-2h0m-1076 5.5h0m1 1h0m569 6h0m1 1.5h0m1-5h0m1.5 8h0m2.5-3.5h0m4.5-3h0m1 7h0m.5-.5h0m2-5.5h0m3.5-5h0m0 3h0m2.5 0h0m.5-4h0m0 11h0m1-9h0m.5 0h0m0 5h0m3.5 .5h0m5 4h0m5.5-4.5h0m1 3h0m.5-8h0m1 5.5h0m2 2h0m1-1h0m0-3h0m0 4.5h0m.5-2.5h0m5 4h0m4.5-2.5h0m0-8h0m1.5 8.5h0m.5 1h0m2.5-10.5h0m2 2.5h0m0 9h0m1-3h0m1 2.5h0m1-2h0m2.5 1.5h0m0-8h0m3-.5h0m1 5h0m1.5-5.5h0m1 0h0m1 5.5h0m.5-6.5h0m.5 7.5h0m1-7h0m2 9h0m.5 1.5h0m1.5-5h0m1-4.5h0m1 3.5h0m3.5 1.5h0m1.5 1h0m3-2.5h0m.5 3.5h0m4-1.5h0m2-4.5h0m1-2.5h0m0 4h0m.5 4.5h0m.5-6h0m.5 7.5h0m0 .5h0m0-7h0m0 2.5h0m1 3.5h0m1 0h0m0 2h0m1-6h0m0 5.5h0m1.5-3h0m1.5-8h0m.5 3h0m.5 0h0m1 2.5h0m0-1h0m1.5 5h0m.5-6.5h0m0 8.5h0m.5-7.5h0m.5 4.5h0m0-.5h0m.5-3.5h0m.5 6h0m0-6h0m0-1.5h0m.5 6h0m.5 1.5h0m0-8h0m3.5 5.5h0m1.5 2h0m1.5-2h0m.5 3h0m0-4h0m0-6h0m5.5 1.5h0m0 1.5h0m0 1h0m5.5 0h0m0-2.5h0m.5 7h0m.5-5h0m0 4.5h0m1 .5h0m1-3h0m4-5h0m0 1.5h0m2 8.5h0m.5-11.5h0m1 7h0m1-2.5h0m1-2h0m2 7.5h0m3.5-1h0m0-3h0m1 0h0m0 0h0m0 2h0m0 1.5h0m.5-4h0m.5 4h0m1-1h0m.5 2h0m.5-4h0m.5 1h0m0 2.5h0m.5-5.5h0m.5 6.5h0m.5-8h0m0 2.5h0m.5 0h0m4.5 3h0m0 0h0m1.5-8.5h0m.5 9h0m.5-.5h0m0 3h0m2-9.5h0m1.5 3.5h0m2-4h0m3 0h0m1.5 0h0m.5 1.5h0m3.5-2h0m.5-1h0m1.5 1h0m3.5 9.5h0m.5-2.5h0m.5 1h0m2.5-8h0m0 9h0m0-2.5h0m1-4h0m2 6.5h0m2.5-5h0m1 2h0m0 .5h0m1-3h0m1 7h0m.5-2h0m0-.5h0m0 0h0m2-5.5h0m1-2h0m0 1.5h0m.5 2.5h0m2.5-5.5h0m1 1.5h0m1.5 6h0m3-6h0m2-.5h0m1.5 3h0m1.5 7h0m4.5-5h0m.5 3.5h0m1-.5h0m1 2h0m1-11h0m5.5 3.5h0m2 5h0m3-8h0m.5 10.5h0m1-7.5h0m4 7.5h0m4.5-2.5h0m1 1.5h0m1-2h0m3.5-8.5h0m1 6.5h0m1-.5h0m2.5-1h0m0 3h0m.5-8h0m4 10.5h0m2 0h0m.5-.5h0m0 .5h0m0-5.5h0m1.5 4.5h0m1.5-3h0m1.5-5h0m.5 0h0m.5 7.5h0m.5-8.5h0m1 9h0m.5 2.5h0m.5-4h0m.5-7h0m.5 8.5h0m0-9h0m2.5 3h0m1 4h0m0 3.5h0m1.5-1h0m.5 1.5h0m.5-.5h0m.5-1.5h0m.5-3.5h0m1 4.5h0m.5-7.5h0m0 .5h0m.5 1.5h0m0-1.5h0m.5 3.5h0m.5-4h0m2 1.5h0m.5-3h0m0 .5h0m0 0h0m.5 2.5h0m0 1.5h0m1.5 3.5h0m0-1.5h0m0-.5h0m2-3h0m1.5-2h0m0 2.5h0m0-1.5h0m1.5 4.5h0m0-.5h0m.5-1.5h0m.5 4.5h0m0-6.5h0m.5 7h0m0-7h0m.5-3h0m0 3.5h0m1.5-1.5h0m2 .5h0m.5-2h0m1 2h0m0 1.5h0m3.5-4h0m1 7h0m0-1h0m0-6h0m.5 6.5h0m.5-6h0m1 5h0m0-6h0m1.5 5.5h0m2-4.5h0m1 10h0m.5-7h0m2-.5h0m2.5-1.5h0m4.5 7h0m2-8.5h0m1.5 .5h0m0 7.5h0m1-3h0m.5 4.5h0m1-7.5h0m.5 0h0m0 2.5h0m1-4h0m0 3.5h0m0 6.5h0m.5-4.5h0m.5-2.5h0m.5 1.5h0m0 1h0m.5 .5h0m.5 .5h0m.5-6h0m.5-.5h0m0 0h0m.5 3h0m.5-1h0m.5-2.5h0m.5 4h0m0-3h0m0 7h0m1-6.5h0m.5 8h0m0-4h0m.5 5h0m.5-10.5h0m1.5-.5h0m0 10h0m1-3.5h0m1-5.5h0m.5 1.5h0m.5 .5h0m0-2.5h0m1.5 1h0m1 7h0m.5-7.5h0m0 .5h0m2-1.5h0m1.5 2h0m2 0h0m3 8h0m0-9h0m1.5 2h0m1 1.5h0m1-.5h0m1.5-1h0m.5-1h0m1 9h0m.5-6h0m.5-2h0m.5 6.5h0m1.5 0h0m2-8h0m.5 9h0m1-7.5h0m0 7.5h0m0-6h0m.5 4h0m.5-2h0m2-5h0m0-.5h0m.5-.5h0m1 2.5h0m.5-1h0m.5 7.5h0m0-1.5h0m1.5-2.5h0m.5 5h0m1-7h0m0-.5h0m0-1h0m1.5 2.5h0m0-2h0m0 1h0m1 5h0m1-6h0m0 8h0m.5-10h0m1 5.5h0m.5 2.5h0m.5 2.5h0m0-10.5h0m.5 2.5h0m.5 .5h0m0-2.5h0m1 6h0m.5-5.5h0m.5 0h0m.5 .5h0m.5-1.5h0m2.5 10.5h0m1-8.5h0m1 8.5h0m0-1.5h0m.5-3.5h0m.5-3.5h0m1-3h0m2.5 9h0m1 0h0m1-2h0m3.5-2.5h0m2 7h0m1.5-8h0m2 0h0m2.5 5h0m2 1h0m2-1.5h0m0-5h0m.5 7h0m.5-4h0m2 3.5h0m1.5-4.5h0m7 1h0m3-2h0m.5-3.5h0m1 0h0m1 4h0m.5 1h0m1 4.5h0m.5-2h0m1.5-7.5h0m11 1h0m7.5 1h0m.5-1.5h0m2 10.5h0m0-6h0m.5-.5h0m2-4h0m0 4.5h0m0 1h0m.5-2.5h0m3 2h0m0-6h0m2 10.5h0m0-5.5h0m2-3.5h0m4.5 2.5h0m0 4h0m6 1.5h0m0-1.5h0m2.5-.5h0m0 3.5h0m0-.5h0m1.5 0h0m.5-1h0m3.5-4.5h0m.5-1h0m1.5 8h0m1-9h0m1-.5h0m2 8h0m1-7h0m.5 5h0m.5-2.5h0m2.5-2h0m1.5 .5h0m1.5-1h0m2 5h0m2.5-3.5h0m.5 4h0m.5-7h0m1-1h0m1 2.5h0m0 6h0m0-8.5h0m3.5 8.5h0m1.5-.5h0m2.5-8.5h0m6 1.5h0m.5-2h0m128.5 10.5h0m0-.5h0m8 1.5h0m2.5-3.5h0m4 2h0m4.5-.5h0m-641.5 3h0m3.5 3h0m.5 5.5h0m0 0h0m1-5.5h0m1.5 7.5h0m1.5-1.5h0m1.5-8.5h0m.5 8h0m1 .5h0m2-3.5h0m3.5 0h0m1 1h0m3.5 1h0m7 2.5h0m1.5-9h0m3 8.5h0m5.5-6.5h0m.5 6.5h0m1-2h0m1.5-2.5h0m2.5 .5h0m0 3h0m0-3.5h0m1 5h0m4.5-3.5h0m7 2.5h0m1.5-8h0m4.5 7h0m1-1h0m1.5-1h0m2.5 4.5h0m.5-7.5h0m0-3h0m.5 1h0m1.5 5.5h0m2 4.5h0m.5-5h0m0-5h0m.5 3h0m0-4h0m.5 10h0m1-6h0m.5 1.5h0m.5 1h0m1.5-4h0m0-2.5h0m.5 9.5h0m1-8.5h0m1 0h0m3 6h0m.5 4h0m2-3h0m.5-4.5h0m0-3.5h0m.5 8.5h0m.5 2h0m0-10.5h0m0 3.5h0m1 .5h0m1 7.5h0m.5-4h0m0 .5h0m.5-1h0m1-7h0m0 11h0m1.5-10.5h0m.5 9.5h0m.5-9.5h0m.5 10.5h0m0-3.5h0m1.5 4h0m0-7.5h0m1 4.5h0m0-7h0m1.5-1.5h0m0 6h0m.5-6h0m2 11h0m1.5-4h0m.5 2.5h0m2 1.5h0m.5-9h0m1.5-1h0m.5 2.5h0m0 7h0m1.5-10h0m.5 1.5h0m1 6h0m.5 2h0m0-1h0m1.5-1.5h0m0-3h0m.5 0h0m.5-4h0m2 5h0m0-1h0m.5 5h0m1-7h0m0 7.5h0m0 0h0m1-8.5h0m0 9.5h0m.5-4h0m2 2h0m.5 2.5h0m0-4h0m.5 2h0m.5-10h0m1.5 9.5h0m.5-5.5h0m2-.5h0m0 7.5h0m2-6.5h0m1.5 4.5h0m0 .5h0m0 2h0m.5-11.5h0m3 10.5h0m0-1h0m1-1.5h0m1.5-7h0m.5 5.5h0m1-2h0m2.5 4h0m.5-7.5h0m0 9h0m2 .5h0m.5 0h0m.5 .5h0m0 1h0m1.5-5.5h0m1-3.5h0m1 2h0m2 5.5h0m0-7h0m2.5 3.5h0m1-3.5h0m5 6h0m2-1.5h0m1 2h0m4-3h0m1.5 4.5h0m.5 .5h0m1.5-5h0m0 2.5h0m.5-4.5h0m1.5-1h0m1-1h0m.5 7h0m4.5-5.5h0m.5 4.5h0m0 2.5h0m0-10.5h0m.5 10.5h0m0-.5h0m2-6.5h0m.5-3h0m1.5 8h0m2-1.5h0m.5 3.5h0m.5-3.5h0m1 2h0m.5 .5h0m0-10h0m1 .5h0m0 0h0m.5 9.5h0m0 .5h0m1-5h0m0 3.5h0m0-8.5h0m0 4.5h0m3.5-1h0m1.5 4h0m2.5-7.5h0m0 6.5h0m.5-5.5h0m1 4.5h0m4.5-1.5h0m1.5-4h0m2 4h0m1-.5h0m.5 4.5h0m1-1.5h0m3.5 .5h0m1 0h0m4 1h0m13-9h0m8 9.5h0m1.5-7.5h0m.5 2h0m2-2.5h0m2 7h0m0-5h0m5 3h0m4 5h0m2-9.5h0m3 1h0m1 2h0m2.5 .5h0m0 1.5h0m0 4h0m1.5-8.5h0m1.5 2h0m1-1h0m.5 .5h0m.5 3h0m1.5-2.5h0m.5-1h0m.5 0h0m0 0h0m0 2h0m0-1.5h0m0 6.5h0m.5-2h0m.5 2h0m.5-2h0m0 1.5h0m0 0h0m.5-9.5h0m0 8h0m0 3h0m.5-6h0m.5 1h0m0 4.5h0m1-6.5h0m.5 7h0m0-.5h0m.5-8.5h0m.5 9.5h0m2.5-5.5h0m.5 2.5h0m.5 .5h0m0 2h0m.5-6.5h0m.5 1h0m0-5h0m0 4.5h0m.5-.5h0m1 5.5h0m0 1h0m.5-.5h0m1.5-2h0m.5-9h0m.5 11h0m.5-1h0m.5-7h0m2 4.5h0m.5-6h0m.5 6h0m.5 4h0m.5-5h0m.5-3h0m.5-1.5h0m1 5h0m.5 4.5h0m0-8.5h0m.5 4.5h0m.5 3.5h0m.5-1.5h0m.5-8h0m.5 7h0m0-1h0m.5-3.5h0m1 8h0m0-9h0m1-3h0m1 4h0m1 3.5h0m0 4h0m0-1h0m1 1h0m.5-3h0m0-7h0m.5 1.5h0m.5 5.5h0m1-1h0m0 .5h0m1-.5h0m0-4.5h0m.5 6.5h0m.5-5.5h0m0 4.5h0m.5-7.5h0m0 4.5h0m.5-.5h0m1.5 5h0m0-5.5h0m1.5 0h0m0-2h0m2.5 4.5h0m.5 2.5h0m2.5-7h0m1-2h0m.5 9h0m0 1.5h0m0-1h0m2-5.5h0m3-4.5h0m.5 2h0m1 0h0m0-1.5h0m1 7.5h0m.5-8h0m2.5 .5h0m0 10.5h0m1.5-6.5h0m1.5-4.5h0m0 11h0m.5-4.5h0m2.5-6h0m0 11h0m.5-3h0m.5-2h0m1-2.5h0m0 4.5h0m2-4.5h0m0 7.5h0m0-10.5h0m0-.5h0m.5 8.5h0m0-9h0m.5 2.5h0m.5-2h0m.5 2.5h0m0 3.5h0m0 5.5h0m0-5.5h0m.5 1.5h0m.5 .5h0m0 3h0m0 0h0m.5 .5h0m0-5h0m.5-.5h0m.5 2.5h0m2 2.5h0m.5 0h0m.5-9.5h0m1 6h0m0-5.5h0m0 6h0m.5-2.5h0m.5-1h0m.5 6.5h0m.5-6h0m0 1.5h0m1-2h0m.5 6.5h0m0-7.5h0m.5 0h0m.5 1.5h0m.5 0h0m0 3h0m0 1.5h0m1-2h0m.5-7.5h0m.5 2.5h0m0 4h0m1.5 3h0m1-3h0m1 3h0m2-3.5h0m0-3h0m.5 6.5h0m.5 1h0m.5 0h0m0-2.5h0m.5 1h0m1-7.5h0m0 5h0m0 .5h0m.5 3.5h0m0-5.5h0m1.5 3h0m13-1.5h0m3.5-6.5h0m0 .5h0m1 0h0m1 0h0m1.5 .5h0m10.5-.5h0m9 7h0m0-5.5h0m1 5h0m1 4h0m.5-10h0m0 7h0m3 1.5h0m2-3.5h0m4.5-3h0m5 8.5h0m1-11h0m1.5 7h0m4 1.5h0m2 .5h0m1.5 .5h0m0 0h0m2-7.5h0m3.5 4h0m7-7h0m1.5 12h0m2-1h0m.5-10.5h0m1.5 7.5h0m3.5-7h0m6 3h0m5.5-3.5h0m1 6h0m0-5.5h0m2.5 4.5h0m1-4h0m1 0h0m0 4h0m2.5 .5h0m2.5-1.5h0m.5 3.5h0m1-7h0m3 0h0m.5 1h0m145.5 7h0m3.5-9h0m0 3.5h0m4.5 3.5h0m1-4.5h0m2.5 1h0m0 7h0m3.5 .5h0m1-.5h0m.5-5.5h0m.5 1.5h0m1-3h0m1.5 8.5h0m0-2h0m2.5-3h0m5 1.5h0m0 1h0m1.5-1.5h0m.5-.5h0m0 2h0m1 0h0m2.5-4.5h0m1.5 1h0m-647.5 7h0m3-1h0m1.5 1h0m5 1h0m2 1h0m1.5 3.5h0m4 .5h0m.5-7h0m1.5 4.5h0m1 2h0m.5 3h0m0-9h0m.5 4h0m1-4.5h0m16 4.5h0m.5-1.5h0m.5 9h0m0-8h0m.5-2.5h0m0 2h0m2-1h0m3 2h0m8.5-1h0m2-1h0m1 5.5h0m0-6h0m1-1h0m1.5 10h0m0-7.5h0m2.5 7h0m3.5 0h0m2 1.5h0m1-5h0m4-5h0m.5 1h0m.5 5h0m3 3.5h0m1.5-4.5h0m.5-2h0m1-3h0m0 3.5h0m.5-3h0m.5 9.5h0m.5-5.5h0m1-.5h0m1 .5h0m1-3h0m0 7h0m0-5.5h0m.5 5.5h0m0-1.5h0m4.5-7h0m0 2.5h0m3.5 .5h0m.5 2.5h0m2.5-.5h0m1.5-5h0m.5 .5h0m0 5h0m2.5-7h0m1 4h0m0 5.5h0m2-1.5h0m1.5-5h0m1.5-2h0m1.5 7h0m1-1h0m1 4h0m0-5.5h0m2.5 1h0m2 5h0m.5-1.5h0m1-1h0m0-6h0m0 8.5h0m1-9h0m.5 2h0m.5 5h0m.5-4.5h0m.5-5h0m.5 10.5h0m0 .5h0m0-7.5h0m.5 6h0m.5-2h0m.5-1h0m0 0h0m2 4h0m.5-2.5h0m0-4.5h0m1-1h0m.5 1h0m0-2h0m0 3h0m.5 0h0m0-1h0m1 7.5h0m0-7h0m.5-2h0m.5 7h0m0-2.5h0m.5-.5h0m.5 .5h0m1 .5h0m.5 2h0m2-8.5h0m1 6h0m.5-6h0m1 7.5h0m.5-1h0m2.5-2.5h0m1.5 6.5h0m.5-11h0m0 5h0m1.5-4.5h0m2 7h0m1 1h0m1-6.5h0m.5 3h0m.5 0h0m.5 4.5h0m.5-5h0m0 4.5h0m2-4h0m.5 3h0m.5 1.5h0m2-2.5h0m1.5 1.5h0m.5-4.5h0m.5-2.5h0m1 8.5h0m4.5-.5h0m2 1.5h0m.5 0h0m.5-6h0m3 3.5h0m.5-4h0m1 1h0m.5 1h0m.5-1.5h0m1 0h0m.5 2.5h0m0-5h0m1.5-1.5h0m3-.5h0m1.5 6h0m1-2h0m.5 3h0m0 0h0m.5 1h0m0-3h0m.5-.5h0m.5 2.5h0m.5-1h0m.5-4h0m.5 1h0m0 5h0m1-1h0m.5-7h0m1 0h0m2-.5h0m.5 6h0m1-4h0m0 0h0m3 6h0m1.5 2h0m0-3.5h0m1 .5h0m2 .5h0m2-.5h0m2-2.5h0m.5 3h0m2.5-2.5h0m0-1.5h0m9 3h0m.5-2h0m1 2.5h0m4-6.5h0m5 5h0m1-5h0m5-.5h0m6.5 4h0m3 2h0m9.5 0h0m2-3h0m1 0h0m1 3.5h0m0-1.5h0m6.5 3h0m.5-1h0m3.5-5h0m0 3h0m.5-4h0m1 4.5h0m.5 .5h0m1.5 3h0m2-.5h0m2.5-4.5h0m.5 6.5h0m5-3h0m6-7.5h0m1 8h0m.5-.5h0m.5 2.5h0m1-3.5h0m0 .5h0m1.5-6h0m0 9.5h0m1.5-3.5h0m0-2h0m.5-5h0m.5 2.5h0m2 3.5h0m1-5h0m.5 7.5h0m.5 .5h0m1.5-3h0m0 2.5h0m0-2.5h0m.5 .5h0m0-6h0m.5 9.5h0m.5-9.5h0m0 10h0m.5-6.5h0m.5 7h0m.5-9.5h0m.5 7h0m.5-5.5h0m0-1.5h0m0 5.5h0m0-3.5h0m.5-.5h0m.5 5h0m.5-2.5h0m0 2h0m.5-5.5h0m1.5 1.5h0m1 5h0m.5-6h0m0 8.5h0m1-10.5h0m1.5 6.5h0m0-1.5h0m.5-3h0m.5 7.5h0m1-4.5h0m.5-1.5h0m0-4h0m0 4h0m0-4.5h0m2.5 6h0m1.5 5.5h0m0-3h0m.5-3.5h0m1 2.5h0m.5-5.5h0m.5 6h0m3-5.5h0m1.5 7.5h0m0-7h0m.5 9h0m1-6h0m1 4h0m0 0h0m.5-3h0m1.5 1.5h0m1 .5h0m0-7h0m1 3.5h0m.5 1.5h0m1.5-2.5h0m.5-2.5h0m.5 7h0m0-5h0m.5 1.5h0m0-1.5h0m1 3h0m1.5-.5h0m1-1.5h0m.5 6h0m0-5h0m1 0h0m.5-3h0m0 9h0m0-11.5h0m.5 8h0m.5-.5h0m.5-3.5h0m0 3.5h0m1-4h0m0 3h0m.5-5.5h0m1 2.5h0m3.5 4.5h0m1 3.5h0m0-4.5h0m0-6.5h0m.5 5.5h0m1 4.5h0m0 0h0m1-7h0m0-1h0m.5-3h0m1.5 7.5h0m0 4h0m.5-6h0m1.5 2.5h0m.5-.5h0m0-5.5h0m1.5 1.5h0m.5 4h0m.5 2.5h0m.5-6h0m0 4h0m1 1h0m5-8h0m23 1h0m1.5 9.5h0m3.5-9h0m7 9h0m1-7h0m1.5-2h0m.5 3h0m1.5 5.5h0m1.5-10h0m.5 10.5h0m.5-4.5h0m2.5-4h0m11-1.5h0m5 8.5h0m2-4h0m.5-3h0m0 7h0m2-4h0m2 6h0m1-1.5h0m1.5-3.5h0m1 0h0m1 4h0m.5-1h0m.5-1.5h0m3.5-5.5h0m3 0h0m5 .5h0m.5 1.5h0m1 1h0m.5-1.5h0m1-3h0m.5 2.5h0m3.5 1h0m1.5 5h0m7-9.5h0m4 .5h0m103.5 8h0m2.5-4.5h0m3-3h0m3 3h0m0-3.5h0m5.5 8h0m0-4.5h0m7.5 4h0m.5 .5h0m3-2.5h0m3.5-3.5h0m.5 2h0m.5 5.5h0m1-8h0m2 7h0m2-6h0m13.5 3h0m.5 0h0m3.5-3.5h0m17-1.5h0m3.5 4h0m.5 .5h0m.5-2.5h0m5 5.5h0m3-7.5h0m1 0h0m.5 5h0m1 2h0m.5-2h0m1.5-4h0m1 8.5h0m-629.5 5.5h0m3 0h0m1 0h0m2.5 3.5h0m0-2.5h0m.5 3h0m4.5-8h0m.5 4.5h0m1.5 .5h0m1.5-5.5h0m.5 6h0m2 0h0m1 1.5h0m1-2.5h0m2 0h0m3.5-1.5h0m1 6.5h0m.5-2.5h0m2.5 3h0m2.5-5.5h0m7.5 .5h0m1.5-4.5h0m1.5-1h0m.5 9h0m0 0h0m.5-4.5h0m2 3h0m0-1h0m.5-1h0m2-.5h0m1 3h0m1-1.5h0m.5 0h0m.5-2h0m2.5 4h0m.5-6h0m.5 4h0m1-4.5h0m1 1.5h0m.5 7.5h0m.5-6.5h0m.5-1.5h0m1-2.5h0m2-.5h0m0 6.5h0m0-4.5h0m.5 5.5h0m0-4.5h0m0 3h0m.5-3.5h0m0-1h0m.5 .5h0m0 6h0m1 0h0m.5-3.5h0m.5-1h0m1-3.5h0m1 1.5h0m2 6h0m1-1.5h0m2.5-.5h0m2-2.5h0m3.5 5h0m1-2h0m.5 1h0m0 2h0m2.5 2.5h0m1-7.5h0m2.5 1.5h0m0 2h0m1.5-7h0m7.5 2h0m.5-.5h0m.5-1.5h0m.5 2.5h0m1-1h0m.5 1h0m1-2h0m0 1h0m.5-1.5h0m.5 7.5h0m0 2.5h0m0-8h0m.5 5h0m.5 1h0m0-8h0m2 10.5h0m2-4.5h0m.5 2.5h0m0-8.5h0m0 4h0m1 6h0m1-.5h0m.5-2.5h0m.5-2h0m3.5 0h0m.5 4.5h0m.5-2h0m0-2h0m.5-2.5h0m1.5 4.5h0m0 3h0m0-6h0m.5 0h0m1.5-4h0m.5 5.5h0m0 2h0m0-4.5h0m.5 1h0m.5-2.5h0m0 8.5h0m.5-10h0m.5 5h0m.5-.5h0m0-1.5h0m0 .5h0m0 1.5h0m.5 .5h0m.5 .5h0m.5 2.5h0m.5-7h0m.5-1.5h0m1.5 1h0m1.5-1.5h0m.5 10h0m3-1h0m0 2h0m.5-4.5h0m0 1h0m.5 0h0m.5-6.5h0m.5 6.5h0m0 2.5h0m0-4.5h0m1.5 1.5h0m1-2.5h0m3 5h0m4-2h0m0-6.5h0m.5 4h0m0 3h0m0 2h0m.5-2h0m1 2h0m1.5-8.5h0m1 .5h0m.5 3.5h0m0 0h0m1.5-2.5h0m1.5-1h0m0-1h0m.5-.5h0m1 4h0m1.5-4h0m1 3.5h0m1.5-2h0m.5 .5h0m.5 2.5h0m1-4h0m.5 7h0m2-6h0m0 2.5h0m3 0h0m3-1.5h0m.5 6.5h0m2.5-2.5h0m.5-3h0m0 2h0m4 3.5h0m0-6h0m.5-2.5h0m3.5-1h0m2.5 0h0m4 9h0m0-2.5h0m4 3.5h0m2-5h0m1-5.5h0m.5 3h0m.5-2.5h0m0 3.5h0m2-4h0m1.5 3h0m1.5 3h0m0-3.5h0m21.5 2h0m1.5 3.5h0m2-4h0m4 1.5h0m2 1h0m.5 2h0m.5 2h0m6-4h0m0-3.5h0m.5 1h0m0-2h0m.5 6.5h0m0 1h0m2-8.5h0m.5 .5h0m0 4h0m.5 4.5h0m3-8h0m2 5.5h0m3.5 4h0m2.5-10h0m1.5 4.5h0m0-5h0m.5 1h0m1.5-1h0m0-.5h0m2 .5h0m2.5 3.5h0m2 0h0m4-2.5h0m0 5h0m1-6h0m4 .5h0m1 2h0m1 1.5h0m.5-3h0m0 1h0m1-1.5h0m.5 3h0m1 3h0m.5 2h0m.5-4.5h0m.5 1h0m0-3.5h0m.5 6.5h0m1-8.5h0m.5 4h0m.5 0h0m1.5-3.5h0m1 4h0m.5 1h0m0-3h0m0-2h0m1.5 4h0m1-1.5h0m0 3.5h0m1.5 .5h0m0-1.5h0m.5 3h0m.5-9h0m0 10.5h0m.5-9.5h0m0 4h0m1.5 3h0m0-1h0m.5-6.5h0m.5 1h0m0 2.5h0m0 2.5h0m.5 2h0m.5-2h0m0 2.5h0m0 2h0m1.5-3.5h0m.5-5h0m0 7h0m.5 0h0m.5-2.5h0m0-4.5h0m.5 8h0m1-6.5h0m0 1.5h0m.5 1h0m.5-1h0m.5-.5h0m.5-.5h0m1 2h0m0 5.5h0m0-3h0m1.5-.5h0m.5-5.5h0m0 2h0m.5 6.5h0m0-.5h0m.5 0h0m.5-7h0m0-.5h0m.5 .5h0m0 4h0m1.5-3h0m0 4h0m0-7h0m1 8.5h0m.5-10h0m0 5h0m0 0h0m.5-1.5h0m.5 2h0m.5-2h0m1-1.5h0m.5 0h0m0 0h0m.5 5h0m1-6.5h0m0 2h0m1.5-1h0m0 7.5h0m1-4h0m0 5.5h0m.5 .5h0m0-9h0m.5 3.5h0m.5-.5h0m.5 5.5h0m0-1h0m1-5.5h0m0 3h0m.5 4.5h0m0-5.5h0m.5-6h0m.5 3h0m0-1.5h0m0 2h0m.5-2h0m0 5h0m1 3.5h0m1-5.5h0m3 5.5h0m.5-1h0m1.5-9.5h0m1 8h0m.5 3.5h0m.5-2h0m0-4.5h0m0-2h0m0-1h0m.5 .5h0m1.5 7.5h0m1.5-3h0m.5-5h0m.5 5h0m1 1h0m2 2.5h0m4-4h0m0 1h0m1.5-1.5h0m.5 4h0m26-3.5h0m.5 4.5h0m5.5-3h0m2.5-4h0m5 .5h0m0 6.5h0m.5-6.5h0m0-3h0m0 1h0m2 5h0m.5-7.5h0m0 0h0m.5 4h0m0 4.5h0m.5-4h0m.5 4.5h0m3.5-8.5h0m0 0h0m.5 2h0m1 4h0m.5-1h0m0-3.5h0m1.5 3.5h0m10.5 6h0m4.5-8.5h0m3.5-2h0m2 10.5h0m.5-5h0m0 0h0m2.5-5.5h0m2 5.5h0m.5-5.5h0m1 1.5h0m8.5-.5h0m115.5 9h0m.5-1.5h0m2-1h0m1 2.5h0m3-6.5h0m7 5h0m3.5-9h0m0 .5h0m.5 7h0m6-6.5h0m4.5 3.5h0m1-2h0m1.5 1.5h0m5.5-3h0m1.5 .5h0m3.5 5h0m8.5 .5h0m1-4.5h0m1.5 0h0m2 6h0m2-3h0m3 1h0m25-2h0m3-1.5h0m1 4.5h0m1.5 0h0m0-4.5h0m.5-1h0m1 3.5h0m0 0h0m1-2.5h0m1 8h0m.5-3.5h0m-615 4.5h0m6.5 4h0m3 3.5h0m.5 3h0m1.5-.5h0m0-5.5h0m1.5 0h0m.5 0h0m.5 5.5h0m0-7h0m.5 8h0m.5-6.5h0m3-3h0m9.5-1.5h0m0 10h0m.5-5.5h0m0-3h0m0 3.5h0m1.5 4h0m.5-2h0m2.5 3.5h0m0-4h0m2.5 0h0m.5-.5h0m.5 1.5h0m.5 2.5h0m4.5-6h0m.5-4h0m2 3h0m1.5-1.5h0m.5 6h0m.5-2h0m1.5-2.5h0m1 8.5h0m.5-9h0m1.5 4.5h0m1-5h0m0 7.5h0m1.5-5h0m2 4h0m1.5-1.5h0m.5-1.5h0m0-3.5h0m3 7.5h0m2-7h0m1.5 9h0m0-8.5h0m1.5 6h0m1.5 2.5h0m.5-3h0m1-3h0m2 3h0m1.5 1.5h0m0-3.5h0m0-4h0m1.5 6h0m.5-6h0m1.5 1h0m.5 1.5h0m1-2.5h0m.5 5h0m0 0h0m0 2.5h0m0-4.5h0m0 1.5h0m.5-3.5h0m1 3.5h0m0 3.5h0m.5-6h0m2 1h0m0-3h0m.5 9h0m0-8.5h0m.5 2.5h0m0 5.5h0m1-2.5h0m.5-8.5h0m0 5h0m.5 5.5h0m.5-1.5h0m0-1h0m1-1.5h0m0-4.5h0m.5 2.5h0m.5 6.5h0m.5 0h0m0-8.5h0m0 6h0m.5 1h0m0-3.5h0m.5-6.5h0m0 8.5h0m2.5-4.5h0m1 1.5h0m1-2.5h0m3-2.5h0m0 0h0m.5 5h0m.5-2.5h0m3-1.5h0m.5 3h0m.5 7h0m1-8.5h0m1.5 0h0m2.5 7h0m1-1h0m0-2h0m0-1h0m1-3h0m.5-1.5h0m1-.5h0m1.5 7h0m0 2h0m.5-8.5h0m0 9.5h0m1-2h0m.5-.5h0m.5 .5h0m.5-5.5h0m1 6h0m2 0h0m10.5-5.5h0m3-3.5h0m1.5 9h0m1.5-3.5h0m.5-2h0m2 0h0m0 3.5h0m2 2.5h0m4-2.5h0m1 1.5h0m.5 1.5h0m1.5 .5h0m2.5-3.5h0m.5 1.5h0m.5 2.5h0m1-.5h0m1.5-1h0m4.5 .5h0m1.5 .5h0m1.5-.5h0m0-5h0m4.5-1h0m2 1.5h0m30.5-2h0m4.5-.5h0m2-2h0m1-1.5h0m3.5 3.5h0m7.5-2h0m.5 4.5h0m3 4h0m1-3.5h0m1.5-3.5h0m1.5 6.5h0m0-.5h0m2-3.5h0m4-4.5h0m.5 6.5h0m3-3.5h0m2 5.5h0m.5 .5h0m0-10h0m1.5 9.5h0m2.5-4h0m.5 1h0m1.5 4.5h0m1-4.5h0m1 1.5h0m0-5h0m2 8.5h0m.5-5h0m0 4.5h0m1.5 0h0m4.5-9.5h0m1 3.5h0m3.5 .5h0m5.5-1.5h0m2.5 6.5h0m0-3.5h0m.5-4.5h0m0 9.5h0m0-5.5h0m.5 .5h0m.5-6h0m.5 0h0m.5-1h0m1 6.5h0m0-5.5h0m.5 4.5h0m.5 3.5h0m.5 1h0m2 1.5h0m1-4h0m1 0h0m0-4h0m.5-2h0m.5 5h0m0-2.5h0m.5-4h0m.5 8h0m.5-.5h0m1-6h0m0 3h0m.5 6h0m0-8h0m.5 2.5h0m0 4h0m.5-5h0m0 2h0m1-4.5h0m0 5h0m1.5 3.5h0m.5-6h0m0 .5h0m0 3h0m.5-1.5h0m0 5h0m.5 0h0m.5-6.5h0m0-2h0m.5-1.5h0m.5 1.5h0m.5 1h0m0-.5h0m0 1h0m0 5.5h0m2-4h0m2-4h0m0 2.5h0m0 1.5h0m0-5.5h0m.5 3h0m.5-2h0m0 7h0m.5-7h0m.5 8h0m.5-7h0m0 2.5h0m0 1h0m2 6h0m.5-7h0m0 0h0m.5-3.5h0m0 2.5h0m0-3h0m.5 7.5h0m.5 1h0m0-3.5h0m.5 2.5h0m1 .5h0m.5 1h0m1-5h0m1.5 3h0m.5-.5h0m.5-6.5h0m.5 6.5h0m1.5-4.5h0m0 5.5h0m.5-.5h0m2-2h0m0-5h0m0 0h0m0 3.5h0m2.5-2h0m0 1h0m.5 1h0m.5 2.5h0m0-5.5h0m0 1h0m1-1h0m.5 4h0m0 2h0m.5-3h0m2 2.5h0m3-4.5h0m6.5-1h0m4.5-1h0m4 5.5h0m5-3.5h0m8 5.5h0m.5-6h0m3.5-.5h0m4.5 7.5h0m1-3h0m4.5 1h0m1.5-4h0m.5 9.5h0m1.5-12h0m2.5 8.5h0m4-1h0m1.5-1h0m.5-1.5h0m1-3h0m2 4h0m6 0h0m1.5-5h0m6 2h0m0 2h0m.5-3.5h0m123 9h0m3.5-1h0m3.5-2.5h0m5-5.5h0m2.5 9.5h0m2-9h0m2.5 8h0m.5-7h0m3 2h0m2 2h0m1 4.5h0m.5-5.5h0m2 2h0m3.5-1.5h0m2-2h0m4.5 7.5h0m0-7h0m0 3h0m3.5-3h0m5 3.5h0m2-6.5h0m2 3.5h0m0 0h0m1-3.5h0m2 7h0m1.5 2.5h0m.5-9h0m0 2h0m1 3.5h0m2.5 0h0m.5 .5h0m.5-2.5h0m.5-4.5h0m0 2h0m0 5.5h0m0-9h0m0 9h0m1.5-7h0m.5 1h0m1 8h0m.5-1.5h0m0-6h0m1 .5h0m1 6h0m.5-.5h0m.5-1h0m1-7.5h0m0 3.5h0m2.5 3.5h0m1.5 3h0m1-10h0m0 .5h0m.5 1.5h0m0 8.5h0m.5-4.5h0m1.5 4h0m2.5-8h0m.5 0h0m.5 3h0m1-2h0m4 4h0m0 .5h0m1-3.5h0m.5 .5h0m0 2.5h0m2 3h0m0-7h0m.5 1.5h0m1.5-5h0m.5 4h0m.5 6h0m0-3h0m2-3h0m.5-2.5h0m1 7h0m1.5 .5h0m1.5-6.5h0m.5-1h0m1 2.5h0m2 0h0m2-1.5h0m1 4.5h0m0-4.5h0m1.5 7h0m0-4h0m1-2h0m-599.5 11h0m.5 .5h0m6-1.5h0m.5 9.5h0m1.5-7.5h0m.5 4.5h0m0 3.5h0m.5-2.5h0m2.5-8h0m4 3h0m0-3h0m3 0h0m.5 1h0m.5 3h0m1.5 6.5h0m1.5-8h0m1 7h0m.5-2h0m3-7h0m1 2h0m1.5 6h0m.5-3h0m1.5 4h0m.5-3.5h0m.5 .5h0m1-5.5h0m.5 8h0m.5-5h0m0-4h0m1 2.5h0m.5-4h0m0 4h0m.5-2.5h0m.5 7.5h0m4-6h0m1.5 5h0m1.5 1.5h0m.5-3.5h0m0 .5h0m.5-1h0m1-1.5h0m0-1.5h0m1 7.5h0m.5-4.5h0m2 5h0m3.5 .5h0m0 0h0m1-10.5h0m.5 8.5h0m1.5-1.5h0m.5-1.5h0m1-1.5h0m.5 2h0m0 4.5h0m2-6h0m1.5 2.5h0m.5 2h0m2-7.5h0m1 9.5h0m.5-6h0m.5-.5h0m.5 5.5h0m1.5-7.5h0m0 1h0m1.5 4.5h0m0-7h0m0-1h0m0 2h0m.5-1.5h0m3.5 9.5h0m1-9.5h0m.5 9.5h0m1-2h0m1 0h0m1.5 3h0m2-1h0m0 .5h0m0 0h0m2-7h0m3-3h0m1-.5h0m2 8h0m0-7.5h0m0 5.5h0m1 3h0m.5-5.5h0m2 6h0m0 .5h0m0-4.5h0m1-5h0m.5 3h0m.5 3.5h0m.5 2h0m.5-2.5h0m.5 1h0m1-6h0m.5 8h0m1-9h0m.5-.5h0m1.5 3.5h0m0 5h0m4.5-3.5h0m2.5 6h0m14-7h0m2.5 1.5h0m2-1h0m0 .5h0m5-3h0m5 4h0m2-6.5h0m.5 11h0m8-1h0m6-2h0m.5 1h0m4-7.5h0m2 7h0m2.5 3h0m4-3h0m11-5h0m13 2.5h0m7 3h0m4.5-2h0m2.5-5h0m0 4.5h0m1 .5h0m0 3.5h0m1.5 .5h0m.5-8h0m2-1.5h0m2.5-1.5h0m5.5 3.5h0m8 8h0m1-6h0m.5-3.5h0m1 2h0m2 1.5h0m.5-5h0m2 1.5h0m1 1h0m0-2h0m0 2h0m1.5 8h0m1.5-5h0m0 .5h0m1-4.5h0m2.5 7h0m0-7h0m1.5 4h0m0-1h0m1.5 5.5h0m0-3.5h0m1.5-3.5h0m1-2h0m.5 1h0m0 3.5h0m.5 5h0m1 .5h0m.5-8h0m0 2h0m0 .5h0m1 5h0m.5-1h0m.5-2.5h0m.5-1h0m0-3h0m1.5 2h0m3 4h0m1 2.5h0m.5-12h0m0 5h0m.5-2h0m0 1h0m.5-3.5h0m.5 1.5h0m0 2.5h0m0-2h0m1-.5h0m1 9h0m.5-11h0m.5 10.5h0m0-9.5h0m1 9h0m.5-1h0m4.5 2h0m.5-6h0m.5 6.5h0m0 0h0m.5-11.5h0m0 8.5h0m.5 2.5h0m1 .5h0m3.5-1.5h0m0-4h0m3 1.5h0m1.5 2h0m.5 0h0m8.5-5h0m.5-4h0m3.5 0h0m1 10h0m1.5-6h0m2.5-4h0m3 9h0m.5-4h0m21.5 3h0m2-4h0m13.5 6h0m3 0h0m2.5-8.5h0m0 5h0m2-6h0m4.5 6.5h0m.5-6h0m1 6.5h0m1.5 1h0m0-8h0m7.5 1.5h0m3.5 .5h0m113 8h0m12-5.5h0m2.5-3h0m11.5 7.5h0m2.5 1h0m6-3.5h0m5.5-4h0m.5 3h0m5-3.5h0m2 .5h0m.5 4.5h0m1 .5h0m.5 2.5h0m0-9.5h0m3 7.5h0m.5-7h0m0 0h0m.5 3.5h0m1 2.5h0m.5-3h0m.5 2h0m.5-4.5h0m.5 2.5h0m.5 .5h0m0-.5h0m3-1h0m1.5-1.5h0m1.5 2h0m0-.5h0m1 3h0m1.5-7h0m.5 11.5h0m.5-2h0m0 1.5h0m1-6.5h0m1.5-1h0m2.5 7.5h0m1-7.5h0m.5 2h0m2 4h0m1-2.5h0m1.5 4h0m.5-1.5h0m2 1.5h0m0-10.5h0m3.5 4h0m2-1.5h0m0-2h0m.5 0h0m2 0h0m1-1h0m1.5 1.5h0m2 4h0m0-5.5h0m1 3h0m1-1h0m.5 7h0m0-5h0m1.5 4.5h0m0-4.5h0m.5 6.5h0m1-8.5h0m.5 5h0m0-5h0m2 9.5h0m.5 0h0m.5-4.5h0m.5 4.5h0m.5-8h0m1 7h0m0-9h0m3 2.5h0m0 3h0m1-6.5h0m.5 9.5h0m.5-8h0m1.5 6h0m0-6h0m.5 6.5h0m3-5h0m0-1.5h0m0 2.5h0m.5 5h0m1.5-1.5h0m1 2h0m.5-1h0m2.5-8h0m0 1.5h0m0-.5h0m1 8.5h0m1-7h0m0-3h0m6.5 3.5h0m.5-1.5h0m-595.5 10.5h0m2 0h0m.5 3.5h0m5 1h0m3-2h0m1.5 .5h0m1.5-1h0m1 5h0m6-.5h0m0-.5h0m0-.5h0m.5 0h0m2.5 1.5h0m4-7.5h0m2 0h0m.5 1h0m2 2.5h0m2-3h0m2 9.5h0m1.5 0h0m.5-9.5h0m1.5 7h0m3.5-7.5h0m2 8h0m0-.5h0m.5-6h0m3 7h0m.5-8h0m.5 2h0m.5-.5h0m.5 2.5h0m1 2h0m1.5 4h0m0-10.5h0m1 1.5h0m1 3.5h0m5-5h0m.5 10h0m3.5-7h0m1.5 .5h0m0 4.5h0m1-8.5h0m.5 3h0m4 7h0m1.5-8.5h0m.5 3h0m1-.5h0m1.5 6.5h0m2-9h0m.5 3.5h0m1.5 5h0m.5-9h0m0 1.5h0m0-2h0m.5 3h0m4.5-3h0m1 5.5h0m.5 4h0m.5-8.5h0m.5 7.5h0m.5-7h0m1-1.5h0m6 7.5h0m11 3.5h0m5-5h0m.5-2h0m0 2h0m3-.5h0m14-3h0m.5 5h0m12.5 2.5h0m17.5-9h0m23.5-1h0m0 4.5h0m2-4.5h0m9 2.5h0m0 5.5h0m0-5h0m1-3h0m1.5 0h0m0 4h0m.5-3h0m.5 5h0m.5-2.5h0m1 0h0m2.5 5.5h0m.5-8h0m0 5.5h0m4.5-2h0m4-3h0m0 6h0m4.5-4h0m1 5.5h0m.5-4.5h0m1 1h0m2-3.5h0m.5 2h0m1 5h0m7-9h0m.5 6h0m.5-3h0m3.5 3h0m.5 0h0m.5-5h0m1.5 7h0m3.5 1h0m0-8.5h0m0 9.5h0m3.5-8h0m0 1h0m1-3.5h0m1 2h0m2.5 10h0m0-11.5h0m1.5 2.5h0m1 3.5h0m0 .5h0m2.5 4h0m.5-5.5h0m1.5 1.5h0m5.5-3.5h0m1-3h0m.5 0h0m3 1h0m.5 8h0m.5-6.5h0m.5-2.5h0m.5 2h0m0-1.5h0m1 2h0m.5 6.5h0m.5-9.5h0m2 .5h0m.5 6.5h0m.5-6h0m3 10.5h0m0-9h0m1.5 4.5h0m1-4.5h0m2 9h0m0-9.5h0m1.5 4h0m0 4.5h0m.5-6h0m.5 3.5h0m.5-4.5h0m.5-3h0m.5 2h0m2 4.5h0m1-2.5h0m1-.5h0m.5 2h0m0 4.5h0m0-9.5h0m2.5 4.5h0m4-4h0m1 10.5h0m.5-10h0m1 5.5h0m3.5-6.5h0m2 3h0m.5-2h0m14 5.5h0m4.5 4.5h0m8-1h0m5.5-2.5h0m1-4.5h0m0 5h0m2-4h0m2.5-3h0m109 9.5h0m9-3h0m.5 3h0m9-8h0m1-.5h0m5-2.5h0m1 10.5h0m4-8.5h0m1-1h0m2.5 9.5h0m1-9.5h0m10.5-1h0m.5 0h0m0 8h0m3.5-3.5h0m0 6h0m1.5-1.5h0m2 2h0m1.5-.5h0m2-10.5h0m0 4h0m4.5 5h0m1 0h0m0-8.5h0m.5 4h0m3-3.5h0m.5 4h0m.5-4.5h0m1 .5h0m1 2h0m.5-1.5h0m1.5 8h0m1 1h0m1-4.5h0m0 5h0m3.5-3h0m6-8h0m4 7h0m.5 0h0m.5 4h0m1-4.5h0m.5-1h0m1-4.5h0m.5 .5h0m.5 8h0m.5-5h0m.5 1.5h0m.5 4h0m.5-6.5h0m2.5 7h0m0 .5h0m1-3h0m.5 1.5h0m1.5-5h0m1-2h0m.5 3h0m.5 .5h0m1 4.5h0m0-7.5h0m4 2h0m1.5-2h0m0 6.5h0m7-5h0m1 5h0m1-9h0m.5 0h0m.5 3h0m1 6h0m1-.5h0m.5-9h0m.5 8h0m1-3.5h0m0 5.5h0m0-6.5h0m1-1h0m0 2h0m1 4.5h0m.5 1.5h0m.5-9.5h0m0 6h0m.5-1.5h0m0-2h0m1.5-3.5h0m0 3.5h0m.5 2h0m1.5 1h0m.5 1.5h0m3 2h0m2-7.5h0m.5-1.5h0m3.5 8.5h0m1.5-8h0m3.5-1.5h0m1.5 8.5h0m1-6.5h0m1 8.5h0m1.5 .5h0m1-11h0m.5 4h0m3-3.5h0m2 0h0m0 1.5h0m1.5 7h0m.5-2.5h0m-573 6.5h0m1-1.5h0m9.5 1h0m11 1.5h0m0 1h0m1 .5h0m1 7.5h0m0-10.5h0m1 3.5h0m1 1h0m2 3h0m1-1h0m.5-2.5h0m0-.5h0m0 2.5h0m1.5 2h0m1-2.5h0m0 0h0m.5 4h0m1-1h0m0-3.5h0m1.5 1.5h0m.5-6.5h0m.5 8.5h0m2.5-4.5h0m.5-4h0m.5 6.5h0m2-2h0m.5 1h0m0-.5h0m1.5-2.5h0m1-2h0m0 8.5h0m1-9h0m4 10.5h0m0-9.5h0m1 9h0m.5-2.5h0m3.5 .5h0m3-6.5h0m0 2h0m.5-4.5h0m2 3h0m0 5h0m0-4h0m1 4h0m.5-5.5h0m2.5 7.5h0m8-5h0m3.5-1h0m21.5-.5h0m16.5 4h0m1.5-7h0m4.5 7h0m12.5 1.5h0m22-9h0m9 6h0m3.5 1.5h0m1.5-3h0m1-3h0m4 4h0m2 0h0m.5-3h0m3.5 9h0m11.5 0h0m1-10h0m3 5.5h0m.5-5h0m3 .5h0m2.5 2.5h0m0-2h0m2 3h0m0 5h0m.5-10h0m1.5 6h0m.5-5.5h0m0 0h0m1 2.5h0m1-2.5h0m0 2h0m0 2.5h0m1.5 2.5h0m3 2.5h0m0-9h0m2 7.5h0m.5 0h0m.5-6h0m1-.5h0m0 8.5h0m1.5-11h0m2 11h0m.5-9h0m1.5 9h0m.5-8h0m1 6h0m0-7.5h0m1.5 5.5h0m.5-3h0m0 6h0m1-3.5h0m.5 3h0m1-6h0m.5 .5h0m0-2.5h0m0 9.5h0m.5 0h0m.5-5.5h0m0-5.5h0m1 6h0m0-1h0m1 .5h0m.5 4.5h0m1-5h0m0 2h0m.5 4.5h0m.5-2.5h0m.5-3.5h0m0 5h0m1-1.5h0m1.5-4.5h0m4-.5h0m2 3.5h0m3-7.5h0m1.5 4h0m.5 1h0m0 3.5h0m1 .5h0m0-6.5h0m.5 0h0m1 2h0m0 1.5h0m2-6h0m0 9h0m.5-8.5h0m.5 6h0m0-3.5h0m1.5-3.5h0m0 9h0m1.5 1h0m.5 2h0m0-8.5h0m0 7.5h0m0-6.5h0m.5 .5h0m1 4.5h0m4.5-6.5h0m1.5 4h0m1-2.5h0m3 4h0m.5-6.5h0m2 8.5h0m0-9.5h0m0 0h0m1 1.5h0m0 0h0m1.5 3.5h0m.5-2h0m.5 0h0m1.5 5.5h0m1.5 0h0m2.5-4.5h0m1.5 .5h0m5-4h0m1.5 7.5h0m.5 .5h0m13.5-9h0m0 .5h0m107 10.5h0m6.5-5.5h0m3-3h0m.5-2.5h0m2 6.5h0m.5-4.5h0m.5 1h0m.5 5h0m15.5-8.5h0m.5 10.5h0m6.5-6.5h0m0-3.5h0m1.5 1.5h0m2 2.5h0m.5-3.5h0m3 2.5h0m5 1h0m3.5 3.5h0m2-4h0m5 6.5h0m2.5-.5h0m.5-3h0m.5 1.5h0m1.5-6.5h0m.5-.5h0m0 6h0m1-3h0m1-2h0m1.5 0h0m3.5 4h0m1.5-5.5h0m7.5 3.5h0m1 1h0m3.5 4h0m1-5.5h0m.5-3.5h0m1 3.5h0m1 8h0m2.5-7h0m.5-.5h0m0 2.5h0m1.5 1h0m.5-5h0m0 4h0m2 4.5h0m1-9h0m1 9.5h0m.5-6h0m.5 4.5h0m.5-5.5h0m3 4.5h0m0-2h0m1-1.5h0m0 1h0m.5-3h0m1-3.5h0m0 4h0m1.5 3h0m0 3h0m3 0h0m1-4h0m0-2.5h0m1.5 2h0m1.5-4h0m0 .5h0m1 2h0m.5 1h0m.5 6h0m.5-6.5h0m1 1.5h0m1.5 3.5h0m.5-5h0m.5 5h0m1.5-6.5h0m0 4.5h0m1-3.5h0m.5 4h0m1 2h0m.5-6h0m1 6.5h0m0-3.5h0m0-6h0m0 2h0m.5 1.5h0m2-4.5h0m2 5.5h0m0-.5h0m.5 2.5h0m1-4.5h0m1.5 5.5h0m0-4h0m1.5 1h0m.5-1h0m1.5 2h0m0 2.5h0m3-4.5h0m.5-4.5h0m.5 8h0m.5-3h0m2-2.5h0m3 9h0m2-11h0m.5 9h0m.5-6.5h0m.5 8.5h0m.5-8h0m.5-1h0m0 3.5h0m2-3h0m0 6h0m1.5-3h0m.5-3h0m3.5-2.5h0m0 3h0m1.5 1.5h0m.5 3h0m1 0h0m0-6.5h0m.5 0h0m0 8h0m1.5-7h0m1 1h0m.5-1h0m.5 8.5h0m1-6h0m.5-4h0m1.5 10.5h0m2-7.5h0m0 1.5h0m-1196 10.5h0m2.5 0h0m.5 3h0m.5-1.5h0m1 1.5h0m1.5-1.5h0m.5 3h0m.5 0h0m1.5 1h0m0-.5h0m0 2h0m1-1.5h0m1.5 1.5h0m.5-.5h0m631-8h0m3-3h0m1.5 6.5h0m1-2.5h0m1-2h0m0 7h0m3 .5h0m0-4h0m3 2h0m1.5-1h0m2.5-2.5h0m3.5-1h0m1 0h0m0-1.5h0m2.5 1h0m1.5 5h0m1.5-7h0m.5 1h0m.5 3.5h0m.5 2.5h0m1 2h0m.5-.5h0m1.5-3.5h0m1-5.5h0m0 4.5h0m0 6.5h0m.5-9.5h0m.5-.5h0m0 4h0m.5 5.5h0m2.5-6.5h0m2.5-1h0m5 2h0m1.5 1h0m0 3.5h0m2.5-2h0m1 1.5h0m1.5 0h0m.5-1h0m23.5-6.5h0m7 3h0m9.5-3h0m11 3h0m5-2.5h0m9.5-1h0m23.5 8.5h0m1.5-5h0m0 7h0m4-11h0m3.5 10h0m4-2.5h0m1.5-5h0m5 0h0m5.5 6h0m.5 0h0m3.5 2h0m2.5-5h0m1 4h0m5-.5h0m1-3.5h0m3 4h0m.5 1h0m1-2h0m2-2h0m1.5 4.5h0m0-5h0m0 4.5h0m0-1h0m1-1.5h0m0 3h0m0-5h0m1.5 .5h0m.5 4.5h0m1.5-4h0m1.5-7h0m1.5-.5h0m3 5h0m1.5 2.5h0m.5 3h0m1.5-10h0m1 3h0m2 2.5h0m2 1.5h0m1 0h0m.5 3.5h0m1.5-8h0m.5 3.5h0m2.5-.5h0m0 3.5h0m1.5-3.5h0m0 5.5h0m4-10.5h0m1.5 3h0m.5-1.5h0m1.5 2.5h0m.5 5.5h0m4-3.5h0m0 2h0m1 0h0m1-6.5h0m1 0h0m2 1h0m1 4.5h0m3 4h0m.5-9.5h0m2 3.5h0m1 4h0m0-6.5h0m1 1h0m1 4.5h0m0-3h0m1 2.5h0m1.5-3.5h0m.5-1.5h0m0 3h0m.5-.5h0m2.5 4.5h0m1-3h0m0 4.5h0m3-6h0m2 3h0m1.5-1h0m1.5-3.5h0m2.5 2.5h0m0-4h0m.5 4h0m1 2.5h0m1.5-1h0m1.5-6h0m0 8.5h0m1-5h0m.5 4h0m0-7h0m1 4.5h0m1-4h0m.5 6.5h0m1-5.5h0m1.5 7h0m0-8.5h0m0-1h0m.5 7h0m0 2h0m1.5-11h0m91 11h0m10-3.5h0m1.5-1.5h0m2.5-3h0m.5 3.5h0m4.5-.5h0m1.5 3h0m4.5 2.5h0m2-3h0m5.5-8h0m0 1.5h0m11.5 1.5h0m5.5 3h0m1.5 2.5h0m6 2.5h0m1.5-3h0m2.5-.5h0m.5-.5h0m1.5 3h0m3-5.5h0m1 2.5h0m14.5-3.5h0m2 1h0m1-3.5h0m0 2.5h0m1-4h0m.5 8.5h0m0-.5h0m0-2.5h0m4.5 4h0m2-3h0m1-3h0m1.5 4h0m.5 0h0m1 2h0m.5-2.5h0m2-.5h0m1.5 3.5h0m.5 1h0m.5-7h0m.5 3.5h0m0-2h0m1.5 4h0m2 2.5h0m0-2h0m4.5-4.5h0m.5 6h0m.5-6.5h0m2 .5h0m3.5 5h0m.5-6h0m3.5-1.5h0m0 0h0m3 7h0m1-9.5h0m1.5 8.5h0m2.5 0h0m1.5-7h0m0 5h0m0 .5h0m1-3.5h0m.5 4.5h0m1-2.5h0m0-4h0m.5 3.5h0m0-2.5h0m.5 5h0m3 1h0m.5-2.5h0m.5 2.5h0m1.5 2.5h0m.5-4.5h0m1.5-3h0m1-3h0m.5 4.5h0m1.5 5.5h0m.5-10.5h0m.5 1h0m.5 8.5h0m1-8.5h0m2 5h0m.5 1h0m3-1h0m5.5 4.5h0m1.5 1h0m4-6h0m.5-3h0m1 5h0m1.5-1.5h0m.5 1h0m.5 .5h0m1-5h0m.5 1.5h0m0 3h0m.5 3.5h0m.5-1.5h0m2.5-1h0m.5-1.5h0m0-2.5h0m0 1.5h0m2 3h0m2-2h0m.5 .5h0m1-2.5h0m0 4h0m3-8.5h0m1 10h0m0-7h0m2 2.5h0m0 4.5h0m.5-2h0m2-7.5h0m3 3.5h0m-1178.5 8h0m0 1.5h0m1.5-.5h0m1.5 1.5h0m629.5 8h0m0 0h0m1-10h0m4 3.5h0m2 0h0m9 1h0m2 2h0m0 .5h0m.5-5.5h0m1.5 6.5h0m0-7.5h0m.5 6.5h0m1-6.5h0m0 0h0m3 8h0m2.5-3h0m1 2.5h0m.5-6h0m1.5 8.5h0m.5-7h0m.5 6h0m1.5-5.5h0m3.5-2h0m1 1.5h0m1.5 1h0m0 2.5h0m4-1h0m.5-6.5h0m1 6.5h0m0-3h0m2.5 4h0m4.5-2h0m3 3h0m2-7h0m0 4.5h0m2.5-2.5h0m1.5-1.5h0m9 2h0m3 5.5h0m2-.5h0m.5-2h0m.5 3.5h0m1-1.5h0m6.5-.5h0m42-8.5h0m7.5 1h0m7.5 0h0m6 4h0m2.5 4h0m.5-1h0m5-1h0m6 0h0m2.5-3h0m3-1h0m.5 4.5h0m4 3.5h0m2-5.5h0m2.5-6h0m3.5 3.5h0m2 4h0m0-4.5h0m0 2.5h0m1-5h0m.5 5.5h0m.5-4h0m2.5 2.5h0m5 2.5h0m7.5-5.5h0m1.5 7h0m0-1.5h0m.5-3h0m3 1.5h0m4-1h0m1-2h0m3.5-.5h0m.5 6h0m2-3h0m1 2.5h0m0-2.5h0m1 2.5h0m1-2.5h0m2.5-1h0m1.5 1.5h0m0 2.5h0m0-1h0m.5 4.5h0m.5-1h0m.5-.5h0m2 2h0m.5-1h0m1-10h0m1.5 6h0m1-6h0m0 6h0m.5 .5h0m0-5h0m.5 5h0m1-3.5h0m0 6h0m2-8h0m.5 5.5h0m0 3h0m0-.5h0m0-3h0m.5-4.5h0m.5-1.5h0m.5-.5h0m1.5 3h0m1 5.5h0m1 2.5h0m1-3.5h0m1-5.5h0m.5 4.5h0m1 2.5h0m1-1.5h0m.5-3h0m.5 3h0m0-8h0m1 3.5h0m5 8.5h0m.5-1h0m1.5-10h0m0 3.5h0m0 4.5h0m1-2h0m0 4h0m.5-1h0m0-1.5h0m.5-3.5h0m0 5h0m1-5.5h0m0 2h0m1 4h0m1-4.5h0m1-3.5h0m.5 9h0m.5-4h0m1.5-5.5h0m.5 7.5h0m0-1.5h0m.5-6.5h0m.5 9h0m.5 1h0m1-11h0m1.5 8.5h0m1.5 2h0m0-9.5h0m5 5.5h0m78-3.5h0m.5 8h0m3-4.5h0m1.5-3h0m2 2.5h0m1 2.5h0m8.5 1.5h0m0-1h0m1 .5h0m2.5-1.5h0m1-6.5h0m0-1h0m.5 6h0m3 5h0m.5-6.5h0m5 2h0m.5 1.5h0m1.5 3h0m0-2.5h0m1-9h0m5.5 8h0m6.5 3h0m1-7h0m8-3.5h0m3 6.5h0m1.5-2h0m0 6h0m0 0h0m.5-7.5h0m8 .5h0m8.5-3h0m5 10h0m4-3.5h0m2-6h0m3.5 2h0m.5 0h0m2.5-2h0m0-2h0m1 2.5h0m.5 4h0m.5 3.5h0m2-4h0m.5 1h0m.5-2h0m2 3.5h0m0-6h0m0 6.5h0m1.5-4.5h0m1.5 5h0m0-6.5h0m3.5-.5h0m.5 8.5h0m.5-5h0m0 4h0m1 1.5h0m2-10h0m0-1h0m.5 1h0m3.5 6h0m1-5h0m0 5h0m0-2.5h0m1 .5h0m.5 6h0m0-4.5h0m0-1h0m.5-3h0m.5-1.5h0m1.5 5.5h0m1.5-6h0m.5 8h0m.5 0h0m.5 0h0m1.5 .5h0m.5-5h0m0-2h0m1-.5h0m1 8h0m1-4.5h0m2 0h0m1 6h0m0-3.5h0m4.5-5h0m0 3h0m3-1.5h0m.5 2.5h0m3-1.5h0m2.5-.5h0m0-1.5h0m2.5 0h0m.5-.5h0m0-1h0m1.5 10h0m1-10h0m1 8h0m2-1.5h0m.5-1h0m.5-1h0m6-4h0m0 9.5h0m2-2h0m0-1.5h0m1-8h0m0 9h0m1 2.5h0m.5-4h0m0-2.5h0m.5-1h0m1-3.5h0m0 5h0m0 1h0m.5 3.5h0m0-8h0m2 4h0m.5 4h0m2 1.5h0m2-3h0m2-8.5h0m0 10.5h0m.5 1h0m.5-5.5h0m0-3.5h0m.5-2.5h0m1 9h0m0-.5h0m.5-4.5h0m2-2.5h0m.5 3h0m0 2h0m1-1h0m.5-.5h0m1 5h0m.5-7.5h0m1 3h0m0-4.5h0m2 .5h0m2-1.5h0m1 2h0m-1321.5 17.5h0m.5-.5h0m2 2.5h0m1-1h0m1.5 1h0m0-1h0m.5 2.5h0m.5 0h0m2 .5h0m807.5-10h0m3.5 2.5h0m1 0h0m5-1.5h0m0 4h0m1-6h0m3 5h0m1 1.5h0m6-7h0m6 3h0m1-2.5h0m1 5.5h0m6.5-5h0m1 1.5h0m1 5h0m2-6h0m1.5 9h0m3-4.5h0m.5-2h0m6.5-1.5h0m0 7.5h0m1-10h0m2.5 6.5h0m2.5 2.5h0m.5-4h0m.5 1h0m1.5 5h0m0-1h0m0-10h0m.5 9h0m1-2.5h0m.5 1.5h0m0-1.5h0m2.5-2.5h0m0 5.5h0m1-4.5h0m1.5 5.5h0m.5-2.5h0m1.5-2h0m.5-2h0m1 4.5h0m2-4.5h0m6 5h0m2.5 2.5h0m2-2h0m1-3h0m3 2.5h0m0-1h0m12.5 2h0m0-1.5h0m4 1.5h0m15-5.5h0m1.5 6.5h0m1.5-7h0m0 7h0m3-7.5h0m0 6h0m0-2h0m3.5-5.5h0m7 9h0m.5-11.5h0m.5 5h0m.5-3h0m0 6h0m10.5-3h0m1-4.5h0m5 1.5h0m.5 4h0m2 3.5h0m2 0h0m4 1h0m4-.5h0m4.5-9.5h0m0 9.5h0m1-3.5h0m1.5 .5h0m1 4.5h0m3-6.5h0m0 4.5h0m1.5-6h0m2.5 8.5h0m1-12h0m.5 10h0m0 .5h0m0-8.5h0m2.5 9.5h0m0-1h0m.5-2h0m1.5-1.5h0m1.5 3.5h0m0-3h0m.5 .5h0m1.5-7.5h0m.5 6h0m2 1h0m0-7h0m.5 2.5h0m2 2h0m1-2.5h0m1.5 7.5h0m3-5h0m2 3h0m0-7h0m2.5 3h0m0 6h0m1.5-8h0m.5 4.5h0m1 .5h0m1-6.5h0m2 5.5h0m0 2.5h0m1-3h0m1-1h0m.5-.5h0m.5-1h0m6.5 5h0m.5-5.5h0m0 5h0m.5 2h0m4.5-6.5h0m2-2.5h0m2 11.5h0m1-10.5h0m1 8.5h0m0-1h0m.5-2.5h0m1 3h0m1.5-8.5h0m1 7h0m1-4h0m0 2h0m.5-2.5h0m0 2h0m.5-1h0m6 3h0m1-5h0m2 7h0m0 1.5h0m72.5-9h0m1.5 7h0m.5-6.5h0m5 8.5h0m5-8.5h0m6 1h0m.5-3h0m.5 5h0m.5-3h0m2.5 8.5h0m.5-2.5h0m4-1h0m0 1h0m3-3.5h0m0-4h0m2.5 1.5h0m1 2.5h0m.5-2.5h0m1 6h0m1-3.5h0m.5 1.5h0m0-1.5h0m1 4.5h0m.5-4.5h0m5.5 4h0m2 .5h0m1-3.5h0m1 1h0m0 4.5h0m10.5-1.5h0m2.5 0h0m1-5.5h0m2 7h0m0 0h0m1.5-8h0m3.5 6h0m5.5 .5h0m.5-1h0m3.5 2.5h0m3-6h0m7.5 6.5h0m2.5-.5h0m0-3h0m0-7h0m4-.5h0m.5 10h0m0-.5h0m.5-10.5h0m2 0h0m2.5 2.5h0m0 4h0m.5-3h0m0 6h0m2-5.5h0m1 5h0m.5-8h0m0 8h0m.5-5.5h0m1 4.5h0m.5-7.5h0m.5 4h0m1 4.5h0m1-4.5h0m.5-3.5h0m0 4h0m.5 4h0m2 0h0m.5-5.5h0m2.5 1.5h0m1.5-5h0m0 4.5h0m.5-3h0m2.5 3.5h0m6-4h0m1.5 1.5h0m1 9h0m4.5-10.5h0m0 9h0m0 1.5h0m1-8.5h0m1 0h0m2.5 5.5h0m1-4.5h0m2.5 3h0m.5 2.5h0m4.5 1.5h0m.5-4h0m0 2.5h0m.5 .5h0m.5-2.5h0m0-6h0m.5 3.5h0m3-.5h0m0 7h0m1-3.5h0m.5 0h0m.5 1.5h0m2-3h0m.5 2h0m.5-7h0m0 4.5h0m1.5-3.5h0m1 8h0m1.5 1h0m1.5-3h0m1.5-7.5h0m0-.5h0m1 6h0m.5 4h0m1.5-10h0m0 .5h0m.5 6h0m.5 4.5h0m0-4.5h0m0-3.5h0m.5 2.5h0m1.5-3h0m.5 4h0m2.5-1h0m0-5h0m2 2.5h0m1.5 1h0m-1301 8h0m1.5 .5h0m0 .5h0m2.5 2h0m.5 0h0m.5 0h0m.5 2.5h0m1-1.5h0m1 1.5h0m2 1h0m.5-1h0m197-3h0m7.5 2.5h0m2.5-.5h0m.5 1h0m1 1h0m.5 0h0m1 1h0m0 .5h0m2 .5h0m1 2h0m.5-.5h0m1 1.5h0m.5 0h0m552.5-4h0m1 0h0m43.5-6h0m11-1.5h0m5 2.5h0m4.5 .5h0m1.5-2.5h0m3 1h0m1-2h0m3 3.5h0m0-.5h0m6-.5h0m1 .5h0m.5-3h0m1 2h0m0 7h0m1-2h0m1-2h0m1-3h0m.5 2h0m2 5.5h0m.5-2h0m0-2.5h0m.5-2.5h0m0 8h0m.5-10h0m0 3.5h0m1-1.5h0m2.5 4.5h0m1-3h0m1-1h0m.5-.5h0m0 4h0m2 1h0m.5-.5h0m.5 .5h0m.5-.5h0m.5 0h0m1 .5h0m1.5-.5h0m0-6h0m1 1h0m.5 .5h0m.5 .5h0m4.5-.5h0m1.5 8h0m7.5-9.5h0m.5 5h0m.5 3h0m2.5-2.5h0m.5 4h0m1.5-6h0m1 6h0m.5-10h0m2 .5h0m.5 2h0m4 3h0m1-3h0m.5 2h0m1.5 1.5h0m2.5-3h0m2.5 7.5h0m.5-7.5h0m3.5 3.5h0m3.5 0h0m.5 1.5h0m.5 2.5h0m1.5-8.5h0m.5 4h0m1.5 2h0m2 1h0m6.5-6.5h0m3.5 7.5h0m2 .5h0m.5-4h0m8-4h0m1 8h0m5.5 0h0m4-1h0m2-2h0m0-8h0m3.5 10.5h0m.5-4h0m1.5 0h0m2 1.5h0m.5-6h0m.5-.5h0m.5 10h0m4.5 0h0m1-5.5h0m1-2.5h0m0 1.5h0m1 3.5h0m.5-4h0m.5-.5h0m1 1h0m1.5-4.5h0m1.5 3.5h0m0 1h0m.5 7h0m.5-2.5h0m1.5-2h0m1.5-1h0m.5-1.5h0m4 2h0m1.5 3.5h0m0-7h0m1 5h0m0-8.5h0m1 7h0m.5-3.5h0m.5 5h0m.5-3h0m.5 3h0m.5-4h0m3 4.5h0m.5 1h0m.5-4.5h0m.5 2h0m.5-1h0m0 5.5h0m.5-6h0m0-5.5h0m2 10.5h0m.5-2.5h0m.5-8.5h0m1 3h0m0 3.5h0m.5 2h0m.5-8h0m.5 1.5h0m1 4.5h0m0 5h0m.5-7.5h0m.5 5h0m0-4.5h0m.5-2h0m0 5.5h0m1-7h0m2 6h0m1.5-6h0m.5 3.5h0m.5 2.5h0m.5-.5h0m1-3.5h0m.5-2h0m.5 7.5h0m1-3h0m4.5-5h0m1 1.5h0m3.5 3.5h0m2 4.5h0m1 1h0m.5-11h0m1.5 10h0m.5-.5h0m2-4.5h0m.5-5h0m12 1h0m4.5 10h0m7.5-10.5h0m44.5 7h0m3 4h0m6 .5h0m.5-3.5h0m1.5-3h0m4.5-.5h0m6 1h0m1 4h0m.5-.5h0m1.5-8.5h0m0 5.5h0m0 0h0m.5 5h0m0-1.5h0m0-8h0m.5-1.5h0m.5 11.5h0m.5-4h0m3-2.5h0m1 4h0m.5 1.5h0m1.5-4.5h0m2.5 1.5h0m.5 3.5h0m.5-3h0m.5-7h0m1.5 10h0m0-7h0m.5 3.5h0m.5-3h0m1 .5h0m.5 4.5h0m1.5-2.5h0m0 3h0m1-1.5h0m2 1.5h0m1-3.5h0m.5-6.5h0m2 4h0m.5-1.5h0m1 2.5h0m3-2h0m0 4.5h0m0-7h0m.5 2h0m0 8h0m0-2h0m.5-4.5h0m0-4.5h0m.5 5.5h0m0 .5h0m0 0h0m1.5 2h0m2 0h0m1.5 0h0m0-3.5h0m1.5 2h0m2 4h0m.5 .5h0m0 1h0m.5-6h0m.5-5h0m1 5.5h0m1 .5h0m0-4h0m1 8.5h0m0-1h0m.5 1h0m6.5-6h0m3 1.5h0m.5-4.5h0m8.5 3h0m1.5 0h0m1-1.5h0m3.5 6h0m2.5-5.5h0m0 .5h0m1.5-2.5h0m.5 7.5h0m.5-4.5h0m1 5h0m0-7h0m.5-.5h0m.5-.5h0m.5-1.5h0m0 2h0m1 1h0m0 4h0m.5-3h0m.5-4h0m0 7h0m2-7.5h0m2 10.5h0m1-10.5h0m1 .5h0m1.5 8.5h0m0-8.5h0m3 2h0m.5-3h0m1.5 6h0m1.5-.5h0m0-5h0m1 11h0m0-9.5h0m.5 5h0m.5-7h0m1 8h0m3.5-7.5h0m1 0h0m3.5 5.5h0m1.5 5.5h0m2-3.5h0m1.5-2h0m1.5 1.5h0m.5-.5h0m5.5 1h0m2 3h0m3-9h0m1.5 6.5h0m1 0h0m1.5-4h0m1.5 5h0m0-1h0m0-7h0m0 6.5h0m1-.5h0m2-4.5h0m1 3.5h0m2-.5h0m1.5-5h0m3-.5h0m5.5-.5h0m0 7.5h0m3-.5h0m0-6.5h0m1 5h0m.5 1h0m0-3.5h0m0 1.5h0m.5 2h0m4-5h0m0 .5h0m0 3h0m7-3h0m-1063 11h0m1-1h0m.5 2h0m1 0h0m1 1.5h0m1.5-1h0m0 1.5h0m1-.5h0m1.5 1h0m0 1h0m1 2h0m.5-1.5h0m1 .5h0m540 5h0m4-1.5h0m9 1.5h0m35.5-4h0m24.5 3.5h0m3-1.5h0m.5 2h0m0-.5h0m10.5-7h0m.5 1h0m.5 5.5h0m1.5-3h0m1-1h0m.5-5h0m6 5h0m5-1h0m0-3.5h0m.5-2h0m1.5 8.5h0m10-7.5h0m.5-.5h0m2 9.5h0m6.5 1.5h0m.5-.5h0m.5-1.5h0m0-4h0m2 4h0m1.5-3.5h0m0-4h0m.5-1.5h0m1 1.5h0m.5 8h0m1-1h0m0-6h0m1-2h0m0 9.5h0m1-8h0m.5 5h0m.5-3h0m1.5 3.5h0m.5-1h0m0-.5h0m.5 1.5h0m3-2.5h0m0-4.5h0m1.5 10h0m4 1h0m1.5-2h0m.5-4.5h0m.5-3.5h0m.5 4.5h0m.5-1h0m1-1h0m.5-2h0m1-2h0m.5 9.5h0m.5-6h0m1-2.5h0m1 1h0m.5 7h0m9 .5h0m.5-2.5h0m.5 1h0m5.5-5h0m5 0h0m1.5 6.5h0m1 1.5h0m5-9.5h0m3 7h0m.5 0h0m6-8.5h0m1 2h0m.5-2.5h0m.5 4h0m1 1.5h0m1-4h0m1-1h0m1 4.5h0m2.5 4.5h0m1.5 1.5h0m.5-7.5h0m.5-2.5h0m0 1.5h0m1.5 5h0m1.5-1.5h0m1 2h0m.5-3.5h0m.5-1.5h0m.5 1.5h0m.5 4.5h0m0-2h0m1.5-3h0m1 2h0m0-1h0m1 4.5h0m1.5 1.5h0m.5-8.5h0m.5 2.5h0m1-2h0m3 0h0m0 5.5h0m2.5-4.5h0m4.5 2.5h0m1-.5h0m1.5-6h0m4.5 8.5h0m3-5h0m2 2.5h0m3 3h0m1-6.5h0m0 3.5h0m1.5 0h0m1-6h0m2 3h0m3 7h0m.5-8.5h0m0 4.5h0m0 1.5h0m7.5 1h0m.5-6.5h0m68.5-1h0m4.5 8.5h0m3.5 2h0m2.5-10h0m.5 3.5h0m.5 5h0m4-6h0m7.5 3.5h0m.5 .5h0m.5-1.5h0m6.5 4.5h0m1-8h0m3.5 3.5h0m.5 1h0m.5-6.5h0m.5-1h0m2.5 2h0m.5 .5h0m0 2h0m1 6h0m2-9.5h0m1.5 6h0m.5 1.5h0m.5 2.5h0m0-7.5h0m.5 6h0m0 .5h0m.5-3h0m0 1.5h0m0-6h0m0 5.5h0m0 .5h0m.5 3h0m.5 .5h0m.5-6.5h0m0 5h0m.5-7h0m0 5h0m1.5 2.5h0m0-2h0m.5-4h0m.5-5h0m.5 7.5h0m0 4.5h0m.5-10.5h0m0 2h0m0 5h0m.5-1.5h0m1 4h0m0-8h0m.5 0h0m.5 1h0m1.5 5h0m.5-6h0m.5 4h0m0-4h0m0 7h0m.5-9.5h0m3 4.5h0m.5 5h0m1 1h0m.5-9h0m4 1.5h0m0 1h0m1 7h0m2.5-7h0m.5 5.5h0m.5-8.5h0m1 3.5h0m.5-3h0m.5 3h0m.5-1.5h0m.5 3h0m.5-2h0m1 7.5h0m4.5-2h0m2-2.5h0m5 3.5h0m4-1.5h0m.5 0h0m1-5.5h0m1 1h0m0-2.5h0m1.5 5.5h0m1.5 2h0m.5-2.5h0m0-7h0m1 5h0m.5 6h0m0-1h0m2 1.5h0m0-5.5h0m2-3h0m0 8.5h0m.5-8h0m.5 7h0m2-1.5h0m.5-1h0m1.5-1.5h0m.5-3h0m.5-3.5h0m1 3h0m.5 7h0m0-1h0m.5-2h0m.5 1h0m0-2h0m.5 4.5h0m1-1h0m1.5-8.5h0m.5 6h0m.5-3.5h0m.5 6h0m0 1h0m1 .5h0m.5-1.5h0m0 0h0m1 2h0m0-8.5h0m.5-1h0m1.5 4h0m1.5-.5h0m.5-1h0m0 0h0m.5 .5h0m.5-2.5h0m1.5 4h0m2-2.5h0m7 1.5h0m0 1h0m3-1.5h0m5.5-5.5h0m0 2.5h0m0 .5h0m-472 14.5h0m5-1.5h0m1 2.5h0m3.5 1.5h0m3.5 0h0m6 1h0m.5-8.5h0m0 0h0m31.5 4h0m5 5h0m11 .5h0m2.5-5h0m4.5-2.5h0m3 6h0m2.5-5h0m5 8h0m1-8.5h0m.5 4.5h0m0 3h0m2-1.5h0m.5-1h0m0 3.5h0m1-4h0m2 2h0m.5-4h0m1 2.5h0m1-6.5h0m.5 .5h0m1 9h0m2.5-6.5h0m0 3h0m.5 4.5h0m1.5-3h0m.5 2h0m3.5-3h0m.5-5h0m0 2.5h0m0 4.5h0m0-7h0m1.5 5.5h0m0 3.5h0m0-8h0m0 1.5h0m4-1.5h0m1 0h0m3.5 2.5h0m2.5-6.5h0m5 11h0m2.5-3.5h0m0-5h0m1 9h0m1.5-3h0m.5-1h0m0-1.5h0m.5 5h0m3-1.5h0m.5-2.5h0m0-2.5h0m6.5 6h0m0-2.5h0m7.5-1h0m2-3h0m2 2h0m1-6h0m11 3.5h0m2 3h0m1.5 5h0m0-10.5h0m3.5 7h0m1.5-7h0m0 5.5h0m2-5h0m1-1h0m4 1.5h0m2.5 4h0m.5-.5h0m1.5-5h0m1.5 10h0m1-2.5h0m0-7.5h0m1.5 .5h0m1 8.5h0m1-9h0m0 2.5h0m.5 1h0m.5-1.5h0m.5 9h0m1.5-10.5h0m0 4h0m2 2.5h0m3-4h0m8-2.5h0m3 .5h0m2 .5h0m1 6.5h0m1-7h0m1 1h0m0 6.5h0m3-4h0m1 1.5h0m.5-3.5h0m2 8.5h0m.5-9h0m4 2h0m.5-2h0m0 2h0m.5 7h0m1.5-5h0m0-6.5h0m.5 0h0m.5 7h0m.5 1.5h0m1-3h0m1-4.5h0m1 2h0m.5 5h0m1 .5h0m8.5-7.5h0m.5 5h0m0 1h0m4 .5h0m0-4.5h0m.5 6h0m1 0h0m.5-7h0m0 2h0m4.5 2.5h0m28-3.5h0m9 5.5h0m20.5-2h0m18 4h0m4-5.5h0m1.5-2h0m4.5 3h0m.5 3.5h0m2-5.5h0m1 7.5h0m.5-.5h0m5-9.5h0m4-1h0m3.5 3.5h0m10.5 6h0m5.5-10h0m1.5 7.5h0m0-5h0m1 0h0m1 6.5h0m0-4h0m1-2.5h0m3 6.5h0m0-7.5h0m1 2.5h0m1.5-3h0m4 3.5h0m3.5-1.5h0m1 5.5h0m.5-1.5h0m.5-5h0m1.5 3h0m1-2.5h0m.5 7.5h0m.5 0h0m3.5-8.5h0m0 9h0m1-6.5h0m0-1.5h0m1 9h0m1-3h0m.5 2.5h0m0-7.5h0m0-2h0m.5 2.5h0m2.5 6.5h0m1-6h0m.5-4h0m.5 5h0m0 2h0m.5-7.5h0m0 7.5h0m0 2h0m.5-3h0m.5 0h0m.5-.5h0m1-1h0m1-1h0m3-3.5h0m4.5 1h0m1.5 1.5h0m.5 .5h0m8.5 2.5h0m3-6h0m1.5 0h0m4 8h0m1-5h0m1.5-2.5h0m2.5 .5h0m.5 0h0m3.5-1h0m-442.5 16h0m2 2h0m8.5-6h0m1 2h0m0 6h0m1 2.5h0m1.5-4.5h0m0-5h0m4 .5h0m11 8.5h0m11.5 0h0m22.5-.5h0m2.5 0h0m5-1.5h0m3.5-1.5h0m2.5-5h0m2 9.5h0m1-1.5h0m2 0h0m0-9h0m2.5 9h0m1-6.5h0m0 7h0m0-8.5h0m.5 1.5h0m1.5-.5h0m1 7.5h0m.5-5.5h0m2 2h0m.5-1.5h0m1-3.5h0m0 10.5h0m1-8h0m1 3.5h0m0-6.5h0m0-.5h0m0-.5h0m1 6.5h0m3-5h0m0 7.5h0m0-2h0m2 2.5h0m0-8.5h0m0 3h0m.5 3h0m0 5h0m.5-10h0m.5 .5h0m.5-1h0m.5-1h0m0 0h0m.5 10h0m1-9.5h0m.5 1.5h0m1.5 9.5h0m2-3.5h0m0-4h0m1-2h0m0-.5h0m2.5 3h0m4-5h0m2 7.5h0m3 2.5h0m.5 0h0m0-3h0m1-3.5h0m1-1.5h0m2-2h0m0 2h0m1 9.5h0m2.5-3h0m2 2h0m0-10h0m1.5 7h0m1-5h0m.5 6h0m1 2.5h0m1-5h0m0 0h0m6.5 4.5h0m0-9h0m0 9h0m1 0h0m0-2.5h0m1 3.5h0m.5-4h0m0 2.5h0m1 0h0m1-4h0m.5 1h0m2-4h0m0 5h0m0-2.5h0m2.5-2.5h0m.5 4h0m1.5-1h0m0 1.5h0m1 .5h0m1-6.5h0m1.5 4.5h0m.5-2h0m3.5 6h0m0-6.5h0m.5-.5h0m.5 2.5h0m.5 2h0m0-2.5h0m2.5 3.5h0m7-1h0m0-7h0m2.5 3.5h0m.5 5h0m1-2h0m.5 5h0m1-1.5h0m1.5-2h0m0-4h0m3-3.5h0m4.5 1.5h0m4-2h0m1 6.5h0m4-4h0m1-.5h0m0 1.5h0m4-2.5h0m.5 6.5h0m2-1h0m1-3h0m4.5-1.5h0m3-1h0m1.5-1h0m.5 5.5h0m.5-3.5h0m2 8h0m0-6h0m.5-2.5h0m0 2.5h0m.5 0h0m0 .5h0m1-2.5h0m.5 5h0m3.5-7h0m2 11.5h0m1.5-7.5h0m5-1.5h0m.5-1.5h0m2 2.5h0m.5 6.5h0m3.5 1h0m.5-3h0m2.5-2h0m1-5.5h0m1.5 9.5h0m1.5-9h0m2 3.5h0m0 1.5h0m0-3h0m1-1.5h0m1 6h0m4-5.5h0m13 4.5h0m1.5 4h0m9 0h0m4.5-7.5h0m47-3h0m14.5 6.5h0m4 2h0m8-4.5h0m4.5-1.5h0m2-1h0m2.5 4h0m4.5-4.5h0m5 0h0m4 5.5h0m2-5h0m0 1.5h0m6.5 2h0m1 0h0m4-4.5h0m10 0h0m-400.5 22h0m7-4.5h0m2.5-1h0m.5 2.5h0m1-4.5h0m2.5 4h0m1 2.5h0m1-9.5h0m0 8h0m.5-2h0m2.5-2h0m1.5-3h0m3.5 10.5h0m.5-5.5h0m0-1.5h0m0-4h0m2.5 6h0m1-7h0m.5 4h0m.5-4h0m2.5 6h0m1.5 5.5h0m.5-6h0m2 3.5h0m0-4.5h0m.5 2.5h0m0 4h0m3 1h0m1.5-1h0m0-3h0m1-1h0m4.5 1.5h0m0 2.5h0m1.5-1.5h0m6.5-2h0m9.5 .5h0m6 .5h0m3-5.5h0m0 8.5h0m3.5 0h0m2-4h0m.5-1.5h0m.5 5.5h0m1 0h0m4.5-9h0m.5-.5h0m.5 7h0m0 1.5h0m0-6h0m3.5 7h0m0-10h0m0 5.5h0m1-6h0m0 6.5h0m1 2h0m0-6h0m3 4.5h0m.5-6h0m0 1h0m1 0h0m0 3h0m1 1h0m0-2h0m0 1h0m.5-1.5h0m0 .5h0m.5-2h0m.5-1h0m.5 8h0m.5-2.5h0m.5 .5h0m.5-4.5h0m5 5h0m1-8h0m0 11.5h0m.5-7.5h0m0 6.5h0m1.5-2.5h0m.5-3.5h0m3 1.5h0m2 2.5h0m2.5 0h0m0-1.5h0m0-7.5h0m5 5h0m.5 4.5h0m2.5-4h0m3.5 4h0m1-5.5h0m3 5.5h0m.5-2h0m4.5-1h0m2 .5h0m1-6h0m4 2.5h0m1-3h0m1.5 .5h0m.5 4.5h0m1.5 0h0m1 1.5h0m0-5.5h0m1 8.5h0m.5-7h0m1 5h0m.5 1.5h0m2.5 1.5h0m2.5-8.5h0m1.5 5.5h0m.5-4h0m.5 7h0m.5-5h0m1.5-1h0m0-3.5h0m.5 4.5h0m0-2.5h0m.5 3.5h0m1.5-6h0m1.5 2h0m1 8.5h0m.5-7.5h0m0-3.5h0m.5 11h0m1.5-10.5h0m.5 2.5h0m3 2.5h0m1.5-2h0m3.5-3h0m3.5 8.5h0m1.5-9h0m2.5 5.5h0m1.5-2h0m1-4h0m1.5 7h0m1-5h0m9.5 0h0m22.5 1.5h0m1.5-3h0m2.5 2h0m13.5-2h0m0 3h0m1.5-2h0m2 3.5h0m.5-3h0m40.5 7h0m3.5-6.5h0m-290 19h0m4-3h0m.5 5.5h0m.5-4h0m.5-7h0m1 8h0m4-7.5h0m2 9.5h0m2.5 0h0m0-2.5h0m.5 0h0m2 3h0m2-10h0m1 6h0m.5-7.5h0m1.5 4h0m1-1.5h0m1.5-2h0m1.5 6.5h0m.5-1.5h0m1.5 1h0m0 3h0m.5-8h0m0 7h0m.5-8h0m1 10h0m1-.5h0m1.5-4h0m3-2.5h0m.5 5h0m1-1.5h0m4 1.5h0m0-7h0m.5 10.5h0m0-9h0m.5 6h0m1.5-1.5h0m.5 .5h0m1 .5h0m.5-6h0m1 0h0m1 8h0m2 1h0m3-4.5h0m3-5h0m1.5 6h0m1.5-3h0m0 3.5h0m0-3.5h0m1 0h0m1 0h0m0 1.5h0m.5-1h0m1-2.5h0m.5 7h0m0-9h0m2.5 5.5h0m.5 5h0m1.5-6.5h0m1.5-3.5h0m.5 .5h0m2-1h0m1 6h0m3.5 1.5h0m.5 2.5h0m0-10.5h0m2 8h0m2 2.5h0m1.5 0h0m.5-3h0m3.5-.5h0m1.5-4.5h0m1.5-.5h0m0-.5h0m1 6h0m1.5 1.5h0m2 0h0m6.5 0h0m0-7.5h0m0 6h0m2.5-4h0m1 3h0m.5-5h0m.5 1.5h0m4 2.5h0m.5-5h0m1 4.5h0m1-.5h0m4.5 4h0m1.5-4h0m2.5 2h0m0-1.5h0m3-3.5h0m.5-1.5h0m1 6h0m4.5-3h0m0 2h0m1.5 6.5h0m0-11.5h0m1 11h0m0-8h0m1 1h0m1 3h0m0-3.5h0m1.5-1h0m4.5 7.5h0m6-1.5h0m1.5-6.5h0m.5 7.5h0m.5-9.5h0m1 4.5h0m.5 1h0m.5 2.5h0m.5-3h0m2-3h0m.5 3h0m.5 3h0m1-6.5h0m.5 .5h0m0 0h0m3 5.5h0m1 2.5h0m.5 .5h0m.5 0h0m1.5-9.5h0m.5 6h0m1-4h0m2 3.5h0m1-1.5h0m.5-.5h0m1.5 6h0m0-9.5h0m2.5 4.5h0m0 5h0m2.5-10h0m1.5 9.5h0m3.5-8h0m2.5 2.5h0m.5-.5h0m8.5 3.5h0m8.5-4h0m1-3.5h0m3.5 1h0m0-1.5h0m0 8h0m5-.5h0m3.5-3.5h0m1.5 2h0m3-1.5h0m.5 5h0m0 2h0m12-4h0m5 4h0m1.5-7.5h0m1.5-1.5h0m2 0h0m6.5-1.5h0m6 2.5h0m3.5 .5h0m6 1.5h0m.5 4.5h0m8.5-3h0m8-1.5h0m53-5h0m-1091 21h0m0 1h0m.5 1h0m1 .5h0m753-3.5h0m1-1h0m.5 2h0m.5-2h0m3.5 .5h0m2 .5h0m3-6.5h0m3 7h0m2.5 3h0m2.5-.5h0m.5-6h0m0 5.5h0m1 .5h0m0-7h0m.5 7h0m1-8h0m0-1.5h0m.5 6h0m.5-7h0m4 .5h0m.5 10h0m0-6h0m.5-1.5h0m1.5-3h0m0-.5h0m1.5 .5h0m.5 8.5h0m.5-1h0m.5 1.5h0m2-9.5h0m0 8.5h0m.5-8.5h0m2 3h0m.5 5.5h0m3-2.5h0m.5-6.5h0m.5 .5h0m1 10.5h0m0-11h0m.5 4.5h0m0 1h0m0-.5h0m0-4h0m1 8.5h0m1-4.5h0m1 4.5h0m.5-7.5h0m.5 8.5h0m0 1h0m1.5-3.5h0m1.5-7.5h0m.5 2h0m1 8h0m2-3.5h0m.5 .5h0m3 2h0m3.5-.5h0m0 0h0m2-2h0m1.5 1h0m0 3h0m.5-4.5h0m0-5.5h0m.5 10h0m0-6h0m.5-4h0m0 5h0m3-.5h0m.5-1.5h0m.5 6h0m0-3.5h0m.5-6h0m2 7.5h0m.5 1.5h0m.5-9h0m.5 5.5h0m.5 3.5h0m0-7h0m.5 5h0m.5-5h0m.5 4.5h0m1-3h0m1.5 7.5h0m.5-8.5h0m2 1.5h0m1-4h0m3 8h0m1 1.5h0m1.5 2h0m2.5-11h0m1 4h0m.5 5.5h0m.5-.5h0m0-6h0m1.5-4h0m5.5 5.5h0m4 .5h0m.5-3h0m2.5-1.5h0m1.5 8.5h0m5.5-2h0m.5 2h0m4-9h0m1 10h0m2.5-10h0m.5 9h0m.5 2h0m0-1.5h0m1.5 .5h0m2.5-7.5h0m2 2h0m2.5 1h0m1.5 3.5h0m1.5-9.5h0m0 0h0m4.5 4h0m.5-.5h0m3.5 6h0m.5-4h0m.5 0h0m.5 .5h0m0-.5h0m2.5-4h0m.5-.5h0m1.5 6.5h0m.5-1.5h0m.5 5.5h0m1.5-8h0m.5 7.5h0m0-9h0m.5 8.5h0m.5-5.5h0m1 3.5h0m0-8h0m3.5 6.5h0m2-2h0m1 5.5h0m1-5.5h0m.5-1h0m.5 6h0m0 1.5h0m.5-3h0m1.5-8.5h0m.5 4.5h0m0 7h0m.5-1h0m.5-8h0m.5-.5h0m.5-.5h0m.5 .5h0m.5-1.5h0m2.5 6h0m1 4h0m.5-8.5h0m0-.5h0m1.5 6.5h0m.5-2h0m2.5-6h0m1 7.5h0m.5-4.5h0m0 6h0m0-7.5h0m0 .5h0m.5 2h0m1.5 7h0m.5-9h0m0 7h0m.5-5.5h0m1 3h0m2 3h0m3-6h0m2.5 5h0m11 3h0m3-8h0m4 0h0m5.5 6h0m1-4.5h0m3 2.5h0m9.5-.5h0m1.5-4.5h0m1 6.5h0m16.5 0h0m1.5 1h0m1.5-3h0m5 1h0m1-2h0m2.5-2h0m8-3h0m2.5 1.5h0m6.5 2h0m8 3h0m.5-5.5h0m3-2.5h0m-1036 12.5h0m1 0h0m1.5 1.5h0m1 1h0m0-.5h0m1 1.5h0m745.5 5.5h0m1-3.5h0m1-2h0m1-1.5h0m4.5 6h0m3.5-5.5h0m2 .5h0m3-3.5h0m2 7h0m3 1h0m1-7h0m4 8h0m.5-7h0m1 3.5h0m1-3.5h0m5 9.5h0m.5 0h0m2-5h0m6.5-5.5h0m1 4h0m1.5 3h0m2.5-6.5h0m3 3.5h0m1-1h0m.5 2.5h0m.5-5.5h0m2 1h0m.5 4h0m.5 2.5h0m.5-2h0m1 .5h0m.5-3.5h0m0 2h0m3 4h0m3.5-7h0m.5 4.5h0m1-4h0m4.5 2h0m1 7h0m3.5-9h0m6 4h0m2-3.5h0m0 5h0m1 1.5h0m0-.5h0m0 .5h0m1 1.5h0m3.5-9h0m.5 1h0m2 5.5h0m1.5-2h0m3 1h0m1-1h0m4 1h0m2 1.5h0m2-9.5h0m.5 7h0m1.5-3h0m1-1.5h0m.5 5h0m1 2h0m3.5-3h0m.5 4h0m1-6h0m3 .5h0m2-4h0m2.5 0h0m0 7h0m.5-3h0m1 3h0m.5 1.5h0m1.5-9h0m0 .5h0m1 5h0m1.5-1h0m.5 6h0m1-3.5h0m1 2.5h0m0-1h0m.5-4h0m.5-4h0m.5 3h0m.5-2.5h0m1 5h0m.5-1h0m.5-1.5h0m0-3.5h0m.5 1h0m0 8h0m1.5-.5h0m0 .5h0m5 1.5h0m3-1.5h0m3.5 0h0m2-9h0m1.5 0h0m.5 9h0m2.5-7.5h0m0 3h0m1.5 1.5h0m3.5 0h0m0-.5h0m.5-5.5h0m.5 4.5h0m0-2.5h0m5.5 9h0m2-6h0m3 4.5h0m3-10h0m.5 .5h0m3.5 9h0m.5 1h0m1.5-2.5h0m.5-8h0m.5 10.5h0m1-9h0m2.5 9h0m0-9.5h0m3.5 9h0m.5-1.5h0m0 1h0m1.5-8h0m.5 7h0m2-1.5h0m2.5-1.5h0m2 2.5h0m1-5h0m0 6.5h0m.5-2.5h0m3.5-1.5h0m1 3h0m3-.5h0m2.5-1.5h0m1 0h0m.5-2.5h0m1 2.5h0m1-2h0m1.5 3.5h0m1-1.5h0m3-4.5h0m.5 2h0m0 1h0m21.5-1h0m17 5.5h0m9-8h0m12 10h0m0-4h0m3.5 1h0m.5 1h0m0 2h0m.5-3.5h0m3-2h0m.5 1h0m3-3h0m0 5h0m.5-3h0m1.5 4h0m3-4h0m2.5-3h0m2.5 5.5h0m1 3h0m1.5-4.5h0m0 4.5h0m2-11h0m2.5 4.5h0m0-2.5h0m.5 2.5h0m.5-.5h0m2 5h0m0-7.5h0m.5 10h0m.5-5.5h0m3.5-.5h0m1.5 1h0m.5-1.5h0m.5-2h0m1.5 0h0m.5 1.5h0m1 6.5h0m.5-7.5h0m.5 2h0m1.5-1.5h0m1-1h0m1 2.5h0m1 2.5h0m1 .5h0m.5-3h0m2.5 3.5h0m4 2h0m16.5-6h0m.5 0h0m-350 7h0m1 7h0m2-1.5h0m1-1.5h0m.5 .5h0m3-2h0m1 5h0m.5 1h0m4.5 1.5h0m1.5-1h0m.5-2.5h0m2.5-3.5h0m1-2h0m2 9h0m5.5-7h0m1.5 1h0m2-2h0m0 6.5h0m.5-1h0m.5-7h0m2 4.5h0m.5-3h0m2-1h0m0 9h0m1.5-7h0m3.5 4.5h0m0-3.5h0m1 4h0m.5-4h0m1-3h0m2 3h0m2-3h0m.5 1.5h0m1.5 8.5h0m1-8.5h0m.5-2.5h0m3 3h0m.5 4.5h0m3.5-4.5h0m.5 2h0m1 .5h0m0 3h0m1-4.5h0m.5-2h0m.5 4h0m10-3.5h0m2 8h0m0-9.5h0m.5 6h0m3.5-4.5h0m0 5h0m0-1h0m.5 3h0m1.5-1h0m1 2h0m5.5-5.5h0m.5 2.5h0m1-7.5h0m1 6.5h0m1.5 3h0m1-7.5h0m0 2.5h0m.5-2h0m.5 9h0m0-10.5h0m3.5 4.5h0m1-3h0m8 5h0m0-7h0m.5 2h0m1 4.5h0m0 4.5h0m0-2h0m2-5h0m1.5-1.5h0m.5 1.5h0m2 6h0m.5-7.5h0m0 3.5h0m.5 4.5h0m0-6h0m2-4.5h0m1 0h0m.5 7h0m1 1h0m.5-8h0m1 1.5h0m3.5-1.5h0m1 10h0m2 0h0m3.5-.5h0m.5-5h0m0-3.5h0m1 9.5h0m3.5-3.5h0m.5-2.5h0m1-3h0m2 1.5h0m.5-1.5h0m1 7h0m0-7.5h0m0 4.5h0m.5-5h0m.5 4h0m1-2h0m1-2h0m2-1.5h0m1.5 3h0m1 6.5h0m2.5-7.5h0m11.5-1h0m2 6h0m.5-3.5h0m2.5 2h0m2-3h0m4 1h0m0-2.5h0m1 3h0m0 0h0m.5-3h0m4 0h0m.5 2h0m3.5-3h0m3 1.5h0m2-1h0m6.5-.5h0m.5 1.5h0m36 1h0m9 4.5h0m14.5 0h0m9.5 .5h0m1 4h0m1.5-2h0m2-1.5h0m0-2.5h0m0 0h0m1-1h0m1 1.5h0m2 0h0m.5 5h0m1 0h0m.5-6.5h0m0-1h0m.5 5h0m1-6h0m0 9.5h0m0-4h0m.5 .5h0m0-1h0m1 1h0m.5 1h0m0-6h0m1 .5h0m0 0h0m.5 7.5h0m.5-.5h0m.5-5.5h0m.5 1.5h0m0-.5h0m1-3h0m0 4h0m0 4h0m1.5-.5h0m1-6h0m0 6.5h0m.5-5.5h0m.5 0h0m.5-5h0m0 4.5h0m.5 4h0m0-8.5h0m0 4h0m1-.5h0m0-1.5h0m2 .5h0m1.5-2h0m.5 5h0m1 1h0m1 2h0m.5-8h0m1 9.5h0m.5 .5h0m0-6.5h0m0-1h0m1 6h0m1.5-3.5h0m.5 4.5h0m.5 .5h0m.5-7.5h0m0 2h0m1 3.5h0m1.5-1.5h0m1.5 3.5h0m0-5h0m1.5 1.5h0m1 1.5h0m0-4.5h0m1.5-4.5h0m0 6.5h0m1 .5h0m.5-2.5h0m.5-3h0m.5 8h0m0-7.5h0m.5 7h0m1-5.5h0m1 5h0m1-4h0m0 5h0m1.5 1.5h0m1-7.5h0m5 8h0m1-.5h0m1-9h0m0 5.5h0m.5-1.5h0m.5-3.5h0m1 7h0m1.5 .5h0m.5 .5h0m0-9.5h0m.5 3h0m0 4h0m1-6h0m.5-2h0m0 7.5h0m1-.5h0m1-2h0m0-5.5h0m2.5 11h0m.5-9.5h0m2 0h0m1.5 6h0m.5-6.5h0m1.5 10.5h0m.5-4h0m0-6h0m.5-1.5h0m.5 10.5h0m.5-2h0m2.5-1.5h0m1-4.5h0m0 5h0m2-1.5h0m1.5 2.5h0m3 2.5h0m-346 5.5h0m2 3.5h0m2-7h0m.5 .5h0m3.5 .5h0m.5 1h0m1 5.5h0m.5-.5h0m0-6.5h0m.5 2.5h0m1 6.5h0m2.5-3.5h0m1.5-4.5h0m2.5 6h0m0 1.5h0m.5-2.5h0m3.5-4.5h0m3 5.5h0m.5-8h0m1.5 11.5h0m1.5-3.5h0m2-8h0m3.5 8.5h0m.5-7.5h0m3.5 .5h0m.5 4.5h0m.5-.5h0m2.5 4.5h0m.5 0h0m0 .5h0m1-.5h0m0-4.5h0m0 5.5h0m.5-2.5h0m0 0h0m1.5-4h0m0 3.5h0m.5-4.5h0m.5 7.5h0m1-10h0m.5 5.5h0m2 3.5h0m1-1h0m.5-6h0m.5 4.5h0m.5-1.5h0m0 2h0m0-6.5h0m.5 7.5h0m.5 .5h0m0-2h0m1.5 2.5h0m3-4h0m1-5.5h0m1.5 3.5h0m1.5 4.5h0m.5-.5h0m2.5-8h0m5 7.5h0m1.5 1h0m3.5 0h0m2-3h0m2 5.5h0m1-7.5h0m2 6h0m.5 1h0m1-2.5h0m0 .5h0m1-7.5h0m1 10.5h0m0-1.5h0m0-1.5h0m.5-7.5h0m1-1h0m0 8h0m0 2h0m.5 .5h0m2 1h0m1-1.5h0m1 .5h0m1.5-1h0m.5-10h0m0 9.5h0m1-3h0m3.5 2h0m5-4.5h0m2.5 .5h0m3-3h0m1 8.5h0m.5-1.5h0m.5 3h0m0-6.5h0m0 1h0m1.5 3h0m6-8h0m.5 9h0m1 2h0m.5-11h0m2 8h0m1.5-6h0m0 8h0m2-6h0m1-3.5h0m.5 6h0m1.5-3.5h0m1 3h0m.5-2.5h0m1.5 6h0m1-5.5h0m2 3h0m1-5h0m1.5 4.5h0m1-1.5h0m1.5-4h0m1.5 .5h0m8 1h0m6-2h0m1.5-1h0m14 11.5h0m76-4h0m2.5-2.5h0m.5 5h0m1.5-3.5h0m.5-3h0m1.5 1.5h0m0-4h0m0-1.5h0m1 5.5h0m1.5 0h0m.5-2h0m1 6h0m.5-7h0m1.5 3.5h0m0-5.5h0m.5 0h0m1 2h0m2 .5h0m0-1.5h0m1 4h0m0-5h0m1 4.5h0m.5 .5h0m2 3.5h0m1-3.5h0m.5-2h0m.5-.5h0m0 .5h0m.5 0h0m1 6h0m1-7.5h0m.5-1h0m0-.5h0m1 10.5h0m4-7.5h0m0-2.5h0m.5 2h0m.5 5.5h0m0-5h0m1.5 4h0m.5 1.5h0m0-8h0m2 10h0m1.5 1h0m.5-6.5h0m0 6.5h0m2-1.5h0m.5-4.5h0m.5-.5h0m.5 2h0m0-4h0m.5 3h0m2 3h0m.5-2.5h0m0-3h0m1 7h0m.5-1h0m0 1h0m.5-5h0m0-4h0m0 7.5h0m1-6h0m0-2.5h0m.5 3h0m1 1h0m.5 2.5h0m.5-5.5h0m2-2h0m.5 9.5h0m1.5-5h0m1 4.5h0m2-5h0m2 0h0m1 6.5h0m0-8.5h0m1 5.5h0m0-2h0m1-5h0m.5 4.5h0m.5 2h0m.5-.5h0m0-2.5h0m1 1.5h0m.5-5h0m1 10.5h0m0-5h0m2-1.5h0m3 4h0m0 .5h0m.5-9h0m1 4h0m3 4h0m.5 1h0m0-4.5h0m.5 2.5h0m.5-2h0m.5 1h0m3-2.5h0m1 4.5h0m.5 2.5h0m.5-5.5h0m2 6h0m.5-.5h0m1-8h0m1.5 9h0m.5-8h0m3-.5h0m0 8.5h0m7-2h0m3.5-7.5h0m2.5 8h0m4-1.5h0m1-1h0m2.5-.5h0m0-2.5h0m.5 4.5h0m2 2h0m.5-4h0m1.5 1h0m1.5 0h0m0 3.5h0m3-1.5h0m4-3.5h0m-363.5 7h0m3.5-1h0m3.5 1.5h0m1.5-2h0m0 3h0m0 2.5h0m.5-1.5h0m0 2.5h0m.5 .5h0m.5-2h0m3.5-1.5h0m1.5 4h0m1.5-4h0m.5 6h0m1.5-9h0m0 7h0m0-4.5h0m1 6h0m0-3h0m.5-5.5h0m2.5 10h0m0-2h0m1-3.5h0m1.5 .5h0m3 1.5h0m.5-2.5h0m1.5-1.5h0m1 6.5h0m.5-5.5h0m1.5 3.5h0m.5-7h0m1 8h0m1 .5h0m0-4.5h0m1 .5h0m0-1.5h0m2-1h0m3.5 4.5h0m1.5 3.5h0m.5-8.5h0m.5 1h0m2.5 8h0m2.5-4.5h0m.5 4h0m1-10.5h0m.5 9.5h0m.5-7h0m0 6h0m.5 .5h0m.5-4.5h0m1.5 6.5h0m0 .5h0m.5-8.5h0m1 3h0m.5 3.5h0m0 2h0m1-2.5h0m0-6h0m.5 0h0m0-1.5h0m1.5 8.5h0m1-1.5h0m2.5 3.5h0m1-2h0m1.5-7h0m1.5-3h0m0 9h0m0-6.5h0m2.5 8.5h0m1-6h0m.5-3h0m.5 9h0m.5-5.5h0m6-2.5h0m1 1.5h0m1 1h0m2.5-4.5h0m4 1h0m.5 8.5h0m0-2h0m.5-6h0m2 4h0m0 1.5h0m0 1.5h0m1-1h0m1.5-3.5h0m0 2.5h0m5-4.5h0m2.5 .5h0m0 2h0m13.5-5.5h0m33.5 4h0m7.5 .5h0m7.5-4h0m.5 6h0m1 2h0m22.5 2h0m7.5-1h0m13-1.5h0m4-2h0m2.5 5h0m1.5-4.5h0m2.5 2h0m11-.5h0m2-6h0m.5 7.5h0m1-8h0m2 6h0m1.5 1.5h0m0-2.5h0m9-4h0m.5-1.5h0m2.5 4.5h0m1 1h0m2 4.5h0m1.5-4h0m1 1h0m.5 1h0m0 2.5h0m.5-7h0m.5 5.5h0m1-1.5h0m1.5 0h0m1 1.5h0m1-3.5h0m0-5.5h0m1.5 9.5h0m1-3.5h0m1 2.5h0m0-3h0m.5-6.5h0m1.5 8.5h0m0-1h0m.5-1.5h0m3.5-4.5h0m2 6h0m1-2.5h0m0-1.5h0m.5-3h0m.5 3.5h0m1 3.5h0m.5-3.5h0m1 0h0m.5 5h0m1.5 .5h0m.5-7.5h0m.5 .5h0m4 3h0m1.5 2.5h0m0 .5h0m1.5 0h0m2.5-3.5h0m1-3h0m.5-1.5h0m1.5 9.5h0m1-6h0m4.5 3.5h0m.5 3.5h0m0-6.5h0m1.5 3.5h0m0-2h0m1.5-1h0m.5 6.5h0m.5-11h0m1 9.5h0m.5-7h0m.5-1.5h0m1 8.5h0m0-1.5h0m2-1h0m0-4h0m1-1.5h0m0 4.5h0m.5-.5h0m0-1h0m0-1h0m.5 6h0m1-9h0m2 7h0m0 2.5h0m.5-1.5h0m1 1h0m0-2h0m.5-7.5h0m.5 .5h0m1.5 5.5h0m0-2.5h0m2 4.5h0m.5 2.5h0m.5-5.5h0m0-3.5h0m0 3.5h0m.5 4h0m0 2h0m.5-.5h0m.5-7h0m0-2.5h0m0 5.5h0m1.5-4h0m0 1h0m.5 .5h0m1-4.5h0m.5 8h0m.5 2h0m1 1h0m1.5-7.5h0m0-1.5h0m1-1h0m0 6.5h0m.5 3h0m.5-3h0m.5 .5h0m0 1h0m1-4.5h0m1.5-2.5h0m1 2h0m0 6h0m0-2.5h0m2.5 3h0m0-3h0m.5 2.5h0m0-.5h0m.5-1h0m.5 1h0m.5-3.5h0m.5-.5h0m.5-2.5h0m.5 8h0m.5-9h0m0 9h0m3-1h0m.5-2.5h0m0 3.5h0m0-3h0m1-8h0m0 5.5h0m.5-5.5h0m0 6h0m0 4.5h0m1-7h0m.5 .5h0m0 3h0m.5-.5h0m0-6h0m.5 2.5h0m0 6h0m1 0h0m0-.5h0m0-2h0m0 .5h0m0 2h0m.5 0h0m.5 3h0m0-8.5h0m1.5 .5h0m.5 1.5h0m.5 5.5h0m1-3.5h0m.5-7h0m.5 3.5h0m0 8h0m0-5h0m0-6h0m.5 6.5h0m1 2.5h0m0-1.5h0m0-3h0m1 1.5h0m2 2.5h0m0 2h0m.5-10h0m0-.5h0m.5 2.5h0m0 7.5h0m.5-4.5h0m0-3.5h0m.5 1.5h0m1 1h0m.5 3.5h0m.5-7h0m.5 3h0m0-4h0m1.5 8h0m1.5-8.5h0m2 11h0m.5-3.5h0m0-4.5h0m.5 8h0m2-.5h0m-341 1h0m3.5 2h0m1.5 1.5h0m.5-1h0m1 .5h0m1.5 .5h0m4.5 2.5h0m3-.5h0m.5 .5h0m1 2h0m4 .5h0m.5-5h0m.5 3h0m3.5-4.5h0m.5-1h0m.5 1h0m0 10h0m5-8.5h0m.5-3h0m1.5 2.5h0m1-.5h0m1.5 .5h0m1.5-1h0m3.5 1h0m3-.5h0m1 0h0m4-.5h0m.5-1.5h0m34.5 5.5h0m1.5 4.5h0m.5 .5h0m1 0h0m0-2h0m4.5 1h0m10-2h0m5.5 2h0m0-7.5h0m.5 7h0m.5 2.5h0m5.5-6h0m2-.5h0m1 3h0m1.5 .5h0m0-5h0m1.5 5h0m1.5-3.5h0m9.5 .5h0m5-4h0m1.5 1h0m4 1.5h0m4-3.5h0m.5 8.5h0m0 0h0m2.5-5h0m0-2h0m2.5 6.5h0m.5-3h0m.5 4.5h0m.5-9h0m.5 5h0m.5-5h0m1.5 6h0m1.5-5h0m0 6.5h0m2.5-7h0m1 5h0m8-5h0m5 1.5h0m17.5 5.5h0m4-3h0m4.5 4.5h0m10-8h0m7 5.5h0m5-1h0m2 4h0m0-8h0m.5 3h0m1.5 .5h0m0-1h0m1-4h0m0 2.5h0m.5-2h0m1.5 3h0m0 5h0m1-6.5h0m.5-2.5h0m1.5 6h0m0 3h0m1-2h0m0-5h0m1.5 .5h0m0 4.5h0m2.5-2h0m0 5h0m2-2h0m.5-4.5h0m1 4h0m1 .5h0m.5 0h0m1 .5h0m.5 .5h0m2.5 .5h0m1-2.5h0m1-5.5h0m.5-1h0m.5-1.5h0m1.5 5h0m1 .5h0m0 2.5h0m.5-7.5h0m.5 .5h0m1.5 6.5h0m1-6.5h0m3.5 4.5h0m1 5.5h0m2-8h0m1.5 6h0m1.5-2h0m2-6.5h0m.5 10.5h0m1-5h0m.5-1.5h0m0-.5h0m.5 7h0m.5 .5h0m0-3h0m.5-4.5h0m.5-1h0m0 4.5h0m.5 2h0m1 2h0m0-4h0m0 2.5h0m.5 0h0m.5 0h0m.5 .5h0m.5 .5h0m.5 0h0m.5-8.5h0m0 2.5h0m.5 3h0m.5-1h0m0-1h0m0-4.5h0m1.5-.5h0m.5 8.5h0m.5 1h0m0-4.5h0m1 1.5h0m.5 3.5h0m0-4h0m.5 0h0m1 4h0m0-4.5h0m.5-4.5h0m0-.5h0m1 1h0m2.5-.5h0m.5-1h0m0 9h0m.5-9.5h0m3 0h0m3.5 .5h0m1-.5h0m0 7.5h0m1-4.5h0m1 5.5h0m1-8.5h0m3.5 2.5h0m10 5h0m4-5.5h0m1 9h0m3.5-4.5h0m1 2.5h0m.5-4h0m1 5.5h0m0-10.5h0m.5 2.5h0m0 7h0m1-4.5h0m0 6h0m.5-9.5h0m.5 7h0m.5-3.5h0m1.5-2.5h0m0-.5h0m1 2h0m1-3.5h0m.5 11h0m.5-1h0m0-2.5h0m1.5-5.5h0m.5 5h0m0-7h0m.5 5h0m0-.5h0m0 6h0m.5-5.5h0m0 4h0m0-9.5h0m.5 0h0m3 4.5h0m.5-1h0m.5 4.5h0m2 0h0m0-4h0m1.5 6h0m.5-.5h0m1.5-3.5h0m.5 .5h0m2.5-3h0m-319.5 14h0m.5-1h0m2-1.5h0m0 2.5h0m1 1h0m0-1.5h0m3.5 0h0m42.5-3.5h0m1.5-1h0m1.5-1h0m.5 1h0m0 2h0m4-2h0m6-1h0m8.5 2h0m93.5 1h0m3.5-1.5h0m.5 5h0m4-2h0m1.5 4h0m1-4h0m4.5 .5h0m3.5 1.5h0m2-3.5h0m1 2h0m2 5.5h0m1-6h0m2-1h0m2 1h0m3 6.5h0m0-3h0m1.5-6h0m0-.5h0m0 3.5h0m1 .5h0m.5 6h0m.5-3.5h0m1-7.5h0m2 3h0m3-3.5h0m0 1h0m.5 2.5h0m0-.5h0m.5 5.5h0m.5-6.5h0m0 1h0m.5 4h0m.5-2.5h0m0-4.5h0m.5 2.5h0m1.5-2h0m0 6h0m2 .5h0m.5-5h0m0 3.5h0m.5-3h0m0 4h0m.5 2.5h0m0-9h0m0 8.5h0m1-5h0m1 4h0m3-3h0m3 7.5h0m.5-8h0m0 6.5h0m.5-4.5h0m1 3.5h0m.5 2h0m0-.5h0m2-2.5h0m.5 1h0m1-6h0m.5 6h0m2 1.5h0m.5-3h0m.5-5.5h0m1-1h0m0 8h0m.5-2h0m.5 4h0m1-2h0m.5 1h0m0-2h0m1 1h0m0-1.5h0m0 3.5h0m1.5-10.5h0m.5 7.5h0m1-7.5h0m0 9h0m1.5 0h0m0-7h0m0 5.5h0m1-7h0m0 9h0m0-4.5h0m.5 5h0m0-8.5h0m.5 7.5h0m1-8h0m1 1h0m.5-1h0m0 7.5h0m0-6h0m.5 3.5h0m0 2h0m.5-6h0m0 4.5h0m.5-6h0m.5 10h0m0-6.5h0m0 5.5h0m0-9.5h0m.5 4h0m.5 .5h0m1-.5h0m.5-2h0m1 5h0m0-3h0m.5 1.5h0m0 3h0m1-2.5h0m0 .5h0m1 4h0m1-3h0m1-6.5h0m.5-1.5h0m0 3.5h0m.5-3h0m0 6.5h0m1-3.5h0m1 5.5h0m0 2.5h0m1-3.5h0m5 .5h0m1 1h0m.5-1.5h0m3 3h0m1.5-6h0m2 4h0m1-7h0m1 4h0m1.5-3h0m1-2.5h0m0 2.5h0m5 2.5h0m3.5-3.5h0m2-2.5h0m0 8h0m1-4h0m1.5 6.5h0m6-5.5h0m1.5-2.5h0m1 4.5h0m0 3h0m.5-4h0m1-5.5h0m0 7.5h0m.5 .5h0m1.5 3.5h0m0-5h0m0-5.5h0m1.5 7h0m1-6h0m1 1h0m1.5 1.5h0m1 0h0m.5-3h0m1 5h0m0-4.5h0m.5 1h0m.5 2.5h0m2 2h0m0-2h0m0 4.5h0m1-8.5h0m.5 3.5h0m.5 1.5h0m2.5 2.5h0m-864.5 11.5h0m732-8h0m31.5 3h0m6 5.5h0m5-5h0m1 4h0m1-3h0m.5-.5h0m3.5 5h0m.5-4.5h0m1-4.5h0m2.5 10.5h0m0-10h0m1 2.5h0m.5 6.5h0m.5-8h0m.5 4.5h0m.5-.5h0m1.5 2h0m0-5h0m1 5.5h0m.5 1h0m.5 1.5h0m1.5-2.5h0m.5-6.5h0m.5-1.5h0m0 8h0m0 0h0m0-3.5h0m.5 6h0m0 .5h0m.5-5.5h0m.5-4.5h0m.5 7.5h0m0-9h0m.5 9.5h0m.5-7.5h0m0 0h0m.5 5.5h0m1 2h0m2.5-8h0m1 5.5h0m0-6h0m0 3.5h0m1.5 7h0m1-9.5h0m.5 3.5h0m0 0h0m.5-.5h0m0-4.5h0m3.5 2.5h0m1-1h0m1-.5h0m2 2h0m3.5-1h0m1.5-2.5h0m.5 5.5h0m1.5 1h0m1-2h0m1.5 5h0m9-7h0m3-2.5h0m3.5 9h0m1 2.5h0m1.5-1h0m.5-7h0m4.5 2h0m0-.5h0m0 .5h0m.5-5.5h0m.5 9.5h0m.5-7.5h0m0 3.5h0m2 1.5h0m1-6h0m3.5 10.5h0m2.5-7.5h0m0 5h0m1.5-6h0m.5-3h0m1 7h0m.5 2.5h0m2-7h0m1 6.5h0m1-7h0m1 3.5h0m.5 1h0m1.5 3.5h0m-109.5 3h0m10.5 6h0m.5 3h0m0 .5h0m1.5-1h0m0-1.5h0m0-2h0m1-2.5h0m.5-1.5h0m0-1h0m.5 3h0m0 7h0m0-7h0m1 3h0m2 .5h0m1-3.5h0m0 0h0m.5 5h0m.5-5h0m.5 2h0m0 2h0m.5-7h0m.5 7.5h0m.5-3.5h0m0 4.5h0m0-4h0m0-1h0m1 .5h0m.5-2h0m1 1.5h0m.5 3.5h0m0-3.5h0m.5 5.5h0m1-8h0m.5 8h0m0 1h0m0-3h0m3.5-6h0m0 3.5h0m0-2h0m0 6.5h0m.5-5.5h0m0-1.5h0m1 1.5h0m1-2h0m0-2h0m0 10h0m1.5-3h0m0-7h0m1 7.5h0m.5-2h0m.5-5h0m1.5 1.5h0m.5 .5h0m2.5-3h0m.5 9.5h0m1-1h0m0-2h0m1 4h0m0-2h0m0-1h0m.5 2h0m1.5-8h0m0 10h0m.5-9h0m0 7h0m.5-2.5h0m.5-2h0m3 4.5h0m.5-4h0m1 5h0m1-7h0m.5-3.5h0m0 10.5h0m0-6h0m1-.5h0m.5-1h0m3 .5h0m0-1.5h0m2 6.5h0m2.5 2h0m2.5-9.5h0m0 8h0m5.5-.5h0m2-6.5h0m1.5 3h0m6 4h0m2.5-3h0m0 3.5h0m2-6h0m0-2h0m0 2h0m.5-2.5h0m.5 10.5h0m.5-11h0m1.5 5.5h0m.5-1.5h0m0 5h0m.5-8.5h0m.5 6h0m0-6h0m0-1h0m1 8.5h0m0-6.5h0m0 0h0m.5 1h0m0 1h0m.5 2.5h0m1.5-1.5h0m.5 3h0m1.5 3.5h0m.5-5.5h0m1-6h0m0 10h0m2-3.5h0m.5-7h0m0 4h0m1-1h0m0 3h0m1 4.5h0m2-7.5h0m1 8.5h0m0-1h0m0-10.5h0m.5 7.5h0m.5-4.5h0m3-3h0m4.5 6h0m.5 0h0m-102.5 7.5h0m1 4h0m1-3h0m0-2.5h0m.5 4.5h0m.5 .5h0m.5 0h0m0-2h0m1 4h0m0 2.5h0m3-2h0m.5 3.5h0m.5-6h0m1 2.5h0m0-3h0m.5-1h0m.5 4h0m.5-6h0m.5 7h0m0 1.5h0m.5 1h0m1 1h0m.5-10h0m0 9.5h0m1-1.5h0m0 2h0m0-11h0m1 4.5h0m0-2.5h0m0 2.5h0m.5 5.5h0m.5-7.5h0m0 5.5h0m1-4.5h0m.5 1.5h0m0 5h0m.5-10h0m0 0h0m0 10.5h0m1.5-6.5h0m.5 .5h0m.5 0h0m0 2.5h0m3 1h0m.5-1h0m1.5 3h0m1.5-2.5h0m1 0h0m1.5-8h0m.5 10.5h0m.5-2.5h0m1.5 0h0m0-4h0m1-2h0m.5 7h0m5-6.5h0m1 9h0m.5-5h0m3-6.5h0m0 10h0m1.5-7h0m1 4.5h0m0 2.5h0m.5-8h0m.5 4.5h0m0 3.5h0m1-1.5h0m0 1.5h0m0 .5h0m.5-.5h0m0-9h0m0 8.5h0m1.5-.5h0m.5-1h0m0-4.5h0m.5 1h0m1 3.5h0m2.5 .5h0m2-5h0m6.5 2.5h0m4.5 5h0m3-1h0m3.5-.5h0m.5 0h0m.5-1h0m.5-8h0m0 10.5h0m1 .5h0m0-1.5h0m0-4h0m.5 3.5h0m2-2h0m0 1.5h0m2 1.5h0m.5 0h0m1.5-3h0m.5-3h0m1 .5h0m0 .5h0m1.5-2h0m.5-3h0m.5 9.5h0m0 .5h0m0-8h0m0-2.5h0m2.5 6.5h0m.5-6h0m.5 7h0m1-4h0m1 3.5h0m2 2.5h0m.5 0h0m3.5 1h0m1 .5h0m1-6h0m0 3h0m.5-3.5h0m1 2.5h0m.5 2.5h0m1-8h0m-96.5 10h0m2.5 0h0m1.5 1h0m1.5 4.5h0m.5-1h0m1 1h0m0 0h0m1.5 4.5h0m.5-3h0m.5-1h0m.5-5.5h0m.5 1.5h0m.5 1h0m.5 8.5h0m.5-7.5h0m.5 6.5h0m1 1h0m0-11h0m0 .5h0m.5 9.5h0m0-.5h0m1-5h0m1 2.5h0m1-7h0m.5 6.5h0m0 2.5h0m.5-5.5h0m0 1h0m1-2h0m.5 7h0m.5 1.5h0m0-1.5h0m.5-6.5h0m1.5-2h0m0 10h0m1.5-.5h0m.5-7.5h0m.5 8h0m1-10.5h0m0 2h0m.5 0h0m.5 4h0m0-4.5h0m.5 1h0m.5-1h0m1.5 8h0m0 1h0m0-11h0m.5 6.5h0m0 3.5h0m1.5-10.5h0m1.5 3h0m.5 0h0m.5 1h0m0 5.5h0m1-7.5h0m.5-1h0m1 3h0m0 7h0m1-6h0m.5-2.5h0m1.5-1h0m.5 2.5h0m0 4.5h0m0-2.5h0m.5-3h0m2 7.5h0m0-1h0m.5-3h0m.5-4h0m1 7h0m.5 1.5h0m.5 .5h0m0-8h0m.5 2h0m.5 .5h0m2 4h0m1-3.5h0m2 1.5h0m4 2.5h0m0-2.5h0m1.5 3h0m2-4.5h0m.5 4.5h0m1.5-8.5h0m.5-1.5h0m1.5-1h0m1.5 3.5h0m.5 4h0m1 0h0m.5-3.5h0m.5-.5h0m.5 0h0m.5-3.5h0m.5 7h0m.5-2h0m0-2.5h0m1 1.5h0m.5 5.5h0m.5-9h0m2 6.5h0m.5-4h0m0-2.5h0m.5 1.5h0m.5-1.5h0m3 9h0m1.5-.5h0m.5-2h0m1 .5h0m1.5-6.5h0m.5 5.5h0m1.5 2h0m0-4.5h0m.5-1.5h0m2 1h0m2.5-2.5h0m4 .5h0m1-1h0m.5 0h0m-80.5 13.5h0m2 1.5h0m.5 0h0m3 3.5h0m2-2.5h0m0 1.5h0m2.5-4h0m.5 2.5h0m2.5-2h0m1-1h0m1 4.5h0m1.5-6h0m2.5 1.5h0m1.5 3.5h0m.5-.5h0m.5-1h0m1.5 .5h0m2 .5h0m.5-2h0m.5 7h0m.5-3h0m.5 1h0m0 0h0m.5-.5h0m0 1h0m0 2h0m1-6h0m0 4.5h0m.5 0h0m0-5h0m.5-1.5h0m1-.5h0m.5 7.5h0m2 2h0m0-3h0m0-6.5h0m.5 8h0m2-1h0m.5-2h0m.5-.5h0m.5 4h0m.5-3h0m.5-6h0m0 10.5h0m0-3.5h0m1.5 4h0m2-4.5h0m1.5 1.5h0m2.5 2h0m0-.5h0m0-4h0m.5 1.5h0m1 2.5h0m1-9h0m.5-.5h0m2.5 1h0m.5-1.5h0m.5 2.5h0m2-2.5h0m-27 12h0m8.5 0h0m0 .5h0m.5 0h0m0 0h0m.5 3.5h0m2 1h0m0-2.5h0m0 1h0m0 1h0m.5 1h0m.5-3.5h0m0 7h0m.5-3h0m.5-4.5h0m.5-1.5h0m.5 2h0m0 3h0m.5-.5h0m.5 3.5h0m1.5-8.5h0m0 5h0m0-4.5h0m1.5 4.5h0m0 4.5h0m.5-.5h0m1 2.5h0m.5-8.5h0m.5 .5h0m3 2.5h0m.5 6h0m-515 152h0m.5-1.5h0m0 1.5h0m.5-2h0m1 5h0m0 1h0m2-7h0m0 1h0m.5 0h0m2 4h0m1-5h0m0-1h0m3.5 1h0m1.5 5h0m3.5-1.5h0m1-1.5h0m1.5 3h0m4 1h0m9.5-2h0m1.5-.5h0m3.5 1.5h0m2 .5h0m4 1.5h0m2.5-3.5h0m1.5 .5h0m1.5 0h0m.5 0h0m0 0h0m.5-.5h0m3.5 2h0m4-1h0m1 2h0m1.5-1h0m-64.5 3.5h0m.5 0h0m3 10h0m3.5-10.5h0m.5-.5h0m.5 2.5h0m1.5-2h0m3.5 8.5h0m3.5-5.5h0m2.5-3h0m2.5-.5h0m.5 6.5h0m.5 4h0m.5 0h0m3.5-7.5h0m1 1h0m.5 3.5h0m1.5 2h0m.5-7h0m1.5-2h0m2 5.5h0m.5 1h0m.5-6.5h0m1-.5h0m.5 6h0m1 0h0m.5 2h0m0-3.5h0m1.5 1.5h0m0 5h0m1-.5h0m1-5.5h0m.5 2.5h0m.5 1.5h0m4-3h0m2.5 3.5h0m1-4h0m1 2h0m0-.5h0m.5-.5h0m2-5.5h0m.5 3.5h0m1.5-4h0m4.5 2h0m2 4.5h0m1.5-2.5h0m.5 5h0m.5-6h0m0 2h0m.5 3.5h0m.5-4.5h0m4.5 2.5h0m.5-4h0m0 2.5h0m.5 2.5h0m1-1h0m.5-1.5h0m.5 4h0m0-7.5h0m2-2h0m1 4.5h0m1-2h0m0-2h0m1.5 4.5h0m1 .5h0m1-3h0m1-1.5h0m5 10h0m3-9h0m7.5 8h0m2 0h0m6.5 1h0m.5-4.5h0m2-4h0m1.5-1h0m3.5 2h0m.5 0h0m1.5 4h0m1.5 2.5h0m.5 .5h0m.5-8.5h0m.5-.5h0m.5 1h0m1.5 .5h0m.5 6.5h0m1-2.5h0m2-1h0m0-1.5h0m0 5h0m1-1.5h0m1-.5h0m1-1h0m1.5 3h0m.5-.5h0m0 2h0m3.5-5h0m1 1.5h0m0 3h0m7.5-2h0m3.5 1h0m3 .5h0m8 0h0m39-4h0m-203.5 14.5h0m.5 .5h0m.5-3.5h0m1.5 0h0m1 5h0m2-6h0m2 5.5h0m3-1.5h0m.5-6.5h0m1.5 4h0m0-3.5h0m.5 5.5h0m.5-6h0m1.5-1.5h0m.5 9h0m0-7.5h0m1-3h0m0 9h0m.5 0h0m0 2.5h0m.5-1.5h0m0-9.5h0m0 6.5h0m1 2.5h0m.5-1h0m0-1h0m.5-.5h0m6-4h0m3 8.5h0m1.5-4h0m1.5-4.5h0m2.5 2h0m.5-5h0m.5 3h0m2-1h0m0 7.5h0m0 0h0m.5-3h0m1 5.5h0m0-11h0m1 .5h0m0 4h0m1-.5h0m.5 6.5h0m.5-8.5h0m1 4.5h0m.5-1h0m.5-.5h0m1 3.5h0m0-5h0m.5 2.5h0m4.5 1.5h0m.5-8h0m1.5-.5h0m.5 2.5h0m1.5 2.5h0m.5 .5h0m1 2h0m1 1.5h0m2-3.5h0m1.5 3.5h0m.5-4.5h0m0 4.5h0m2-4h0m1 .5h0m.5 5.5h0m0-6h0m2.5-2h0m1 4h0m2.5-2h0m.5 3h0m1.5-5.5h0m0-2.5h0m.5 2h0m.5 5.5h0m4-4.5h0m0 2.5h0m.5 5h0m2.5-10h0m1 .5h0m1.5 1.5h0m.5 8h0m1.5-5.5h0m7 5h0m3.5-6h0m2 2h0m1.5-3h0m3.5 4.5h0m1-5h0m3 4.5h0m.5-1.5h0m.5 1h0m1-4.5h0m1.5 3.5h0m0 3h0m1-8h0m.5 4h0m1-.5h0m0 7.5h0m6-11h0m1 11h0m.5-4.5h0m0 3.5h0m0-8h0m.5 2h0m.5 6.5h0m1.5-11h0m0 7.5h0m.5-4h0m1.5 4h0m0 1.5h0m.5-6.5h0m0 7.5h0m2-9h0m0 1.5h0m.5-1h0m2 5h0m0 4.5h0m.5-10h0m0 9h0m0-3.5h0m1-5h0m2 8.5h0m1-3h0m1 0h0m0-2h0m.5-1h0m.5 5.5h0m.5-7h0m0-2h0m1 1.5h0m.5 7.5h0m2 2.5h0m0-10.5h0m0 8.5h0m2 1h0m1-8h0m2 8.5h0m1-4.5h0m.5 3h0m2.5-8.5h0m0-.5h0m.5 2.5h0m1.5 2h0m.5-3h0m.5 3h0m1 6.5h0m1.5-9.5h0m1 2.5h0m.5-2.5h0m.5 4h0m0-5.5h0m.5 0h0m2.5 10.5h0m.5-9.5h0m1.5 4.5h0m2 2h0m.5-.5h0m1.5 4h0m1-2.5h0m3-.5h0m0-2h0m.5-3.5h0m.5-1.5h0m0-.5h0m.5 0h0m1 5h0m.5-4h0m0 9h0m0-1.5h0m2-4h0m0 5.5h0m1.5-5.5h0m.5 3.5h0m3.5 1h0m7 .5h0m2.5 0h0m.5-.5h0m1.5-.5h0m6-4.5h0m-195.5 8.5h0m4.5-.5h0m6.5 5.5h0m3.5 4.5h0m.5-1h0m1.5-.5h0m2.5-8h0m1 .5h0m0-1.5h0m1.5 7h0m.5-4.5h0m.5 4.5h0m1-2h0m0-1.5h0m2 5h0m3-7h0m2.5-2.5h0m3 8h0m.5 1.5h0m1.5-1.5h0m.5 3.5h0m.5-5.5h0m0 3h0m.5-7.5h0m0 1h0m1-1.5h0m.5 7h0m2 3.5h0m0-11.5h0m5 9h0m.5-.5h0m1-3.5h0m1.5-2h0m1-1h0m2 3h0m.5 4h0m.5-2h0m1-4h0m3.5 0h0m.5-2.5h0m3 9.5h0m.5-5h0m0 5.5h0m3-10.5h0m.5 12h0m0-7h0m2.5 4.5h0m0-4.5h0m2.5 6.5h0m1.5-4.5h0m1.5-6h0m3 5.5h0m2 2h0m1.5 3h0m3-8h0m.5 .5h0m1.5 4h0m1.5 1h0m2.5-8.5h0m1 7h0m.5 3h0m0 0h0m3-3.5h0m1-5h0m2 3.5h0m2-2h0m1.5-1h0m1 8.5h0m0-3h0m1-5.5h0m2-1.5h0m3 4.5h0m0 2h0m2.5-1h0m1.5-2.5h0m0 4.5h0m1-6h0m3.5 1h0m0 8.5h0m3-4.5h0m.5 3h0m2-7.5h0m0 1.5h0m1.5-.5h0m1-2h0m.5 8h0m1-6.5h0m0 5h0m0-4.5h0m1 4h0m0-1.5h0m0 4.5h0m0-3.5h0m.5 1h0m.5-.5h0m.5-7.5h0m1.5 0h0m0 6h0m.5 4h0m.5-5.5h0m.5-4h0m.5 8.5h0m.5-8.5h0m1-.5h0m1.5 0h0m.5 9h0m.5-6.5h0m2 9h0m3-10.5h0m1 9.5h0m0-10h0m1 9h0m.5 2h0m0-10h0m.5 2.5h0m0 2.5h0m1-3h0m.5 1.5h0m1 2.5h0m2 3h0m2.5-1h0m0-1h0m2-3.5h0m0-5h0m1 2h0m.5 1.5h0m0 8h0m5-3.5h0m0 0h0m2 1.5h0m0-2.5h0m0 3.5h0m0-10h0m3 3h0m1 6.5h0m0-7.5h0m0 .5h0m1 4h0m.5 .5h0m.5 3.5h0m.5-3.5h0m.5-7.5h0m2 7.5h0m.5-6h0m.5 .5h0m0 2h0m.5 7h0m.5-10h0m.5 9.5h0m.5-4h0m1-2h0m1.5 3.5h0m.5-6.5h0m.5 7h0m1-2h0m2-2h0m0-2h0m0 1.5h0m1 4.5h0m1 .5h0m0-5.5h0m.5-3h0m0 0h0m.5 1.5h0m5.5-2h0m.5 9.5h0m2-9h0m-173 21h0m0 2h0m3-1h0m.5-4.5h0m2.5 2.5h0m2.5-3.5h0m3.5 0h0m.5 2.5h0m2-2h0m2.5 0h0m1-5.5h0m.5 8h0m0-8.5h0m3.5 4.5h0m1 7h0m1-11h0m4.5 1.5h0m.5 3.5h0m0-4h0m.5 9h0m.5-6h0m.5-1.5h0m1.5 2h0m0 6h0m1-9.5h0m4.5 .5h0m1 3h0m1 4.5h0m0-1.5h0m.5-4h0m0-3.5h0m1.5 1h0m.5 7h0m1.5-4h0m1 2.5h0m1.5-1.5h0m0 3h0m.5-1.5h0m2 1h0m.5-6h0m4 2h0m1 6.5h0m.5-1.5h0m.5 .5h0m5-7h0m1.5 4h0m.5 3.5h0m2-.5h0m1.5 0h0m1-1h0m2-7.5h0m2 4.5h0m4 6h0m2.5-7h0m7.5-3.5h0m6.5 2h0m0 4h0m.5-3h0m.5-.5h0m1 1.5h0m7.5-4h0m0 10h0m1-8.5h0m2 4.5h0m1.5-5h0m2 2.5h0m1-.5h0m1 3.5h0m1-5.5h0m.5 1.5h0m1.5 7h0m0-1h0m0-8h0m3 1h0m1 6.5h0m1-4.5h0m.5 6h0m1-7.5h0m.5 6.5h0m1.5-7.5h0m0 2.5h0m.5-.5h0m1.5 4.5h0m1.5 0h0m1.5-5h0m0 2.5h0m4 5h0m.5-10.5h0m.5 1.5h0m0 3.5h0m.5 4.5h0m1.5-1.5h0m2.5-7h0m0 8.5h0m1.5-4h0m1.5-3h0m.5 8.5h0m1-3.5h0m.5-8h0m2 5h0m1-5h0m1.5 1h0m.5-1h0m1 2.5h0m1 4h0m.5 4.5h0m2-8.5h0m0 1h0m1.5 7h0m1-4h0m.5 1h0m0 2h0m.5-4h0m.5 1h0m0-3h0m1 2h0m0-.5h0m.5-4.5h0m4 2h0m1-2h0m3 .5h0m1.5 2.5h0m-164.5 8.5h0m0 3.5h0m2-3h0m2.5 7.5h0m.5-4.5h0m.5 3h0m0-.5h0m.5-3h0m3-.5h0m.5 .5h0m0-2.5h0m1.5 8h0m3.5 .5h0m1.5 2.5h0m0-.5h0m0-7h0m1 6h0m1.5-1.5h0m.5-6.5h0m0 2h0m.5 4.5h0m0-7.5h0m.5 6.5h0m0-6h0m1.5 4h0m1-4.5h0m2.5 2h0m5-3h0m3 7h0m0-6h0m3 8h0m2-2h0m2-4h0m1-2h0m0 6.5h0m1.5 .5h0m0 1.5h0m0-2h0m1 0h0m.5-3.5h0m1.5-2h0m1.5 6h0m3 1.5h0m.5-8.5h0m1.5 3.5h0m2.5 1h0m2.5 6.5h0m1.5-2h0m0 0h0m0 0h0m0-1.5h0m.5 1h0m0 1h0m3 .5h0m4-4.5h0m.5-5h0m.5-1h0m4.5 4h0m.5 6h0m2.5-7.5h0m1 7h0m2-2h0m2 1h0m1-8.5h0m.5 11.5h0m0-6h0m3.5-6h0m1.5 8h0m2-5.5h0m.5-2.5h0m.5 5h0m.5-4.5h0m.5 11.5h0m1.5-3.5h0m4-5.5h0m.5 1h0m1 5h0m4.5-2h0m0 0h0m.5-3h0m1-1.5h0m.5-.5h0m0 3h0m.5-4.5h0m2 10h0m.5-6.5h0m1 5.5h0m.5-4h0m.5-4.5h0m2.5 2h0m0-2h0m1 8h0m1-6.5h0m.5 7h0m2.5-8.5h0m.5 10.5h0m2-5.5h0m.5 3h0m0-.5h0m1-1h0m1 3h0m0 0h0m0-6.5h0m.5 6h0m.5-8.5h0m1 3h0m0 4.5h0m.5 2h0m1-8h0m1 8h0m0-9.5h0m.5 9h0m2-5.5h0m1 6.5h0m.5-11h0m.5 3h0m3.5 8h0m.5-11h0m0-.5h0m.5 12h0m.5-11h0m4.5 8h0m6.5-7h0m0 9h0m.5-9h0m1-1h0m2 7h0m.5 2.5h0m3-2h0m0-3h0m0-4h0m1 5.5h0m-140 7.5h0m1.5-1.5h0m11 4h0m1-1.5h0m4 3.5h0m4-2h0m2 0h0m1.5 2.5h0m.5-5.5h0m1 6.5h0m3.5-2h0m2 1h0m.5 2h0m0-5h0m1 2.5h0m0-6.5h0m0 2h0m1 0h0m1 7h0m2-3h0m.5-4.5h0m1.5-1.5h0m.5 5h0m6-4h0m0 10h0m4.5-7.5h0m2.5-2h0m.5 4h0m.5-5.5h0m4.5 .5h0m.5 1.5h0m1 3h0m2-.5h0m.5 6h0m1 .5h0m1-8h0m0 1.5h0m1-3.5h0m.5 0h0m.5 9.5h0m1-.5h0m2-7h0m1-2.5h0m0-1h0m.5 5.5h0m2.5 6h0m1-7h0m1.5-3.5h0m4 .5h0m3.5 3.5h0m1-.5h0m.5-1.5h0m4 7h0m.5-7.5h0m1.5 .5h0m1 9h0m0-7.5h0m.5-2h0m0 6.5h0m0 1h0m1.5 0h0m1-9h0m3.5-.5h0m.5 10h0m.5-9.5h0m1 10h0m.5-6.5h0m2 5h0m.5-7h0m2.5 2.5h0m1.5-2.5h0m.5-1h0m0 8.5h0m.5-5.5h0m1 0h0m0 .5h0m1 0h0m1.5 4h0m.5-.5h0m.5-8h0m5.5 1.5h0m1 3.5h0m.5 6h0m0-9.5h0m1 6.5h0m1-7h0m1.5 8.5h0m3 .5h0m1 0h0m0-6.5h0m4 .5h0m.5-2h0m1-2.5h0m1.5 6h0m4-5h0m2 .5h0m1 9.5h0m-100 2h0m.5 6h0m2.5 2.5h0m1-4h0m.5-3h0m1.5 7.5h0m2-5h0m.5-2.5h0m.5 7h0m0 1.5h0m1.5-1.5h0m.5-4.5h0m4-2h0m0 1h0m.5 6.5h0m.5-5.5h0m.5-.5h0m.5 2.5h0m0 3.5h0m1-3.5h0m2.5 2.5h0m1.5-4.5h0m.5-2.5h0m1.5 4.5h0m6-5.5h0m1 1h0m3 3h0m.5 2.5h0m0-1h0m4-4.5h0m1 5.5h0m0-6h0m8.5 8h0m3.5-1.5h0m2.5-6.5h0m0 3.5h0m.5-4h0m0 5.5h0m1.5-4h0m1 5.5h0m2 .5h0m0 1.5h0m0 1h0m0-5h0m2.5-5h0m1 3.5h0m.5-4.5h0m0 0h0m0 .5h0m3 9.5h0m.5-6.5h0m2.5-4h0m.5 9h0m0 2.5h0m2.5-10.5h0m3 6.5h0m1-2.5h0m2.5-2h0m1.5 2h0m1-1.5h0m2 2h0m4.5 1.5h0m3.5 1.5h0m4.5-6h0m.5 8.5h0m1-11h0m1.5 3h0m.5 2h0m1.5-5h0m.5 1h0m1 3h0m.5 5h0m0-4.5h0m.5 7h0m1.5-3h0m0-1.5h0m1 2.5h0m0-6.5h0m1 5.5h0m2.5-1.5h0m0 2.5h0m.5-2.5h0m0 3h0m0-3h0m0-.5h0m.5 1.5h0m2 1h0m1 .5h0m-101.5 7.5h0m2-4h0m3.5 4h0m.5-4.5h0m1 2.5h0m2 0h0m2 5.5h0m.5-.5h0m.5 1h0m.5-5.5h0m1 1.5h0m1 1.5h0m2.5-.5h0m2-1.5h0m3.5-1h0m0-1h0m.5 1.5h0m1.5 6.5h0m2-3.5h0m.5-2.5h0m1 2.5h0m.5-5.5h0m1.5 0h0m1 3.5h0m.5 3h0m1.5-1.5h0m1.5-6.5h0m0 6.5h0m3.5 2h0m1-4h0m.5 3.5h0m.5 0h0m.5 1h0m0 2h0m1-11h0m.5 5h0m7.5 6h0m.5-7.5h0m3.5 5h0m.5-7h0m2.5 10.5h0m0-9.5h0m1 1h0m5.5-2.5h0m2 3h0m0 1h0m1.5-2.5h0m8.5 9h0m1.5-9h0m1.5 6.5h0m1.5-7.5h0m1.5 8h0m1-2.5h0m0-1.5h0m1 1.5h0m1.5-6.5h0m.5 5h0m1-2h0m.5 3.5h0m.5 0h0m.5-5h0m.5-2h0m0 11.5h0m.5-7.5h0m.5 2h0m1.5-1h0m1.5-4h0m0 0h0m1.5 2h0m.5 2.5h0m1 0h0m.5-1.5h0m0-3.5h0m2 5.5h0m1 6h0m1.5-9h0m1 9h0m1-6h0m3.5 .5h0m-71.5 7.5h0m4-.5h0m.5 10h0m3-8.5h0m0 3.5h0m1 2.5h0m2.5 0h0m0-7.5h0m1 5h0m3 4h0m2.5-3h0m1-6h0m0 10.5h0m4-10h0m2 1h0m3 6h0m1.5 1h0m3-4.5h0m1.5-3.5h0m1 1h0m1.5-2h0m1 7h0m1-6.5h0m.5 6h0m.5-7.5h0m0 4h0m2.5-.5h0m2-2.5h0m1 5.5h0m1 4.5h0m4.5 0h0m4-8.5h0m2-1.5h0m.5 3h0m1.5-.5h0m1.5-2.5h0m.5 9h0m.5-2h0m1-4.5h0m.5-.5h0m2.5 8.5h0m.5-3h0m1.5-5h0m2.5-.5h0m-70.5 11.5h0m8-1h0m4 5.5h0m.5-1h0m3 0h0m.5-2h0m.5 0h0m2-2h0m.5 0h0m.5-.5h0m1 5.5h0m4-6h0m2 2h0m5.5 4.5h0m.5-.5h0m0 1h0m1.5-1.5h0m.5-4h0m5.5-2h0m6 10h0m3.5-2.5h0m.5 1h0m.5-8.5h0m1.5 9.5h0m1-9.5h0m4.5 4.5h0m0 2h0m1.5-3.5h0m2.5 .5h0m.5-1.5h0m-41.5 10h0m.5 1h0m3 7h0m2.5 1h0m.5-3.5h0m7 3h0m2-3h0m.5-.5h0m2 3h0m1-7.5h0m2 7.5h0m-10 5h0m1.5-1.5h0m3 .5h0" stroke="#000004"/>
<path d="M864 221.5h0m6 5h0m1 0h0m16.5-.5h0m7-4.5h0m-106 12h0m8 0h0m10 3h0m23-7.5h0m21.5 1h0m10.5-1.5h0m.5 0h0m1.5 9h0m3-3.5h0m3-4.5h0m1.5 6h0m5-7.5h0m15 9h0m1.5-2.5h0m3-6h0m1 1.5h0m2.5-1h0m12.5 1h0m14.5 5h0m5-6h0m3.5 11h0m12.5-3.5h0m20.5-1.5h0m-189.5 11.5h0m1.5-5.5h0m1.5 0h0m7 4.5h0m9 0h0m9 4h0m6-6h0m12 7.5h0m9.5-3h0m4.5 1.5h0m8-3h0m9.5-6h0m15 9h0m2.5-5.5h0m1 2.5h0m1-1.5h0m11 6h0m5-7.5h0m5.5-2.5h0m1 1.5h0m44 6h0m21.5 0h0m7.5 3h0m-188 9h0m8-3.5h0m13.5-1h0m9-2h0m13.5-.5h0m30-1h0m15 10.5h0m11-6.5h0m4 1h0m7 4.5h0m1-4h0m60-3h0m-170 16h0m2 4.5h0m6.5-5.5h0m.5 5.5h0m12.5-1h0m4-1h0m1.5-3.5h0m1.5 1h0m.5-6.5h0m.5 5.5h0m2.5 3.5h0m3.5-2h0m6-2h0m0-3.5h0m14.5 6.5h0m10.5-8.5h0m2.5 4.5h0m7.5 .5h0m.5-2h0m18.5 4h0m8.5-6.5h0m87 0h0m-229 16h0m19.5 5.5h0m8-4h0m.5 5h0m32.5-10h0m1 7.5h0m5-4h0m.5-4.5h0m2 6.5h0m8.5-1h0m5.5-1.5h0m.5 3.5h0m6.5-3.5h0m2 1h0m7.5 3.5h0m4.5 3h0m21.5-5.5h0m21 3h0m1.5 .5h0m20 2h0m2-.5h0m29.5-7.5h0m26-1h0m21 7h0m-222.5 3.5h0m34 2h0m3-2h0m1.5 1.5h0m1.5 4.5h0m4.5-1h0m1 0h0m2 .5h0m1 4.5h0m10.5-2h0m3.5 1h0m.5-7h0m5.5 4h0m0-1.5h0m2 6h0m2.5-9h0m5 9h0m1-9.5h0m22.5 3.5h0m6.5 5h0m7.5-3.5h0m22-5h0m14.5 2h0m34 5.5h0m25-1.5h0m26-2h0m-203 12h0m4 4.5h0m29-4h0m7.5-6h0m8.5 1h0m1 .5h0m11 2.5h0m6.5 1.5h0m120.5-1h0m.5-4h0m25 8.5h0m-211 4h0m6.5 2.5h0m20.5 1h0m2.5-.5h0m13.5 6h0m3.5 1h0m11.5-1.5h0m100-5h0m6 .5h0m-139 11.5h0m3.5-3h0m39 7.5h0m69-5.5h0m72.5 0h0m13 .5h0m81 5.5h0m-194 3h0m215 6.5h0m25-1.5h0m14-5h0m9.5 9h0m-354.5 3h0m38 4.5h0m71.5 .5h0m71-3h0m91.5-1h0m14.5-1.5h0m48 .5h0m9 6h0m33-.5h0m11-1.5h0m23 1.5h0m5.5-.5h0m-180.5 17.5h0m18.5-2.5h0m26.5-3h0m24-.5h0m19.5-5.5h0m7 2.5h0m3 8h0m8-9.5h0m54.5 9h0m12-10h0m4.5 2.5h0m16 5h0m26.5 3.5h0m-440 10.5h0m220 1h0m33.5-3.5h0m16.5 2h0m6.5-8.5h0m19 4.5h0m.5 0h0m8 1h0m72-1.5h0m.5 4.5h0m21 2h0m9-4h0m19.5-4h0m116 5h0m13.5 3h0m8.5-2h0m-545.5 3.5h0m3 6h0m17 1h0m186.5-4.5h0m1.5 1.5h0m13.5 6h0m22.5-5h0m11.5 3h0m9.5-4.5h0m9 7h0m54.5-1.5h0m22-1h0m19.5 2h0m9-6h0m35.5 2.5h0m15 4h0m17.5 .5h0m94-.5h0m33-6.5h0m-373 19h0m.5-4.5h0m40-3.5h0m117 4h0m6.5-.5h0m44.5 4.5h0m13-4.5h0m125-5.5h0m32 4h0m2.5-1h0m11.5 4h0m-384.5 3.5h0m28 6.5h0m44 1.5h0m9.5-5h0m17.5 4h0m1.5 3.5h0m13.5-.5h0m23.5-1h0m37.5-7.5h0m1 4.5h0m15.5 5.5h0m54-9.5h0m155 4.5h0m1.5 2.5h0m-388 14h0m32.5-1.5h0m33-2.5h0m0-7h0m12.5 9.5h0m15-5.5h0m26.5 5.5h0m16.5-1.5h0m32-2h0m2.5 4.5h0m5-3h0m22 1h0m16.5 .5h0m156.5-7.5h0m2.5 3h0m-774 12.5h0m464 1.5h0m4 1.5h0m47 2.5h0m15.5 0h0m20-7.5h0m13 5h0m40-8h0m6.5 8.5h0m5-.5h0m29-2.5h0m0-4h0m23 8.5h0m114.5-9h0m9.5 9.5h0m7-6.5h0m11.5 3h0m-325.5 9.5h0m.5-3h0m9 3.5h0m10.5-3h0m50 .5h0m78.5 0h0m26 8.5h0m13.5-3h0m22.5-1.5h0m82.5 3.5h0m21-6h0m17.5-2.5h0m2 2.5h0m-733.5 9.5h0m0 7.5h0m309-1.5h0m61-3h0m25.5 2h0m47-.5h0m39 2.5h0m7-7.5h0m6 4.5h0m13-5.5h0m22 3h0m27-1.5h0m103.5 1.5h0m2.5 3.5h0m-273 7h0m11 2h0m18.5-2h0m19.5 2h0m22-2.5h0m1.5 5.5h0m5.5-2h0m40 6.5h0m10.5-8.5h0m30.5 5h0m4-2.5h0m1.5 4.5h0m2.5-3h0m13 1.5h0m20-2h0m.5 2.5h0m1.5 1h0m4.5 2h0m7-8h0m4 4.5h0m7-3.5h0m2 6.5h0m21-7.5h0m84.5-1h0m3.5 9h0m3.5-3h0m5-7h0m5.5 7.5h0m-690 11.5h0m524-6.5h0m22 .5h0m60 3h0m16.5-1.5h0m4.5 5h0m34 2h0m5.5-3.5h0m19.5-2h0m-356.5 18h0m42-9.5h0m61.5 4.5h0m7.5-1h0m31 1h0m20 .5h0m11.5-2h0m.5 4h0m36 0h0m31.5 0h0m113.5-3.5h0m14.5-1.5h0m-444.5 13.5h0m212 6h0m20-5.5h0m3.5 2.5h0m24-5h0m23 8h0m8.5-11h0m7.5 6.5h0m38-3.5h0m4.5-1h0m91 5h0m7 3.5h0m4-10.5h0m7 8h0m-450.5 5.5h0m14.5 3h0m4.5-1h0m4.5-1.5h0m171 4h0m16.5 4.5h0m44.5-5.5h0m7 3.5h0m34-1h0m2-6.5h0m51 6.5h0m89.5-.5h0m.5-3h0m2.5 5h0m9-7h0m-467.5 12h0m3 7.5h0m201-7h0m22-2h0m9 10h0m31.5 .5h0m76-.5h0m30 .5h0m.5-11h0m28 9.5h0m22-.5h0m28.5-1h0m9.5-7h0m.5 6h0m4.5-5h0m2 2.5h0m-438 17h0m9.5-1h0m82.5 1h0m89-1h0m18-2.5h0m70-1.5h0m26.5-4h0m-314 18h0m7 4.5h0m11-5h0m23.5 .5h0m36 3h0m1 .5h0m43.5-5h0m27.5-4h0m48 7h0m.5-5h0m30 0h0m42 8h0m22-3h0m68-4.5h0m71 7h0m8-8h0m7 8h0m3-3.5h0m2 3.5h0m5-8.5h0m1 0h0m-428.5 13.5h0m21-3.5h0m4 .5h0m10 7.5h0m41.5-3.5h0m20 6h0m36.5-8h0m11.5 2.5h0m1.5-1.5h0m12-2.5h0m0 4h0m10-4.5h0m64 6h0m27.5-.5h0m25 .5h0m5 3h0m1.5 .5h0m42-1h0m4-2h0m49 .5h0m-98.5 15.5h0m9.5-9.5h0m9.5 4.5h0m71.5 5.5h0m5.5-5h0m37-1.5h0m-432 12.5h0m83.5 2.5h0m13.5 2h0m272-2h0m31.5-2h0m11 5h0m151-1h0m25.5-9.5h0m2.5 .5h0m-515 19h0m28 3.5h0m2-12h0m28 8h0m8 3h0m57.5-9.5h0m75.5 1h0m2 9h0m13.5-9.5h0m5 6.5h0m.5-8h0m4 8.5h0m53.5-4h0m24-3h0m1.5 3.5h0m12 0h0m194.5 1.5h0m7.5 2h0m2.5 1.5h0m-565.5 12h0m8-4h0m42.5 3.5h0m5.5-9h0m4.5 2.5h0m10.5 1h0m13.5-3.5h0m8 2h0m34.5 0h0m7 4.5h0m51.5-7h0m10.5 0h0m23 5h0m29.5-1.5h0m12.5-1h0m36.5 1h0m2 7.5h0m16.5-6.5h0m12.5-2h0m231.5 7h0m-535 9h0m46.5 1.5h0m40-4h0m7.5 6.5h0m136-1h0m15-1h0m47.5 0h0m182.5-5h0m23 1.5h0m10.5 2h0m0 .5h0m-524 7.5h0m57 4.5h0m.5-5h0m98.5 2h0m29-3h0m16.5 8h0m307-8h0m32 5.5h0m8-.5h0m13.5-2.5h0m-540 7.5h0m59.5 4h0m129.5 2h0m82.5 4h0m135.5-9h0m61 1h0m20.5-.5h0m26.5 9.5h0m2.5-.5h0m28 0h0m-537 6h0m181 7h0m258.5-1h0m26-10.5h0m7 11.5h0m6-5h0m7 0h0m19.5 5h0m34-10h0m4.5-.5h0m-345.5 15.5h0m54-3h0m6.5 4h0m151.5-3h0m51 8.5h0m16-9.5h0m30 10h0m13.5-3h0m16.5-3.5h0m-311 16h0m158-6.5h0m28.5 1h0m34.5-1.5h0m1.5 3.5h0m7.5 6h0m0-.5h0m6.5-3h0m20-4h0m1 3.5h0m-408 10.5h0m156.5-3.5h0m154.5-.5h0m38 9h0m25.5-10.5h0m32.5 9.5h0m3.5-.5h0m5-6h0m30-.5h0m-448 12h0m121 4h0m133.5-3.5h0m45.5 .5h0m13 4.5h0m8.5-2.5h0m39-5h0m11.5-1h0m49.5 4.5h0m-502.5 8h0m1 0h0m148 10.5h0m182.5-4h0m15.5-5.5h0m14 2.5h0m14.5 1h0m8 5h0m1-5.5h0m0 2h0m22.5 3h0m17.5-1.5h0m10-6.5h0m-338 13.5h0m272.5 0h0m11 1h0m30 4h0m-339.5 11h0m15.5-3h0m34 5.5h0m46.5-2.5h0m177-3.5h0m24-3h0m-255 19h0m15-2h0m-47.5 13h0m24.5 .5h0m54.5-6.5h0m-103.5 23h0m9.5-6.5h0m3-1.5h0m85.5 5.5h0m-90.5 6.5h0m139 0h0m2.5-1h0m65.5 5.5h0m-252.5 11.5h0m43-5.5h0m93.5 .5h0m-93.5 15.5h0m1 .5h0m20.5 2h0m-67.5 10.5h0m23 7.5h0m8 6h0m303.5 2.5h0m-82.5 27.5h0m18.5 35.5h0m-464 170.5h0m2 2.5h0m-1.5 7.5h0m4.5 7.5h0m9.5-1.5h0m89.5 .5h0m-118 5h0m3 2.5h0m.5 2.5h0m11.5 2.5h0m4.5-3h0m49 4.5h0m6-8h0m92.5 1.5h0m-144 17h0m3.5-9.5h0m-8 18h0m10-1.5h0m7.5 3.5h0m132.5-3.5h0m-141 10.5h0m.5 8.5h0m3-1h0m1.5-6.5h0m.5-.5h0m57 1.5h0m9 2h0m48 3.5h0m18-7h0m-65.5 32h0m8 5.5h0m32 4h0m4.5-1h0m14 1.5h0m15 2h0m10.5-8.5h0m-48.5 19h0m9.5 20h0" stroke="#e85464"/>
<path d="M860.5 235h0m-42 38.5h0m124 9.5h0m-61 7h0m-27 13.5h0m-35.5 18.5h0m90-7.5h0m194.5 22.5h0m-42.5 12.5h0m132.5 17.5h0m203 18h0m-288.5 16.5h0m109 .5h0m59.5-4.5h0m-53 13.5h0m142 38.5h0m-678.5 29h0m607-1h0m69-3.5h0m5-.5h0m-41.5 63h0m126-7h0m-430 42h0m303.5 1.5h0m7-3.5h0m-270 19h0m310 5h0m-80.5 6.5h0m368 65h0m22.5-2h0m-283 37h0m192.5-.5h0m-208.5 16h0m207.5 8.5h0m-366.5 22h0m-53 28h0m179 15.5h0m-373.5 298.5h0m11.5 6h0m40 33.5h0m-54.5 2h0" stroke="#fbf7b8"/>
</g>
<rect x="1856.8" y="578.7" width="64.5" height="318.6" fill="url(#mg)"/>
<path d="M1856.8 607.4h13M1908.3 607.4h13M1856.8 679.9h13M1908.3 679.9h13M1856.8 752.4h13M1908.3 752.4h13M1856.8 824.9h13M1908.3 824.9h13M1856.8 897.3h13M1908.3 897.3h13" stroke="#fff" stroke-width="1.6" fill="none"/>
<g font-size="50">
<text x="1950" y="625.3">1.00</text><text x="1950" y="697.8">0.75</text><text x="1950" y="770.3">0.50</text><text x="1950" y="842.8">0.25</text><text x="1950" y="915.2">0.00</text>
</g>
</svg>
</body></html>
